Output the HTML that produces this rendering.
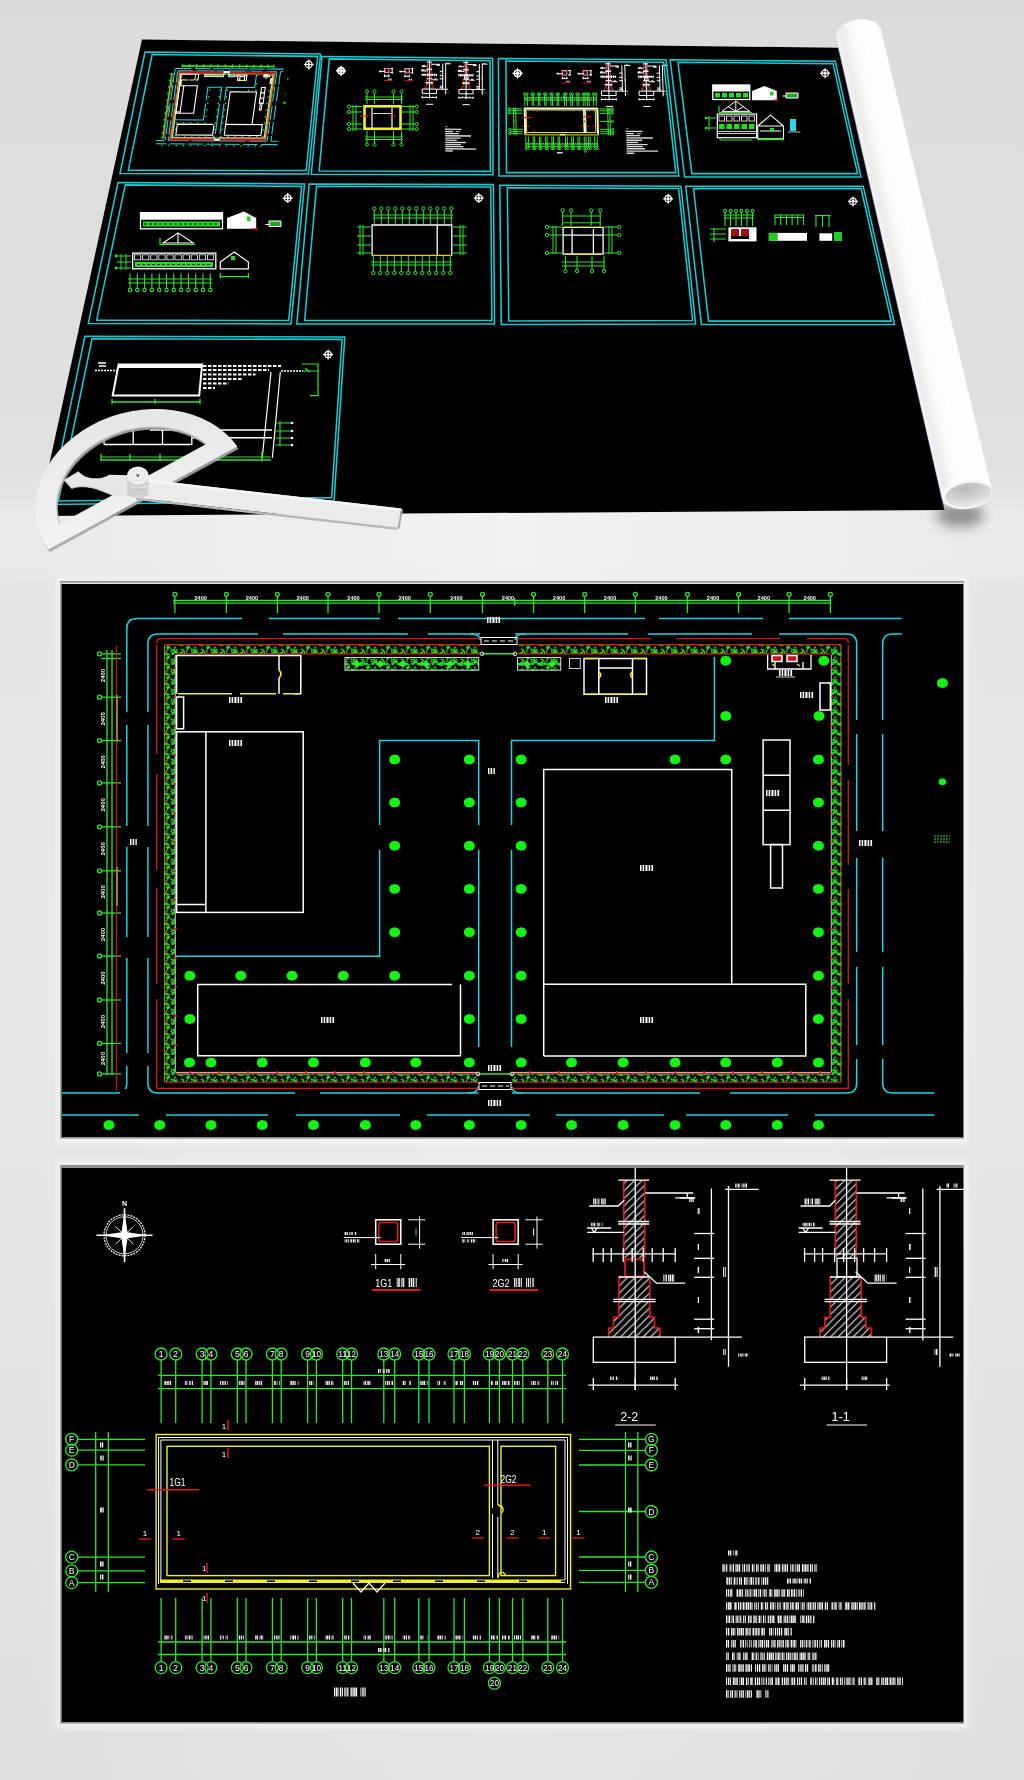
<!DOCTYPE html><html><head><meta charset="utf-8"><style>html,body{margin:0;padding:0;background:#e6e6e6}body{width:1024px;height:1780px;overflow:hidden;font-family:"Liberation Sans",sans-serif}svg{display:block;filter:blur(0.4px)}#P1m *,#P2m *,#P2am *{vector-effect:non-scaling-stroke}#P2m .pt,#P2am .pt{vector-effect:none}</style></head><body>
<svg width="1024" height="1780" viewBox="0 0 1024 1780">
<defs>
<linearGradient id="bg" x1="0" y1="0" x2="0" y2="1">
<stop offset="0" stop-color="#d9d9d9"/>
<stop offset="0.02" stop-color="#dcdcdc"/>
<stop offset="0.26" stop-color="#e0e0e0"/>
<stop offset="0.29" stop-color="#e7e7e7"/>
<stop offset="0.315" stop-color="#e7e7e7"/>
<stop offset="0.33" stop-color="#e5e5e5"/>
<stop offset="0.56" stop-color="#e8e8e8"/>
<stop offset="1" stop-color="#dedede"/>
</linearGradient>
<linearGradient id="rollg" x1="0" y1="0" x2="1" y2="0">
<stop offset="0" stop-color="#e4e4e4"/>
<stop offset="0.25" stop-color="#f6f6f6"/>
<stop offset="0.55" stop-color="#ffffff"/>
<stop offset="0.85" stop-color="#fbfbfb"/>
<stop offset="1" stop-color="#e2e2e2"/>
</linearGradient>
<radialGradient id="capg" cx="0.45" cy="0.2" r="0.85">
<stop offset="0" stop-color="#b9b9b9"/>
<stop offset="0.6" stop-color="#d6d6d6"/>
<stop offset="1" stop-color="#efefef"/>
</radialGradient>
<radialGradient id="shad" cx="0.5" cy="0.5" r="0.5">
<stop offset="0" stop-color="#000" stop-opacity="0.35"/>
<stop offset="1" stop-color="#000" stop-opacity="0"/>
</radialGradient>
<filter id="blur2" x="-50%" y="-50%" width="200%" height="200%"><feGaussianBlur stdDeviation="2"/></filter>
<filter id="blur6" x="-50%" y="-50%" width="200%" height="200%"><feGaussianBlur stdDeviation="6"/></filter>

<pattern id="hedge" width="20" height="10" patternUnits="userSpaceOnUse"><rect width="20" height="10" fill="#020e02"/><g stroke="#26e026" stroke-width="1.1" fill="none" stroke-linecap="round"><path d="M6.5,1.5 L7.1,0.1 L7.3,-0.3 M1.2,5.1 L-0.9,4.9 L-2.8,3.6 M8.5,8.3 L6.8,7.4 L7.4,8.8 M11.5,4.0 L13.6,2.5 L15.2,1.8 M2.9,1.2 L2.0,2.2 L0.6,2.5 M12.8,3.7 L13.0,2.3 L11.1,1.4 M13.6,4.3 L12.8,4.5 L12.6,3.9 M15.9,7.0 L14.8,7.2 L14.9,8.4 M14.6,2.9 L16.7,1.7 L16.3,2.5 M3.0,4.9 L1.0,5.4 L2.2,5.7 M17.5,3.1 L18.4,3.4 L18.7,3.3 M16.8,9.4 L16.7,10.0 L14.8,10.6 M12.9,9.9 L14.4,9.2 L13.9,9.8 M0.5,4.6 L-1.0,3.4 L-2.9,4.3 M2.6,2.5 L2.1,3.7 L0.3,3.5 M11.0,8.8 L12.4,10.0 L11.4,9.7 M7.2,8.8 L9.2,7.7 L7.8,6.9 M4.7,4.8 L5.1,4.1 L2.9,3.8 M7.4,5.7 L9.4,6.3 L9.4,6.6 M13.5,0.5 L15.3,1.4 L16.9,2.4 M7.8,4.0 L6.1,4.4 L4.2,3.0 M4.2,1.6 L3.5,0.2 L1.3,-0.9 M2.0,3.6 L-0.1,4.8 L0.4,3.7 M5.0,3.5 L4.4,2.3 L6.0,3.8 M9.3,4.8 L7.5,3.6 L6.8,2.8 M16.6,1.6 L14.5,3.1 L14.6,1.9"/><path transform="translate(20,0)" d="M6.5,1.5 L7.1,0.1 L7.3,-0.3 M1.2,5.1 L-0.9,4.9 L-2.8,3.6 M8.5,8.3 L6.8,7.4 L7.4,8.8 M11.5,4.0 L13.6,2.5 L15.2,1.8 M2.9,1.2 L2.0,2.2 L0.6,2.5 M12.8,3.7 L13.0,2.3 L11.1,1.4 M13.6,4.3 L12.8,4.5 L12.6,3.9 M15.9,7.0 L14.8,7.2 L14.9,8.4 M14.6,2.9 L16.7,1.7 L16.3,2.5 M3.0,4.9 L1.0,5.4 L2.2,5.7 M17.5,3.1 L18.4,3.4 L18.7,3.3 M16.8,9.4 L16.7,10.0 L14.8,10.6 M12.9,9.9 L14.4,9.2 L13.9,9.8 M0.5,4.6 L-1.0,3.4 L-2.9,4.3 M2.6,2.5 L2.1,3.7 L0.3,3.5 M11.0,8.8 L12.4,10.0 L11.4,9.7 M7.2,8.8 L9.2,7.7 L7.8,6.9 M4.7,4.8 L5.1,4.1 L2.9,3.8 M7.4,5.7 L9.4,6.3 L9.4,6.6 M13.5,0.5 L15.3,1.4 L16.9,2.4 M7.8,4.0 L6.1,4.4 L4.2,3.0 M4.2,1.6 L3.5,0.2 L1.3,-0.9 M2.0,3.6 L-0.1,4.8 L0.4,3.7 M5.0,3.5 L4.4,2.3 L6.0,3.8 M9.3,4.8 L7.5,3.6 L6.8,2.8 M16.6,1.6 L14.5,3.1 L14.6,1.9"/><path transform="translate(-20,0)" d="M6.5,1.5 L7.1,0.1 L7.3,-0.3 M1.2,5.1 L-0.9,4.9 L-2.8,3.6 M8.5,8.3 L6.8,7.4 L7.4,8.8 M11.5,4.0 L13.6,2.5 L15.2,1.8 M2.9,1.2 L2.0,2.2 L0.6,2.5 M12.8,3.7 L13.0,2.3 L11.1,1.4 M13.6,4.3 L12.8,4.5 L12.6,3.9 M15.9,7.0 L14.8,7.2 L14.9,8.4 M14.6,2.9 L16.7,1.7 L16.3,2.5 M3.0,4.9 L1.0,5.4 L2.2,5.7 M17.5,3.1 L18.4,3.4 L18.7,3.3 M16.8,9.4 L16.7,10.0 L14.8,10.6 M12.9,9.9 L14.4,9.2 L13.9,9.8 M0.5,4.6 L-1.0,3.4 L-2.9,4.3 M2.6,2.5 L2.1,3.7 L0.3,3.5 M11.0,8.8 L12.4,10.0 L11.4,9.7 M7.2,8.8 L9.2,7.7 L7.8,6.9 M4.7,4.8 L5.1,4.1 L2.9,3.8 M7.4,5.7 L9.4,6.3 L9.4,6.6 M13.5,0.5 L15.3,1.4 L16.9,2.4 M7.8,4.0 L6.1,4.4 L4.2,3.0 M4.2,1.6 L3.5,0.2 L1.3,-0.9 M2.0,3.6 L-0.1,4.8 L0.4,3.7 M5.0,3.5 L4.4,2.3 L6.0,3.8 M9.3,4.8 L7.5,3.6 L6.8,2.8 M16.6,1.6 L14.5,3.1 L14.6,1.9"/><path transform="translate(0,10)" d="M6.5,1.5 L7.1,0.1 L7.3,-0.3 M1.2,5.1 L-0.9,4.9 L-2.8,3.6 M8.5,8.3 L6.8,7.4 L7.4,8.8 M11.5,4.0 L13.6,2.5 L15.2,1.8 M2.9,1.2 L2.0,2.2 L0.6,2.5 M12.8,3.7 L13.0,2.3 L11.1,1.4 M13.6,4.3 L12.8,4.5 L12.6,3.9 M15.9,7.0 L14.8,7.2 L14.9,8.4 M14.6,2.9 L16.7,1.7 L16.3,2.5 M3.0,4.9 L1.0,5.4 L2.2,5.7 M17.5,3.1 L18.4,3.4 L18.7,3.3 M16.8,9.4 L16.7,10.0 L14.8,10.6 M12.9,9.9 L14.4,9.2 L13.9,9.8 M0.5,4.6 L-1.0,3.4 L-2.9,4.3 M2.6,2.5 L2.1,3.7 L0.3,3.5 M11.0,8.8 L12.4,10.0 L11.4,9.7 M7.2,8.8 L9.2,7.7 L7.8,6.9 M4.7,4.8 L5.1,4.1 L2.9,3.8 M7.4,5.7 L9.4,6.3 L9.4,6.6 M13.5,0.5 L15.3,1.4 L16.9,2.4 M7.8,4.0 L6.1,4.4 L4.2,3.0 M4.2,1.6 L3.5,0.2 L1.3,-0.9 M2.0,3.6 L-0.1,4.8 L0.4,3.7 M5.0,3.5 L4.4,2.3 L6.0,3.8 M9.3,4.8 L7.5,3.6 L6.8,2.8 M16.6,1.6 L14.5,3.1 L14.6,1.9"/><path transform="translate(0,-10)" d="M6.5,1.5 L7.1,0.1 L7.3,-0.3 M1.2,5.1 L-0.9,4.9 L-2.8,3.6 M8.5,8.3 L6.8,7.4 L7.4,8.8 M11.5,4.0 L13.6,2.5 L15.2,1.8 M2.9,1.2 L2.0,2.2 L0.6,2.5 M12.8,3.7 L13.0,2.3 L11.1,1.4 M13.6,4.3 L12.8,4.5 L12.6,3.9 M15.9,7.0 L14.8,7.2 L14.9,8.4 M14.6,2.9 L16.7,1.7 L16.3,2.5 M3.0,4.9 L1.0,5.4 L2.2,5.7 M17.5,3.1 L18.4,3.4 L18.7,3.3 M16.8,9.4 L16.7,10.0 L14.8,10.6 M12.9,9.9 L14.4,9.2 L13.9,9.8 M0.5,4.6 L-1.0,3.4 L-2.9,4.3 M2.6,2.5 L2.1,3.7 L0.3,3.5 M11.0,8.8 L12.4,10.0 L11.4,9.7 M7.2,8.8 L9.2,7.7 L7.8,6.9 M4.7,4.8 L5.1,4.1 L2.9,3.8 M7.4,5.7 L9.4,6.3 L9.4,6.6 M13.5,0.5 L15.3,1.4 L16.9,2.4 M7.8,4.0 L6.1,4.4 L4.2,3.0 M4.2,1.6 L3.5,0.2 L1.3,-0.9 M2.0,3.6 L-0.1,4.8 L0.4,3.7 M5.0,3.5 L4.4,2.3 L6.0,3.8 M9.3,4.8 L7.5,3.6 L6.8,2.8 M16.6,1.6 L14.5,3.1 L14.6,1.9"/></g></pattern>
<polygon id="tree" points="0.00,-4.96 1.80,-4.48 3.51,-4.16 4.41,-2.72 5.49,-1.44 5.22,0.00 5.58,1.52 4.32,2.88 3.42,4.08 1.71,4.56 0.00,4.96 -1.80,4.56 -3.51,4.16 -4.41,2.80 -5.49,1.44 -5.13,0.00 -5.49,-1.52 -4.41,-2.80 -3.42,-4.08 -1.71,-4.48" fill="#14f414"/>
<polygon id="shrub" points="-5,0 -2,-1.5 0,-4 2,-1.5 5,0 2,1.5 0,4 -2,1.5" fill="#30ee30"/>

<pattern id="hatch" width="7.5" height="7.5" patternUnits="userSpaceOnUse"><rect width="7.5" height="7.5" fill="#000"/><path d="M-1,8.5 L8.5,-1 M-1,1 L1,-1 M6.5,8.5 L8.5,6.5" stroke="#e8e8e8" stroke-width="1.15"/></pattern>
<g id="P1"><g stroke="#2ee62e" stroke-width="1.3" fill="none"><path d="M173,600.5 H831 M173,603.2 H831"/><path d="M174.9,596.5 V613"/><circle cx="174.9" cy="594.3" r="2"/><path d="M226.4,596.5 V613"/><circle cx="226.4" cy="594.3" r="2"/><path d="M277.4,596.5 V613"/><circle cx="277.4" cy="594.3" r="2"/><path d="M328,596.5 V613"/><circle cx="328" cy="594.3" r="2"/><path d="M379,596.5 V613"/><circle cx="379" cy="594.3" r="2"/><path d="M430.3,596.5 V613"/><circle cx="430.3" cy="594.3" r="2"/><path d="M482.5,596.5 V613"/><circle cx="482.5" cy="594.3" r="2"/><path d="M533.5,596.5 V613"/><circle cx="533.5" cy="594.3" r="2"/><path d="M584.7,596.5 V613"/><circle cx="584.7" cy="594.3" r="2"/><path d="M635.4,596.5 V613"/><circle cx="635.4" cy="594.3" r="2"/><path d="M687.5,596.5 V613"/><circle cx="687.5" cy="594.3" r="2"/><path d="M738.6,596.5 V613"/><circle cx="738.6" cy="594.3" r="2"/><path d="M789.1,596.5 V613"/><circle cx="789.1" cy="594.3" r="2"/><path d="M830.4,596.5 V613"/><circle cx="830.4" cy="594.3" r="2"/><path d="M514.7,598 V606"/><path d="M107,650 V1075 M112,650 V1075"/><path d="M101.5,653.8 H121"/><circle cx="99.5" cy="653.8" r="2"/><path d="M101.5,697.2 H121"/><circle cx="99.5" cy="697.2" r="2"/><path d="M101.5,740.6 H121"/><circle cx="99.5" cy="740.6" r="2"/><path d="M101.5,782.9 H121"/><circle cx="99.5" cy="782.9" r="2"/><path d="M101.5,826.8 H121"/><circle cx="99.5" cy="826.8" r="2"/><path d="M101.5,870.8 H121"/><circle cx="99.5" cy="870.8" r="2"/><path d="M101.5,913 H121"/><circle cx="99.5" cy="913" r="2"/><path d="M101.5,956.1 H121"/><circle cx="99.5" cy="956.1" r="2"/><path d="M101.5,1000 H121"/><circle cx="99.5" cy="1000" r="2"/><path d="M101.5,1043.4 H121"/><circle cx="99.5" cy="1043.4" r="2"/><path d="M101.5,1073.9 H121"/><circle cx="99.5" cy="1073.9" r="2"/><path d="M101,658.5 H121"/></g><g fill="#f4f4f4" font-family="Liberation Sans" font-size="5.6" font-weight="bold"><text x="200.65" y="600" text-anchor="middle">2400</text><text x="251.9" y="600" text-anchor="middle">2400</text><text x="302.7" y="600" text-anchor="middle">2400</text><text x="353.5" y="600" text-anchor="middle">2400</text><text x="404.65" y="600" text-anchor="middle">2400</text><text x="456.4" y="600" text-anchor="middle">2400</text><text x="508" y="600" text-anchor="middle">2400</text><text x="559.1" y="600" text-anchor="middle">2400</text><text x="610.05" y="600" text-anchor="middle">2400</text><text x="661.45" y="600" text-anchor="middle">2400</text><text x="713.05" y="600" text-anchor="middle">2400</text><text x="763.85" y="600" text-anchor="middle">2400</text><text x="809.75" y="600" text-anchor="middle">2400</text></g><g fill="#fff" font-family="Liberation Sans" font-size="6" font-weight="bold"><text transform="translate(105,675.5) rotate(-90)" text-anchor="middle">2400</text><text transform="translate(105,718.9) rotate(-90)" text-anchor="middle">2400</text><text transform="translate(105,761.75) rotate(-90)" text-anchor="middle">2400</text><text transform="translate(105,804.85) rotate(-90)" text-anchor="middle">2400</text><text transform="translate(105,848.8) rotate(-90)" text-anchor="middle">2400</text><text transform="translate(105,891.9) rotate(-90)" text-anchor="middle">2400</text><text transform="translate(105,934.55) rotate(-90)" text-anchor="middle">2400</text><text transform="translate(105,978.05) rotate(-90)" text-anchor="middle">2400</text><text transform="translate(105,1021.7) rotate(-90)" text-anchor="middle">2400</text><text transform="translate(105,1058.65) rotate(-90)" text-anchor="middle">2400</text></g><path d="M116.5,646 V1091" stroke="#c01818" stroke-width="1.3"/><path d="M117,695 V742 M117,867 V906" stroke="#a89a30" stroke-width="1.6"/><g stroke="#1ed2e2" stroke-width="1.5" fill="none"><path d="M901.5,618.5 H136.8 Q126.8,618.5 126.8,628.5 V1083 Q126.8,1093 116.8,1093 H62"/><path d="M480,634 H157.9 Q147.9,634 147.9,644 V1083 Q147.9,1093 157.9,1093 H478"/><path d="M470,634 Q480,634 480,640 M525,634 Q515,634 515,640"/><path d="M515,634 H846.7 Q856.7,634 856.7,644 V1083 Q856.7,1093 846.7,1093 H512"/><path d="M468,1093 Q478,1093 478,1087 M522,1093 Q512,1093 512,1087"/><path d="M902,634 H892.7 Q882.7,634 882.7,644 V1083 Q882.7,1093 892.7,1093 H934.4"/><path d="M62,1115 H934.4"/><path d="M176,956.3 H379.6 V740.6 H478.7 V1047"/><path d="M511.5,1047 V740.6 H714.4 V657"/></g><rect x="242" y="614" width="27" height="8" fill="#000"/><rect x="380" y="614" width="18" height="8" fill="#000"/><rect x="645" y="614" width="14" height="8" fill="#000"/><rect x="763" y="614" width="26" height="8" fill="#000"/><rect x="258" y="630" width="25" height="8" fill="#000"/><rect x="408" y="630" width="20" height="8" fill="#000"/><rect x="628" y="630" width="20" height="8" fill="#000"/><rect x="752" y="630" width="27" height="8" fill="#000"/><rect x="920" y="630" width="14" height="8" fill="#000"/><rect x="122" y="712" width="10" height="13" fill="#000"/><rect x="143" y="712" width="10" height="13" fill="#000"/><rect x="122" y="826" width="10" height="21" fill="#000"/><rect x="143" y="826" width="10" height="21" fill="#000"/><rect x="122" y="937" width="10" height="21" fill="#000"/><rect x="143" y="937" width="10" height="21" fill="#000"/><rect x="122" y="1053" width="10" height="13" fill="#000"/><rect x="143" y="1053" width="10" height="13" fill="#000"/><rect x="852" y="720" width="10" height="14" fill="#000"/><rect x="878" y="720" width="10" height="14" fill="#000"/><rect x="852" y="831" width="10" height="27" fill="#000"/><rect x="878" y="831" width="10" height="27" fill="#000"/><rect x="852" y="952" width="10" height="15" fill="#000"/><rect x="878" y="952" width="10" height="15" fill="#000"/><rect x="852" y="1045" width="10" height="14" fill="#000"/><rect x="878" y="1045" width="10" height="14" fill="#000"/><rect x="139" y="1111" width="27" height="8" fill="#000"/><rect x="268" y="1111" width="28" height="8" fill="#000"/><rect x="400" y="1111" width="27" height="8" fill="#000"/><rect x="530" y="1111" width="26" height="8" fill="#000"/><rect x="664" y="1111" width="22" height="8" fill="#000"/><rect x="788" y="1111" width="27" height="8" fill="#000"/><rect x="120" y="1089" width="8" height="8" fill="#000"/><rect x="375" y="825" width="10" height="25" fill="#000"/><rect x="474" y="825" width="10" height="25" fill="#000"/><rect x="507" y="825" width="10" height="25" fill="#000"/><rect x="295" y="1089" width="25" height="8" fill="#000"/><rect x="700" y="1089" width="30" height="8" fill="#000"/><g stroke="#d81818" stroke-width="1.4" fill="none"><path d="M480,638.6 H161 Q156.7,638.6 156.7,643 M512,1088.5 H848.3 M478,1088.5 H156.7 M848.3,643 Q848.3,638.6 844,638.6 H518"/></g><rect x="651" y="636" width="25" height="5" fill="#000"/><rect x="780" y="636" width="27" height="5" fill="#000"/><path d="M156.7,645 V754 M156.7,774 V870 M156.7,888 V984 M156.7,999 V1088.5 M848.3,645 V765 M848.3,780 V865 M848.3,889 V984 M848.3,999 V1088.5" stroke="#b82010" stroke-width="1.4"/><g fill="url(#hedge)"><rect x="164.9" y="645" width="315" height="8.8"/><rect x="518" y="645" width="322.8" height="8.8"/><rect x="164.9" y="645" width="10" height="437"/><rect x="831.8" y="645" width="9" height="437"/><rect x="164.9" y="1074" width="313" height="8"/><rect x="512" y="1074" width="328.8" height="8"/></g><path d="M164.9,644.6 H480 M518,644.6 H840.8 M164.9,1082.3 H478 M512,1082.3 H840.8" stroke="#d81818" stroke-width="1.1" fill="none"/><path d="M164.6,645 V1082 M841,645 V1082" stroke="#c8a020" stroke-width="0.9" fill="none"/><path d="M175,653.8 H480 M518,653.8 H831.8 M175,1073.6 H478 M512,1073.6 H831.8" stroke="#d81818" stroke-width="1.2" fill="none"/><path d="M175.3,655 V1072.5 M831.3,655 V1072.5 M176,1072.4 H477 M513,1072.4 H830.5" stroke="#e8e0d0" stroke-width="0.9" fill="none"/><path d="M173.5,668 h3.5 M829.8,668 h3.5 M173.5,697 h3.5 M829.8,697 h3.5 M173.5,726 h3.5 M829.8,726 h3.5 M173.5,755 h3.5 M829.8,755 h3.5 M173.5,784 h3.5 M829.8,784 h3.5 M173.5,813 h3.5 M829.8,813 h3.5 M173.5,842 h3.5 M829.8,842 h3.5 M173.5,871 h3.5 M829.8,871 h3.5 M173.5,900 h3.5 M829.8,900 h3.5 M173.5,929 h3.5 M829.8,929 h3.5 M173.5,958 h3.5 M829.8,958 h3.5 M173.5,987 h3.5 M829.8,987 h3.5 M173.5,1016 h3.5 M829.8,1016 h3.5 M173.5,1045 h3.5 M829.8,1045 h3.5 M190,1071 v3 M219,1071 v3 M248,1071 v3 M277,1071 v3 M306,1071 v3 M335,1071 v3 M364,1071 v3 M393,1071 v3 M422,1071 v3 M451,1071 v3 M530,1071 v3 M559,1071 v3 M588,1071 v3 M617,1071 v3 M646,1071 v3 M675,1071 v3 M704,1071 v3 M733,1071 v3 M762,1071 v3 M791,1071 v3 M820,1071 v3" stroke="#d81818" stroke-width="1.6"/><g stroke="#fff" stroke-width="1" fill="none"><rect x="481" y="637.5" width="36" height="7"/><path d="M484,641 H514" stroke-dasharray="5 3"/><rect x="479" y="1082.5" width="32" height="7"/><path d="M482,1086 H509" stroke-dasharray="5 3"/></g><path d="M482,653.8 H515 M478,1073.9 H512" stroke="#2ee62e" stroke-width="1.5"/><g fill="none" stroke="#fff" stroke-width="0.9"><circle cx="482" cy="653.8" r="1.8"/><circle cx="515" cy="653.8" r="1.8"/><circle cx="478" cy="1073.9" r="1.8"/><circle cx="512" cy="1073.9" r="1.8"/></g><rect x="345" y="657.6" width="133.7" height="12.6" fill="url(#hedge)" stroke="#ddd" stroke-width="1"/><rect x="517.6" y="657.6" width="43.1" height="12.6" fill="url(#hedge)" stroke="#ddd" stroke-width="1"/><use href="#shrub" x="357" y="664"/><use href="#shrub" x="380" y="664"/><use href="#shrub" x="403" y="664"/><use href="#shrub" x="426" y="664"/><use href="#shrub" x="450" y="664"/><use href="#shrub" x="468" y="664"/><use href="#shrub" x="527" y="664"/><use href="#shrub" x="552" y="664"/><rect x="569.5" y="658.5" width="10.8" height="10" fill="none" stroke="#ccc" stroke-width="1"/><g stroke="#fff" stroke-width="1.5" fill="none"><path d="M176.6,693.7 V655.6 H300.8 V693.7 H294"/><path d="M279,655.6 V670 M279,678 V693.7"/><rect x="176.6" y="697" width="7" height="31.8"/><rect x="176.6" y="731.8" width="126.6" height="180.6"/><path d="M205.9,731.8 V912.4 M176.6,904.4 H205.9"/><path d="M452,984.5 H197.7 V1055.7 H460.5 V984.5"/><path d="M543.7,1056 V769.4 H731.7 V984.2"/><path d="M543.7,984.2 H805.8 V1056 H543.7"/><rect x="763.1" y="740" width="26.9" height="104.6"/><path d="M763.1,775.3 H790 M763.1,810.2 H790"/><rect x="770.6" y="844.6" width="11.9" height="43.4"/><rect x="820" y="683" width="10.4" height="27"/><path d="M767.6,654.7 V669 H811 V654.7 M775,669 V662 M803,669 V662" stroke="#fff" stroke-width="1.3" fill="none"/><rect x="772" y="655.5" width="10" height="6" fill="#c01818"/><rect x="787" y="655.5" width="10" height="6" fill="#c01818"/><path d="M772,664 l3,2 M797,664 l3,2" stroke="#f0f020" stroke-width="1.2"/><path d="M776,677 H795" stroke="#fff" stroke-width="0.8"/><path d="M584,694.3 V658.5 H646.5 V694.3 Z M598.8,658.5 V694.3 M632.5,658.5 V694.3 M598.8,668 H632.5"/></g><g stroke="#f0f020" stroke-width="1.6" fill="none"><path d="M178,693.7 H232 M240,693.7 H276 M283,693.7 H298"/><path d="M586,694.3 H596 M601,694.3 H630 M635,694.3 H645 M586,658.5 H596 M635,658.5 H645"/><path d="M279,670 q4,4 0,8 M598.8,672 q4,3 0,6 M632.5,672 q-4,3 0,6"/></g><use href="#tree" x="725.7" y="660.7"/><use href="#tree" x="823.8" y="660.7"/><use href="#tree" x="942.4" y="683"/><use href="#tree" x="725.7" y="716"/><use href="#tree" x="819" y="716"/><use href="#tree" x="394.6" y="759.5"/><use href="#tree" x="469.3" y="759.5"/><use href="#tree" x="521.1" y="759.5"/><use href="#tree" x="675" y="759.5"/><use href="#tree" x="725.7" y="759.5"/><use href="#tree" x="818.4" y="759.5"/><use href="#tree" x="394.6" y="802.5"/><use href="#tree" x="469.3" y="802.5"/><use href="#tree" x="521.1" y="802.5"/><use href="#tree" x="818.4" y="802.5"/><use href="#tree" x="394.6" y="845.8"/><use href="#tree" x="469.3" y="845.8"/><use href="#tree" x="521.1" y="845.8"/><use href="#tree" x="818.4" y="845.8"/><use href="#tree" x="394.6" y="888.9"/><use href="#tree" x="469.3" y="888.9"/><use href="#tree" x="521.1" y="888.9"/><use href="#tree" x="818.4" y="888.9"/><use href="#tree" x="394.6" y="932.3"/><use href="#tree" x="469.3" y="932.3"/><use href="#tree" x="521.1" y="932.3"/><use href="#tree" x="818.4" y="932.3"/><use href="#tree" x="189.8" y="975.7"/><use href="#tree" x="240.8" y="975.7"/><use href="#tree" x="292" y="975.7"/><use href="#tree" x="343.3" y="975.7"/><use href="#tree" x="394.6" y="975.7"/><use href="#tree" x="469.3" y="975.7"/><use href="#tree" x="521.1" y="975.7"/><use href="#tree" x="818.4" y="975.7"/><use href="#tree" x="189.8" y="1019"/><use href="#tree" x="469.3" y="1019"/><use href="#tree" x="521.1" y="1019"/><use href="#tree" x="818.4" y="1019"/><use href="#tree" x="189.5" y="1062.5"/><use href="#tree" x="210.9" y="1062.5"/><use href="#tree" x="262.2" y="1062.5"/><use href="#tree" x="313.4" y="1062.5"/><use href="#tree" x="365.3" y="1062.5"/><use href="#tree" x="415.7" y="1062.5"/><use href="#tree" x="469.3" y="1062.5"/><use href="#tree" x="521.1" y="1062.5"/><use href="#tree" x="571.5" y="1062.5"/><use href="#tree" x="623.1" y="1062.5"/><use href="#tree" x="675" y="1062.5"/><use href="#tree" x="725.7" y="1062.5"/><use href="#tree" x="777.2" y="1062.5"/><use href="#tree" x="818.4" y="1062.5"/><use href="#tree" x="108.9" y="1125"/><use href="#tree" x="159.6" y="1125"/><use href="#tree" x="210.9" y="1125"/><use href="#tree" x="262.2" y="1125"/><use href="#tree" x="313.4" y="1125"/><use href="#tree" x="365.3" y="1125"/><use href="#tree" x="415.7" y="1125"/><use href="#tree" x="469.3" y="1125"/><use href="#tree" x="521.1" y="1125"/><use href="#tree" x="571.5" y="1125"/><use href="#tree" x="623.1" y="1125"/><use href="#tree" x="675" y="1125"/><use href="#tree" x="725.7" y="1125"/><use href="#tree" x="777.2" y="1125"/><use href="#tree" x="818.4" y="1125"/><use href="#tree" x="942.4" y="781.8" transform="translate(942.4 781.8) scale(0.7) translate(-942.4 -781.8)"/><g stroke="#2ee62e" stroke-width="1"><path d="M934,836 h16 M934,839 h16 M934,842 h16" stroke-dasharray="2 1"/></g><g class="lbl"><path d="M229,700 H242.6" stroke="#fff" stroke-width='6' stroke-dasharray='1.1 0.5 0.7 0.6 1.3 0.8 0.6 0.4' fill="none"/><path d="M229,743 H242.6" stroke="#fff" stroke-width='6' stroke-dasharray='1.1 0.5 0.7 0.6 1.3 0.8 0.6 0.4' fill="none"/><path d="M321,1020 H334.6" stroke="#fff" stroke-width='6' stroke-dasharray='1.1 0.5 0.7 0.6 1.3 0.8 0.6 0.4' fill="none"/><path d="M640,868 H653.6" stroke="#fff" stroke-width='6' stroke-dasharray='1.1 0.5 0.7 0.6 1.3 0.8 0.6 0.4' fill="none"/><path d="M640,1020 H653.6" stroke="#fff" stroke-width='6' stroke-dasharray='1.1 0.5 0.7 0.6 1.3 0.8 0.6 0.4' fill="none"/><path d="M766,793 H779.6" stroke="#fff" stroke-width='6' stroke-dasharray='1.1 0.5 0.7 0.6 1.3 0.8 0.6 0.4' fill="none"/><path d="M800,695 H813.6" stroke="#fff" stroke-width='6' stroke-dasharray='1.1 0.5 0.7 0.6 1.3 0.8 0.6 0.4' fill="none"/><path d="M779,673 H792.6" stroke="#fff" stroke-width='6' stroke-dasharray='1.1 0.5 0.7 0.6 1.3 0.8 0.6 0.4' fill="none"/><path d="M605,700 H618.6" stroke="#fff" stroke-width='6' stroke-dasharray='1.1 0.5 0.7 0.6 1.3 0.8 0.6 0.4' fill="none"/><path d="M488,771 H494.8" stroke="#fff" stroke-width='6' stroke-dasharray='1.1 0.5 0.7 0.6 1.3 0.8 0.6 0.4' fill="none"/><path d="M488,1068 H501.6" stroke="#fff" stroke-width='6' stroke-dasharray='1.1 0.5 0.7 0.6 1.3 0.8 0.6 0.4' fill="none"/><path d="M488,1103 H501.6" stroke="#fff" stroke-width='6' stroke-dasharray='1.1 0.5 0.7 0.6 1.3 0.8 0.6 0.4' fill="none"/><path d="M487,620 H500.6" stroke="#fff" stroke-width='6' stroke-dasharray='1.1 0.5 0.7 0.6 1.3 0.8 0.6 0.4' fill="none"/><path d="M130,842 H136.8" stroke="#fff" stroke-width='6' stroke-dasharray='1.1 0.5 0.7 0.6 1.3 0.8 0.6 0.4' fill="none"/><path d="M859,843 H872.6" stroke="#fff" stroke-width='6' stroke-dasharray='1.1 0.5 0.7 0.6 1.3 0.8 0.6 0.4' fill="none"/></g></g>
<g id="P2"><g stroke="#fff" fill="none" stroke-width="1.2"><circle cx="124.5" cy="1235.3" r="20.5" stroke-dasharray="2 1"/><circle cx="124.5" cy="1235.3" r="18.5" stroke-width="0.8"/><path d="M96.5,1235.3 H152.5 M124.5,1208.3 V1262.3" stroke-width="1.6"/><path d="M115.5,1226.3 L133.5,1244.3 M133.5,1226.3 L115.5,1244.3" stroke-width="0.9"/></g><polygon points="124.5,1211.3 127.5,1232.3 148.5,1235.3 127.5,1238.3 124.5,1259.3 121.5,1238.3 100.5,1235.3 121.5,1232.3" fill="#fff"/><text x="124.5" y="1206.3" fill="#fff" font-family="Liberation Sans" font-size="7" font-weight="bold" text-anchor="middle">N</text><rect x="375.7" y="1219.8" width="25.1" height="24.4" fill="none" stroke="#fff" stroke-width="1.5"/><rect x="378.7" y="1222.5" width="19" height="19" rx="2.5" fill="none" stroke="#e01818" stroke-width="1.6"/><path d="M343.7,1237.6 H380.7" stroke="#fff" stroke-width="1"/><path class="pt" d="M344.7,1233.5 H356.7" stroke="#fff" stroke-width='3.2' stroke-dasharray='1.49 0.51 1.04 1.67 0.69 0.66 0.89 0.66 0.78 1.8 1.29 0.48 1.21 0.49 1.26 0.41 1.19 1.58 1.44 0.38 1.15 0.38 1.34 1.61' fill="none"/><path class="pt" d="M344.7,1240.8 H359.7" stroke="#fff" stroke-width='3.2' stroke-dasharray='0.83 0.75 1.02 0.83 0.79 1.47 1.49 0.89 1.32 0.46 1.18 1.48 1.43 0.78 0.68 0.75 1.43 0.9 0.61 3.74 1.41 0.78 1.47 0.78 0.62 1.61' fill="none"/><g stroke="#fff" stroke-width="1" fill="none"><path d="M419.6,1216.4 V1248.6 M408,1219.8 H425.2 M408,1244.2 H425.2"/><path d="M371,1264.5 H405.2 M375.7,1254 V1269.3 M400.8,1254 V1269.3"/></g><path class="pt" d="M415.7,1232 H416.7" stroke="#fff" stroke-width='7' stroke-dasharray='0.66 0.66 1.05 1.52 1.01 0.74 0.92 0.53 0.89 0.81 0.6 1.85' fill="none"/><path class="pt" d="M384.7,1260.5 H390.7" stroke="#fff" stroke-width='3' stroke-dasharray='1.31 0.57 1.35 0.65 1.24 1.96 0.93 0.45 0.71 0.9 1.11 1.51 1.48 0.83 0.65 0.72 0.81 1.61' fill="none"/><text x="375.2" y="1287" fill="#fff" font-family="Liberation Sans" font-size="10.5" textLength="17" lengthAdjust="spacingAndGlyphs">1G1</text><path class="pt" d="M396.7,1282.5 H404.7" stroke="#fff" stroke-width='9' stroke-dasharray='0.84 0.48 0.81 0.44 0.85 1.23 1.01 0.48 1.03 0.53 0.8 0.88 1.45 1.73 1.08 0.48 0.82 1.48' fill="none"/><path class="pt" d="M408.7,1282.5 H416.7" stroke="#fff" stroke-width='9' stroke-dasharray='1.49 0.76 1.45 0.67 1.21 1.46 1.24 0.58 0.7 1.94 1.2 0.86 0.9 1.33 0.97 0.75 1.17 0.44 0.73 0.65 0.89 1.64' fill="none"/><path d="M372,1290 H420.7" stroke="#e01818" stroke-width="2"/><rect x="493.1" y="1219.8" width="25.1" height="24.4" fill="none" stroke="#fff" stroke-width="1.5"/><rect x="496.1" y="1222.5" width="19" height="19" rx="2.5" fill="none" stroke="#e01818" stroke-width="1.6"/><path d="M461.1,1237.6 H498.1" stroke="#fff" stroke-width="1"/><path class="pt" d="M462.1,1233.5 H474.1" stroke="#fff" stroke-width='3.2' stroke-dasharray='0.62 0.82 1.39 1.54 1.2 0.65 0.65 0.52 1.29 0.85 1.2 1.44 1.13 0.67 1.2 0.76 1.38 4.45' fill="none"/><path class="pt" d="M462.1,1240.8 H477.1" stroke="#fff" stroke-width='3.2' stroke-dasharray='0.64 0.52 0.76 0.59 0.71 1.9 0.65 0.58 0.69 1.74 1.23 0.74 1.16 0.43 0.79 1.72 1.05 0.55 1.3 0.62 0.84 0.5 1.47 1.55 0.94 0.68 1.4 0.78 1.45 1.82' fill="none"/><g stroke="#fff" stroke-width="1" fill="none"><path d="M537,1216.4 V1248.6 M525.4,1219.8 H542.6 M525.4,1244.2 H542.6"/><path d="M488.4,1264.5 H522.6 M493.1,1254 V1269.3 M518.2,1254 V1269.3"/></g><path class="pt" d="M533.1,1232 H534.1" stroke="#fff" stroke-width='7' stroke-dasharray='1.27 0.4 1.14 0.73 1.06 0.43 1.05 1.64 0.82 0.45 1.47 0.8 0.94 0.46 0.66 1.66' fill="none"/><path class="pt" d="M502.1,1260.5 H508.1" stroke="#fff" stroke-width='3' stroke-dasharray='0.68 0.78 0.64 0.84 1.08 0.56 1.45 3.6 1.14 0.46 0.73 0.88 0.98 1.32' fill="none"/><text x="492.6" y="1287" fill="#fff" font-family="Liberation Sans" font-size="10.5" textLength="17" lengthAdjust="spacingAndGlyphs">2G2</text><path class="pt" d="M514.1,1282.5 H522.1" stroke="#fff" stroke-width='9' stroke-dasharray='1.31 0.86 0.97 1.14 1.49 0.87 1.06 0.69 1.44 1.56 0.86 0.51 0.7 0.66 1.36 2.18' fill="none"/><path class="pt" d="M526.1,1282.5 H534.1" stroke="#fff" stroke-width='9' stroke-dasharray='1.04 0.83 1.12 0.88 0.81 1.62 0.94 0.37 1.26 0.67 0.79 4.48 1.47 0.49 0.77 2.12' fill="none"/><path d="M489.4,1290 H538.1" stroke="#e01818" stroke-width="2"/><g><rect x="623.8" y="1180.2" width="21" height="78" fill="url(#hatch)"/><rect x="618.8" y="1276.6" width="31" height="41" fill="url(#hatch)"/><rect x="613.5" y="1317.3" width="41" height="10.7" fill="url(#hatch)"/><rect x="608.6" y="1328" width="51.4" height="9.1" fill="url(#hatch)"/><path d="M623.8,1180.2 V1258.3 M644.8,1180.2 V1258.3 M618.8,1276.6 V1317.3 H613.5 V1328 H608.6 V1337 M649.8,1276.6 V1317.3 H654.5 V1328 H660 V1337" stroke="#e01818" stroke-width="1.6" fill="none"/><rect x="625" y="1259.4" width="19" height="17.2" fill="none" stroke="#e01818" stroke-width="1.8"/><g stroke="#fff" stroke-width="1.3" fill="none"><path d="M635.2,1168 V1390"/><path d="M618.2,1180.2 H649.2 M618.2,1221.5 H649.2 M618.2,1224 H649.2 M613.2,1299.4 H655.6 M613.2,1301.6 H655.6"/><rect x="593.3" y="1337.1" width="81.9" height="25.2"/><path d="M675.2,1337.1 H741.8 M645.2,1193 H693.2 M725.2,1189.4 H758.7"/><path d="M711.4,1188.6 V1340.2 M728.5,1186 V1366.8"/><path d="M694.2,1233.5 H714.2"/><path d="M694.2,1258.3 H714.2"/><path d="M694.2,1277.3 H714.2"/><path d="M694.2,1319.2 H714.2"/><path d="M694.2,1328.7 H714.2"/><path d="M588.4,1385.1 H678.2 M593.3,1378 V1390 M635.2,1378 V1390 M675.2,1378 V1390"/><path d="M592.2,1253.9 H675.7" /><path d="M593.2,1248 V1262"/><path d="M603.2,1248 V1262"/><path d="M611.2,1248 V1262"/><path d="M623.2,1248 V1262"/><path d="M632.2,1248 V1262"/><path d="M643.2,1248 V1262"/><path d="M652.2,1248 V1262"/><path d="M663.2,1248 V1262"/><path d="M675.2,1248 V1262"/><path d="M589.2,1206 H618.2 L624.2,1200 M587.2,1228 H611.2 M587.2,1232.4 H624.2 M591.2,1228 l3,4.4 3,-4.4 M675.2,1197.8 H694.2" /><path d="M644.2,1271.8 L656.5,1283.2 H685.2 M618.8,1277 H649.8"/><path d="M687.2,1193 V1198 M680.2,1198 H695.2"/></g><path class="pt" d="M593.2,1201.5 H609.2" stroke="#fff" stroke-width='6' stroke-dasharray='1.11 0.53 1.14 0.71 0.79 0.83 1.04 1.77 1.45 0.39 0.73 0.72 1.27 4.4 1.18 0.65 0.62 1.24 0.97 0.55 1.39 1.52' fill="none"/><path class="pt" d="M591.2,1224.5 H603.2" stroke="#fff" stroke-width='3.5' stroke-dasharray='1.15 0.41 0.67 0.55 1.26 1.64 0.76 0.63 0.64 0.37 0.63 1.65 0.64 0.78 0.83 0.61 0.68 0.52 1.15 3.61 1.16 0.45 1.22 0.8 0.94 2.16' fill="none"/><path class="pt" d="M663.2,1278 H675.2" stroke="#fff" stroke-width='7' stroke-dasharray='0.62 0.79 0.94 0.68 0.76 1.19 1.31 0.47 1.28 0.66 1.16 0.44 0.76 1.42 1.49 0.41 0.77 0.54 1.41 1.61 1.31 0.41 0.65 0.73 0.91 4.57' fill="none"/><path class="pt" d="M735.2,1185.5 H747.2" stroke="#fff" stroke-width='4' stroke-dasharray='0.73 0.51 1.01 0.68 1.5 1.96 0.88 0.53 0.68 0.81 1.03 0.4 1.11 1.8 0.75 0.85 1.43 2.01 0.73 0.53 0.88 0.38 1.3 3.67' fill="none"/><path class="pt" d="M738.2,1355 H748.2" stroke="#fff" stroke-width='3' stroke-dasharray='1.04 0.8 0.78 0.55 0.88 0.52 0.7 1.17 0.96 0.44 1.25 0.61 0.89 1.82 0.96 0.71 0.73 0.73 1.19 0.64 1.27 1.8' fill="none"/><path class="pt" d="M689.2,1200 H694.2" stroke="#fff" stroke-width='4' stroke-dasharray='1.2 0.58 0.78 0.69 1.2 2.01 0.95 0.74 0.82 0.58 0.82 1.74 1.28 0.84 1.13 1.79' fill="none"/><path class="pt" d="M697.7,1211 H699.7" stroke="#fff" stroke-width='6' stroke-dasharray='1.08 0.36 0.62 0.83 0.72 0.63 0.88 1.6 0.84 0.64 1.13 0.57 0.92 1.68' fill="none"/><path class="pt" d="M697.7,1247 H699.7" stroke="#fff" stroke-width='6' stroke-dasharray='1.32 0.9 0.87 0.8 1.3 1.7 0.85 0.74 0.79 0.5 1.41 1.34' fill="none"/><path class="pt" d="M697.7,1270 H699.7" stroke="#fff" stroke-width='6' stroke-dasharray='1.43 0.9 1.15 0.68 1.29 1.83 1.49 0.54 0.8 1.8' fill="none"/><path class="pt" d="M697.7,1300 H699.7" stroke="#fff" stroke-width='6' stroke-dasharray='1.22 0.76 0.69 1.54 1.21 0.57 1.35 1.4 1.15 0.75 0.72 0.87 1.16 1.61' fill="none"/><path class="pt" d="M697.7,1330 H699.7" stroke="#fff" stroke-width='6' stroke-dasharray='1.44 0.61 0.68 2.02 0.89 0.62 1.49 0.55 0.93 0.54 0.69 1.36' fill="none"/><path class="pt" d="M723.2,1272 H726.2" stroke="#fff" stroke-width='10' stroke-dasharray='1.06 0.84 0.71 0.53 1.32 0.45 1.34 1.33 1.08 0.68 0.6 0.7 0.66 4.39' fill="none"/><path class="pt" d="M723.2,1352 H726.2" stroke="#fff" stroke-width='6' stroke-dasharray='1.03 0.86 0.76 0.88 1.25 0.79 0.95 1.69 1.23 0.49 1.5 1.64' fill="none"/><path class="pt" d="M610.2,1378.3 H618.2" stroke="#fff" stroke-width='3.5' stroke-dasharray='1.07 0.45 0.61 0.72 0.83 1.98 1.34 0.74 1.0 0.78 0.93 1.45 1.1 0.73 1.29 0.5 1.48 0.38 0.65 1.57' fill="none"/><path class="pt" d="M650.2,1378.3 H658.2" stroke="#fff" stroke-width='3.5' stroke-dasharray='1.06 0.52 1.22 0.55 1.34 1.46 1.29 0.69 0.76 0.65 0.76 1.64 1.01 0.68 0.63 1.54 0.9 0.6 1.18 0.76 1.32 1.7' fill="none"/><text x="620.2" y="1421" fill="#fff" font-family="Liberation Sans" font-size="13" textLength="18" lengthAdjust="spacingAndGlyphs">2-2</text><path d="M615.2,1425 H655.7" stroke="#fff" stroke-width="1.2"/></g><g><rect x="835.2" y="1180.2" width="21" height="78" fill="url(#hatch)"/><rect x="830.2" y="1276.6" width="31" height="41" fill="url(#hatch)"/><rect x="824.9" y="1317.3" width="41" height="10.7" fill="url(#hatch)"/><rect x="820" y="1328" width="51.4" height="9.1" fill="url(#hatch)"/><path d="M835.2,1180.2 V1258.3 M856.2,1180.2 V1258.3 M830.2,1276.6 V1317.3 H824.9 V1328 H820 V1337 M861.2,1276.6 V1317.3 H865.9 V1328 H871.4 V1337" stroke="#e01818" stroke-width="1.6" fill="none"/><rect x="837" y="1258.3" width="20" height="18.3" fill="none" stroke="#fff" stroke-width="1.3"/><g stroke="#fff" stroke-width="1.3" fill="none"><path d="M846.6,1168 V1390"/><path d="M829.6,1180.2 H860.6 M829.6,1221.5 H860.6 M829.6,1224 H860.6 M824.6,1299.4 H867 M824.6,1301.6 H867"/><rect x="804.7" y="1337.1" width="81.9" height="25.2"/><path d="M886.6,1337.1 H953.2 M856.6,1193 H904.6 M936.6,1189.4 H970.1"/><path d="M922.8,1188.6 V1340.2 M939.9,1186 V1366.8"/><path d="M905.6,1233.5 H925.6"/><path d="M905.6,1258.3 H925.6"/><path d="M905.6,1277.3 H925.6"/><path d="M905.6,1319.2 H925.6"/><path d="M905.6,1328.7 H925.6"/><path d="M799.8,1385.1 H889.6 M804.7,1378 V1390 M846.6,1378 V1390 M886.6,1378 V1390"/><path d="M803.6,1253.9 H887.1" /><path d="M804.6,1248 V1262"/><path d="M814.6,1248 V1262"/><path d="M822.6,1248 V1262"/><path d="M834.6,1248 V1262"/><path d="M843.6,1248 V1262"/><path d="M854.6,1248 V1262"/><path d="M863.6,1248 V1262"/><path d="M874.6,1248 V1262"/><path d="M886.6,1248 V1262"/><path d="M800.6,1206 H829.6 L835.6,1200 M798.6,1228 H822.6 M798.6,1232.4 H835.6 M802.6,1228 l3,4.4 3,-4.4 M886.6,1197.8 H905.6" /><path d="M855.6,1271.8 L867.9,1283.2 H896.6 M830.2,1277 H861.2"/><path d="M898.6,1193 V1198 M891.6,1198 H906.6"/></g><path class="pt" d="M804.6,1201.5 H820.6" stroke="#fff" stroke-width='6' stroke-dasharray='1.33 0.56 0.99 0.49 1.18 1.41 0.81 0.64 1.09 1.71 0.95 0.52 1.45 0.47 1.3 0.8 1.37 1.84 0.7 0.56 1.45 0.72 0.68 1.82' fill="none"/><path class="pt" d="M802.6,1224.5 H814.6" stroke="#fff" stroke-width='3.5' stroke-dasharray='0.92 0.72 1.48 0.59 1.2 1.07 1.49 0.68 0.92 1.49 1.44 0.79 0.88 0.76 1.4 0.68 1.24 2.0 1.19 0.88 0.76 0.88 1.06 1.44' fill="none"/><path class="pt" d="M874.6,1278 H886.6" stroke="#fff" stroke-width='7' stroke-dasharray='1.09 0.5 1.16 0.7 1.3 0.62 0.85 1.5 1.22 0.68 0.62 1.49 0.83 0.76 1.29 1.72 1.34 0.67 0.8 1.86' fill="none"/><path class="pt" d="M946.6,1185.5 H958.6" stroke="#fff" stroke-width='4' stroke-dasharray='0.65 0.36 1.39 4.59 0.85 0.89 0.63 0.37 1.11 1.6 1.37 0.45 0.89 0.74 0.83 0.5 0.61 1.11 1.41 0.58 1.22 0.45 1.07 1.28' fill="none"/><path class="pt" d="M949.6,1355 H959.6" stroke="#fff" stroke-width='3' stroke-dasharray='1.45 0.51 0.62 0.41 0.75 1.98 0.79 0.44 1.31 0.63 1.26 1.28 1.25 0.52 0.8 0.36 1.37 0.79 0.89 1.78' fill="none"/><path class="pt" d="M900.6,1200 H905.6" stroke="#fff" stroke-width='4' stroke-dasharray='1.32 0.7 1.14 0.4 0.63 0.82 1.22 1.5 0.88 0.38 0.94 0.55 1.13 2.1' fill="none"/><path class="pt" d="M909.1,1211 H911.1" stroke="#fff" stroke-width='6' stroke-dasharray='1.12 0.79 1.37 0.39 0.73 0.4 0.82 1.44 1.25 0.7 1.28 0.39 1.44 0.78 0.94 1.1' fill="none"/><path class="pt" d="M909.1,1247 H911.1" stroke="#fff" stroke-width='6' stroke-dasharray='1.45 0.41 1.33 0.73 1.25 0.82 1.09 1.18 1.3 0.39 0.83 1.59' fill="none"/><path class="pt" d="M909.1,1270 H911.1" stroke="#fff" stroke-width='6' stroke-dasharray='0.93 0.8 1.09 0.4 0.83 1.63 1.26 0.42 0.9 0.84 1.39 3.4' fill="none"/><path class="pt" d="M909.1,1300 H911.1" stroke="#fff" stroke-width='6' stroke-dasharray='1.24 0.57 1.16 1.56 1.33 0.82 1.41 0.72 0.87 1.35' fill="none"/><path class="pt" d="M909.1,1330 H911.1" stroke="#fff" stroke-width='6' stroke-dasharray='1.36 0.59 0.61 0.73 1.28 1.25 1.42 0.63 1.05 1.62' fill="none"/><path class="pt" d="M934.6,1272 H937.6" stroke="#fff" stroke-width='10' stroke-dasharray='1.26 0.76 1.07 0.62 0.74 1.35 0.85 0.55 1.09 0.45 0.76 1.39 1.47 0.46 0.84 0.89 1.24 0.39 0.77 1.98' fill="none"/><path class="pt" d="M934.6,1352 H937.6" stroke="#fff" stroke-width='6' stroke-dasharray='0.67 0.64 1.48 0.57 0.94 1.66 0.66 0.39 1.3 1.49 1.45 0.4 0.98 0.39 1.23 0.36 1.15 0.99' fill="none"/><path class="pt" d="M821.6,1378.3 H829.6" stroke="#fff" stroke-width='3.5' stroke-dasharray='0.63 0.39 0.85 0.44 0.88 0.68 1.23 1.5 1.16 0.5 0.66 0.48 1.3 0.86 0.98 1.5 1.25 0.7 0.9 0.66 0.78 1.99' fill="none"/><path class="pt" d="M861.6,1378.3 H869.6" stroke="#fff" stroke-width='3.5' stroke-dasharray='1.01 0.84 0.97 0.56 0.91 0.46 0.97 3.44 0.86 0.86 1.14 0.88 1.49 0.76 1.08 1.17' fill="none"/><text x="831.6" y="1421" fill="#fff" font-family="Liberation Sans" font-size="13" textLength="18" lengthAdjust="spacingAndGlyphs">1-1</text><path d="M826.6,1425 H867.1" stroke="#fff" stroke-width="1.2"/></g><g stroke="#2ee62e" stroke-width="1.3" fill="none"><path d="M158,1375.4 H566 M158,1388.6 H566 M158,1642 H566 M158,1654.5 H566"/><circle cx="161.1" cy="1354" r="6"/><path d="M161.1,1360 V1423"/><circle cx="161.1" cy="1667.6" r="6"/><path d="M161.1,1598 V1661.6"/><circle cx="175.7" cy="1354" r="6"/><path d="M175.7,1360 V1423"/><circle cx="175.7" cy="1667.6" r="6"/><path d="M175.7,1598 V1661.6"/><circle cx="202.1" cy="1354" r="6"/><path d="M202.1,1360 V1423"/><circle cx="202.1" cy="1667.6" r="6"/><path d="M202.1,1598 V1661.6"/><circle cx="210.9" cy="1354" r="6"/><path d="M210.9,1360 V1423"/><circle cx="210.9" cy="1667.6" r="6"/><path d="M210.9,1598 V1661.6"/><circle cx="237.3" cy="1354" r="6"/><path d="M237.3,1360 V1423"/><circle cx="237.3" cy="1667.6" r="6"/><path d="M237.3,1598 V1661.6"/><circle cx="246" cy="1354" r="6"/><path d="M246,1360 V1423"/><circle cx="246" cy="1667.6" r="6"/><path d="M246,1598 V1661.6"/><circle cx="272.4" cy="1354" r="6"/><path d="M272.4,1360 V1423"/><circle cx="272.4" cy="1667.6" r="6"/><path d="M272.4,1598 V1661.6"/><circle cx="281.2" cy="1354" r="6"/><path d="M281.2,1360 V1423"/><circle cx="281.2" cy="1667.6" r="6"/><path d="M281.2,1598 V1661.6"/><circle cx="307.6" cy="1354" r="6"/><path d="M307.6,1360 V1423"/><circle cx="307.6" cy="1667.6" r="6"/><path d="M307.6,1598 V1661.6"/><circle cx="316.4" cy="1354" r="6"/><path d="M316.4,1360 V1423"/><circle cx="316.4" cy="1667.6" r="6"/><path d="M316.4,1598 V1661.6"/><circle cx="342.7" cy="1354" r="6"/><path d="M342.7,1360 V1423"/><circle cx="342.7" cy="1667.6" r="6"/><path d="M342.7,1598 V1661.6"/><circle cx="351.5" cy="1354" r="6"/><path d="M351.5,1360 V1423"/><circle cx="351.5" cy="1667.6" r="6"/><path d="M351.5,1598 V1661.6"/><circle cx="383.8" cy="1354" r="6"/><path d="M383.8,1360 V1423"/><circle cx="383.8" cy="1667.6" r="6"/><path d="M383.8,1598 V1661.6"/><circle cx="394.7" cy="1354" r="6"/><path d="M394.7,1360 V1423"/><circle cx="394.7" cy="1667.6" r="6"/><path d="M394.7,1598 V1661.6"/><circle cx="418.8" cy="1354" r="6"/><path d="M418.8,1360 V1423"/><circle cx="418.8" cy="1667.6" r="6"/><path d="M418.8,1598 V1661.6"/><circle cx="429" cy="1354" r="6"/><path d="M429,1360 V1423"/><circle cx="429" cy="1667.6" r="6"/><path d="M429,1598 V1661.6"/><circle cx="454" cy="1354" r="6"/><path d="M454,1360 V1423"/><circle cx="454" cy="1667.6" r="6"/><path d="M454,1598 V1661.6"/><circle cx="464.4" cy="1354" r="6"/><path d="M464.4,1360 V1423"/><circle cx="464.4" cy="1667.6" r="6"/><path d="M464.4,1598 V1661.6"/><circle cx="489.4" cy="1354" r="6"/><path d="M489.4,1360 V1423"/><circle cx="489.4" cy="1667.6" r="6"/><path d="M489.4,1598 V1661.6"/><circle cx="499.4" cy="1354" r="6"/><path d="M499.4,1360 V1423"/><circle cx="499.4" cy="1667.6" r="6"/><path d="M499.4,1598 V1661.6"/><circle cx="512.5" cy="1354" r="6"/><path d="M512.5,1360 V1423"/><circle cx="512.5" cy="1667.6" r="6"/><path d="M512.5,1598 V1661.6"/><circle cx="522.8" cy="1354" r="6"/><path d="M522.8,1360 V1423"/><circle cx="522.8" cy="1667.6" r="6"/><path d="M522.8,1598 V1661.6"/><circle cx="547.8" cy="1354" r="6"/><path d="M547.8,1360 V1423"/><circle cx="547.8" cy="1667.6" r="6"/><path d="M547.8,1598 V1661.6"/><circle cx="562.5" cy="1354" r="6"/><path d="M562.5,1360 V1423"/><circle cx="562.5" cy="1667.6" r="6"/><path d="M562.5,1598 V1661.6"/><circle cx="494.4" cy="1683.2" r="6"/><circle cx="71.7" cy="1439.3" r="6"/><path d="M77.7,1439.3 H145"/><circle cx="71.7" cy="1450.1" r="6"/><path d="M77.7,1450.1 H145"/><circle cx="71.7" cy="1464.8" r="6"/><path d="M77.7,1464.8 H145"/><circle cx="71.7" cy="1557.1" r="6"/><path d="M77.7,1557.1 H145"/><circle cx="71.7" cy="1570.9" r="6"/><path d="M77.7,1570.9 H145"/><circle cx="71.7" cy="1582.6" r="6"/><path d="M77.7,1582.6 H145"/><circle cx="651.4" cy="1439.4" r="6"/><path d="M579,1439.4 H645.4"/><circle cx="651.4" cy="1450.3" r="6"/><path d="M579,1450.3 H645.4"/><circle cx="651.4" cy="1465" r="6"/><path d="M579,1465 H645.4"/><circle cx="651.4" cy="1511.5" r="6"/><path d="M579,1511.5 H645.4"/><circle cx="651.4" cy="1557" r="6"/><path d="M579,1557 H645.4"/><circle cx="651.4" cy="1570.3" r="6"/><path d="M579,1570.3 H645.4"/><circle cx="651.4" cy="1582.3" r="6"/><path d="M579,1582.3 H645.4"/><path d="M95.7,1432 V1592 M108.3,1432 V1592 M625.5,1432 V1592 M637.8,1432 V1592"/></g><g fill="#fff" font-family="Liberation Sans" font-size="8.5" text-anchor="middle"><text x="161.1" y="1357" >1</text><text x="161.1" y="1670.6" >1</text><text x="175.7" y="1357" >2</text><text x="175.7" y="1670.6" >2</text><text x="202.1" y="1357" >3</text><text x="202.1" y="1670.6" >3</text><text x="210.9" y="1357" >4</text><text x="210.9" y="1670.6" >4</text><text x="237.3" y="1357" >5</text><text x="237.3" y="1670.6" >5</text><text x="246" y="1357" >6</text><text x="246" y="1670.6" >6</text><text x="272.4" y="1357" >7</text><text x="272.4" y="1670.6" >7</text><text x="281.2" y="1357" >8</text><text x="281.2" y="1670.6" >8</text><text x="307.6" y="1357" >9</text><text x="307.6" y="1670.6" >9</text><text x="316.4" y="1357" textLength="9" lengthAdjust="spacingAndGlyphs">10</text><text x="316.4" y="1670.6" textLength="9" lengthAdjust="spacingAndGlyphs">10</text><text x="342.7" y="1357" textLength="9" lengthAdjust="spacingAndGlyphs">11</text><text x="342.7" y="1670.6" textLength="9" lengthAdjust="spacingAndGlyphs">11</text><text x="351.5" y="1357" textLength="9" lengthAdjust="spacingAndGlyphs">12</text><text x="351.5" y="1670.6" textLength="9" lengthAdjust="spacingAndGlyphs">12</text><text x="383.8" y="1357" textLength="9" lengthAdjust="spacingAndGlyphs">13</text><text x="383.8" y="1670.6" textLength="9" lengthAdjust="spacingAndGlyphs">13</text><text x="394.7" y="1357" textLength="9" lengthAdjust="spacingAndGlyphs">14</text><text x="394.7" y="1670.6" textLength="9" lengthAdjust="spacingAndGlyphs">14</text><text x="418.8" y="1357" textLength="9" lengthAdjust="spacingAndGlyphs">15</text><text x="418.8" y="1670.6" textLength="9" lengthAdjust="spacingAndGlyphs">15</text><text x="429" y="1357" textLength="9" lengthAdjust="spacingAndGlyphs">16</text><text x="429" y="1670.6" textLength="9" lengthAdjust="spacingAndGlyphs">16</text><text x="454" y="1357" textLength="9" lengthAdjust="spacingAndGlyphs">17</text><text x="454" y="1670.6" textLength="9" lengthAdjust="spacingAndGlyphs">17</text><text x="464.4" y="1357" textLength="9" lengthAdjust="spacingAndGlyphs">18</text><text x="464.4" y="1670.6" textLength="9" lengthAdjust="spacingAndGlyphs">18</text><text x="489.4" y="1357" textLength="9" lengthAdjust="spacingAndGlyphs">19</text><text x="489.4" y="1670.6" textLength="9" lengthAdjust="spacingAndGlyphs">19</text><text x="499.4" y="1357" textLength="9" lengthAdjust="spacingAndGlyphs">20</text><text x="499.4" y="1670.6" textLength="9" lengthAdjust="spacingAndGlyphs">20</text><text x="512.5" y="1357" textLength="9" lengthAdjust="spacingAndGlyphs">21</text><text x="512.5" y="1670.6" textLength="9" lengthAdjust="spacingAndGlyphs">21</text><text x="522.8" y="1357" textLength="9" lengthAdjust="spacingAndGlyphs">22</text><text x="522.8" y="1670.6" textLength="9" lengthAdjust="spacingAndGlyphs">22</text><text x="547.8" y="1357" textLength="9" lengthAdjust="spacingAndGlyphs">23</text><text x="547.8" y="1670.6" textLength="9" lengthAdjust="spacingAndGlyphs">23</text><text x="562.5" y="1357" textLength="9" lengthAdjust="spacingAndGlyphs">24</text><text x="562.5" y="1670.6" textLength="9" lengthAdjust="spacingAndGlyphs">24</text><text x="71.7" y="1442.3">F</text><text x="71.7" y="1453.1">E</text><text x="71.7" y="1467.8">D</text><text x="71.7" y="1560.1">C</text><text x="71.7" y="1573.9">B</text><text x="71.7" y="1585.6">A</text><text x="651.4" y="1442.4">G</text><text x="651.4" y="1453.3">F</text><text x="651.4" y="1468">E</text><text x="651.4" y="1514.5">D</text><text x="651.4" y="1560">C</text><text x="651.4" y="1573.3">B</text><text x="651.4" y="1585.3">A</text><text x="494.4" y="1686.2" textLength="9" lengthAdjust="spacingAndGlyphs">20</text></g><path class="pt" d="M164.4,1383 H172.4" stroke="#fff" stroke-width='4' stroke-dasharray='1.42 0.69 1.25 0.52 1.07 0.67 1.11 1.79 0.67 0.83 0.89 1.92 1.44 0.64 1.31 0.67 0.99 1.65' fill="none"/><path class="pt" d="M164.4,1637.5 H172.4" stroke="#fff" stroke-width='4' stroke-dasharray='1.32 0.55 1.38 0.86 0.79 1.61 0.69 0.38 1.13 0.8 1.06 1.69 1.39 0.52 0.76 0.8 0.89 1.82' fill="none"/><path class="pt" d="M184.9,1383 H192.9" stroke="#fff" stroke-width='4' stroke-dasharray='0.9 0.65 0.85 1.81 0.63 0.61 0.74 0.82 1.1 0.51 0.83 1.64 1.04 0.73 0.9 0.54 0.68 1.65' fill="none"/><path class="pt" d="M184.9,1637.5 H192.9" stroke="#fff" stroke-width='4' stroke-dasharray='0.79 0.75 0.95 1.24 1.42 0.63 0.82 0.87 0.83 1.88 1.21 0.39 0.72 0.62 0.83 0.9 1.37 1.87' fill="none"/><path class="pt" d="M203.6,1383 H209.4" stroke="#fff" stroke-width='4' stroke-dasharray='1.11 0.55 0.86 0.35 1.41 1.7 1.35 0.77 0.97 0.41 0.67 1.22 0.7 0.36 0.65 0.73 1.41 0.86 1.14 1.97' fill="none"/><path class="pt" d="M203.6,1637.5 H209.4" stroke="#fff" stroke-width='4' stroke-dasharray='0.86 0.88 0.76 0.36 0.74 0.56 1.35 1.09 1.3 0.87 0.68 0.82 1.43 1.77 1.21 0.86 1.25 0.6 1.39 1.62' fill="none"/><path class="pt" d="M220.1,1383 H228.1" stroke="#fff" stroke-width='4' stroke-dasharray='1.07 0.86 0.77 0.58 1.07 0.73 0.92 1.39 1.16 0.81 1.15 0.75 0.61 0.52 0.8 1.68 1.5 0.59 1.35 1.41' fill="none"/><path class="pt" d="M220.1,1637.5 H228.1" stroke="#fff" stroke-width='4' stroke-dasharray='0.86 0.75 0.64 0.76 0.69 1.81 0.61 0.64 0.81 0.87 1.05 1.22 1.23 0.66 0.75 0.75 0.82 1.6' fill="none"/><path class="pt" d="M238.8,1383 H244.5" stroke="#fff" stroke-width='4' stroke-dasharray='1.01 0.81 1.16 0.4 1.08 0.54 0.78 1.73 1.36 0.63 1.32 1.73 1.4 0.74 1.19 1.08' fill="none"/><path class="pt" d="M238.8,1637.5 H244.5" stroke="#fff" stroke-width='4' stroke-dasharray='1.48 0.82 1.09 0.85 0.7 1.77 0.66 0.49 0.93 0.41 0.83 0.66 0.71 4.01' fill="none"/><path class="pt" d="M255.2,1383 H263.2" stroke="#fff" stroke-width='4' stroke-dasharray='1.4 0.54 1.34 0.83 0.76 0.62 1.36 3.97 1.1 0.7 0.76 0.67 0.64 1.91' fill="none"/><path class="pt" d="M255.2,1637.5 H263.2" stroke="#fff" stroke-width='4' stroke-dasharray='1.16 0.39 1.17 1.65 0.9 0.6 0.91 0.5 1.49 0.48 1.12 1.56 1.31 0.42 0.7 0.84 1.34 0.87 0.66 1.57' fill="none"/><path class="pt" d="M273.9,1383 H279.7" stroke="#fff" stroke-width='4' stroke-dasharray='0.88 0.4 0.75 0.84 0.63 1.65 0.83 0.89 0.7 0.47 1.06 0.42 1.36 1.5 0.89 0.86 1.45 1.48' fill="none"/><path class="pt" d="M273.9,1637.5 H279.7" stroke="#fff" stroke-width='4' stroke-dasharray='1.23 0.83 0.86 0.59 1.12 0.64 1.45 1.43 1.3 0.48 0.61 0.88 1.42 1.74' fill="none"/><path class="pt" d="M290.4,1383 H298.4" stroke="#fff" stroke-width='4' stroke-dasharray='1.5 0.63 1.31 0.66 1.15 2.13 1.1 0.55 0.61 0.79 0.82 1.48 0.68 0.81 0.67 0.74 1.48 1.85' fill="none"/><path class="pt" d="M290.4,1637.5 H298.4" stroke="#fff" stroke-width='4' stroke-dasharray='0.74 0.77 0.75 0.36 0.99 0.53 1.42 1.55 0.86 0.39 1.35 0.69 0.63 0.85 0.88 4.16' fill="none"/><path class="pt" d="M309.1,1383 H314.9" stroke="#fff" stroke-width='4' stroke-dasharray='0.83 0.6 1.44 0.8 0.61 4.24 1.34 0.74 0.75 1.73 1.38 0.79 0.86 0.44 1.38 0.59 1.42 3.97' fill="none"/><path class="pt" d="M309.1,1637.5 H314.9" stroke="#fff" stroke-width='4' stroke-dasharray='1.34 0.82 1.14 1.46 0.81 0.87 0.75 0.63 1.26 4.35 0.86 0.84 1.26 0.54 0.75 1.38' fill="none"/><path class="pt" d="M325.55,1383 H333.55" stroke="#fff" stroke-width='4' stroke-dasharray='1.06 0.5 1.42 0.47 0.83 1.35 1.38 0.66 0.77 0.62 1.3 1.5 1.1 0.8 0.97 0.87 1.01 1.69' fill="none"/><path class="pt" d="M325.55,1637.5 H333.55" stroke="#fff" stroke-width='4' stroke-dasharray='1.0 0.36 1.37 0.64 1.12 1.5 1.06 0.43 0.72 1.41 1.4 0.4 0.8 0.81 1.26 0.36 1.16 1.39' fill="none"/><path class="pt" d="M344.2,1383 H350" stroke="#fff" stroke-width='4' stroke-dasharray='1.42 0.75 0.8 0.71 1.15 1.45 1.07 0.68 0.86 1.36 0.88 0.86 1.44 4.54' fill="none"/><path class="pt" d="M344.2,1637.5 H350" stroke="#fff" stroke-width='4' stroke-dasharray='0.78 0.49 1.29 1.25 1.33 0.67 0.84 1.79 0.8 0.56 1.37 0.68 1.47 1.76' fill="none"/><path class="pt" d="M363.65,1383 H371.65" stroke="#fff" stroke-width='4' stroke-dasharray='0.89 0.56 1.05 1.17 1.46 0.46 1.09 1.57 0.87 0.5 0.9 0.58 0.92 1.3 1.23 0.82 0.83 0.4 1.2 1.22' fill="none"/><path class="pt" d="M363.65,1637.5 H371.65" stroke="#fff" stroke-width='4' stroke-dasharray='0.71 0.84 0.8 1.57 1.2 0.54 1.39 2.0 1.47 0.83 1.23 0.77 0.69 0.55 0.66 4.2' fill="none"/><path class="pt" d="M385.3,1383 H393.2" stroke="#fff" stroke-width='4' stroke-dasharray='1.02 0.8 1.33 0.6 0.82 1.64 1.48 0.9 1.09 0.45 1.39 1.89 1.28 0.36 0.6 0.67 1.17 0.4 1.21 1.27' fill="none"/><path class="pt" d="M385.3,1637.5 H393.2" stroke="#fff" stroke-width='4' stroke-dasharray='0.7 0.36 0.99 0.69 1.39 1.19 0.66 0.65 0.61 1.76 1.03 0.37 0.81 1.35 1.17 0.85 0.64 1.07' fill="none"/><path class="pt" d="M402.75,1383 H410.75" stroke="#fff" stroke-width='4' stroke-dasharray='1.25 0.51 1.14 3.76 1.36 0.53 0.67 0.49 0.67 1.4 0.67 0.42 1.02 0.59 1.08 2.11' fill="none"/><path class="pt" d="M402.75,1637.5 H410.75" stroke="#fff" stroke-width='4' stroke-dasharray='0.61 0.71 1.24 0.77 0.92 1.05 0.83 0.7 0.67 0.45 0.94 2.2 0.98 0.71 0.83 0.87 0.64 1.69' fill="none"/><path class="pt" d="M420.3,1383 H427.5" stroke="#fff" stroke-width='4' stroke-dasharray='1.29 0.7 1.1 0.38 1.39 1.63 1.04 0.88 0.85 0.38 0.87 1.78 1.38 0.69 0.94 3.66' fill="none"/><path class="pt" d="M420.3,1637.5 H427.5" stroke="#fff" stroke-width='4' stroke-dasharray='1.4 0.71 0.96 3.8 0.63 0.76 1.09 0.4 1.35 1.56 1.12 0.61 0.72 0.81 0.63 1.39' fill="none"/><path class="pt" d="M437.5,1383 H445.5" stroke="#fff" stroke-width='4' stroke-dasharray='0.78 0.81 1.0 3.65 0.79 0.4 0.68 0.89 1.04 2.05 1.29 0.62 0.91 0.53 1.11 0.38 0.78 1.43' fill="none"/><path class="pt" d="M437.5,1637.5 H445.5" stroke="#fff" stroke-width='4' stroke-dasharray='1.44 0.58 1.36 0.73 1.1 1.93 0.89 0.5 1.13 0.88 0.88 2.2 1.06 0.37 0.99 0.35 1.47 1.06' fill="none"/><path class="pt" d="M455.5,1383 H462.9" stroke="#fff" stroke-width='4' stroke-dasharray='1.37 0.55 0.67 1.86 1.31 0.51 1.35 0.51 1.02 0.44 1.24 1.93 0.62 0.48 0.76 0.63 0.84 1.15' fill="none"/><path class="pt" d="M455.5,1637.5 H462.9" stroke="#fff" stroke-width='4' stroke-dasharray='1.29 0.57 1.23 0.6 1.29 2.07 1.14 0.39 1.02 0.72 0.89 1.85 1.25 0.44 1.02 0.69 1.22 1.69' fill="none"/><path class="pt" d="M472.9,1383 H480.9" stroke="#fff" stroke-width='4' stroke-dasharray='1.33 0.87 1.07 0.82 1.27 3.15 1.21 0.56 1.14 0.54 1.22 1.88 0.89 0.64 1.49 0.49 1.3 1.67' fill="none"/><path class="pt" d="M472.9,1637.5 H480.9" stroke="#fff" stroke-width='4' stroke-dasharray='1.48 0.67 1.29 0.86 0.7 1.8 1.07 0.4 1.12 0.73 1.46 0.76 0.86 1.47 1.48 0.45 1.22 1.6' fill="none"/><path class="pt" d="M490.9,1383 H497.9" stroke="#fff" stroke-width='4' stroke-dasharray='1.03 0.46 0.71 2.12 1.41 0.4 0.8 0.47 1.3 0.37 0.81 1.6 0.82 0.62 0.97 3.84' fill="none"/><path class="pt" d="M490.9,1637.5 H497.9" stroke="#fff" stroke-width='4' stroke-dasharray='1.28 0.56 1.21 0.44 0.66 1.49 1.18 0.81 0.82 1.88 1.07 0.56 0.65 0.64 1.14 1.5' fill="none"/><path class="pt" d="M501.95,1383 H509.95" stroke="#fff" stroke-width='4' stroke-dasharray='0.96 0.7 1.28 0.46 1.12 1.39 1.28 0.44 0.92 0.64 1.04 0.77 1.34 1.59 0.71 0.64 1.1 0.5 0.97 1.32' fill="none"/><path class="pt" d="M501.95,1637.5 H509.95" stroke="#fff" stroke-width='4' stroke-dasharray='1.43 0.59 0.6 0.45 1.19 1.96 1.43 0.87 1.25 0.54 1.18 1.54 0.74 0.83 0.65 0.83 1.2 0.63 0.82 1.6' fill="none"/><path class="pt" d="M514,1383 H521.3" stroke="#fff" stroke-width='4' stroke-dasharray='0.83 0.72 0.89 0.55 0.9 0.84 0.86 1.75 0.7 0.86 1.32 0.66 1.32 0.37 1.01 1.8' fill="none"/><path class="pt" d="M514,1637.5 H521.3" stroke="#fff" stroke-width='4' stroke-dasharray='1.19 0.83 1.19 0.41 1.46 0.84 1.18 1.41 1.31 0.54 0.66 0.67 0.91 0.89 1.39 2.09' fill="none"/><path class="pt" d="M531.3,1383 H539.3" stroke="#fff" stroke-width='4' stroke-dasharray='0.95 0.72 0.97 0.6 1.11 1.82 0.78 0.58 1.41 0.89 0.64 1.65 1.15 0.78 1.05 0.54 1.42 1.28' fill="none"/><path class="pt" d="M531.3,1637.5 H539.3" stroke="#fff" stroke-width='4' stroke-dasharray='1.17 0.35 1.07 0.35 1.05 1.88 1.42 0.46 1.15 0.36 0.66 1.5 0.74 0.38 1.36 0.62 1.21 1.68' fill="none"/><path class="pt" d="M551.15,1383 H559.15" stroke="#fff" stroke-width='4' stroke-dasharray='0.97 0.67 0.85 1.62 0.66 0.78 1.25 1.42 0.96 0.46 0.91 2.02 0.75 0.53 1.33 1.27' fill="none"/><path class="pt" d="M551.15,1637.5 H559.15" stroke="#fff" stroke-width='4' stroke-dasharray='0.68 0.38 1.29 0.52 1.5 0.72 0.83 1.58 0.94 0.66 0.74 0.68 1.44 1.77 1.45 0.84 0.62 1.81' fill="none"/><path class="pt" d="M378,1371 H390" stroke="#fff" stroke-width='4' stroke-dasharray='1.4 0.79 0.68 1.88 0.66 0.45 0.65 1.67 0.98 0.64 0.97 0.65 1.14 1.22 0.98 0.39 1.04 0.81 0.81 1.88 1.4 0.73 1.37 0.45 1.01 2.27' fill="none"/><path class="pt" d="M378,1650 H390" stroke="#fff" stroke-width='4' stroke-dasharray='1.47 0.51 1.12 0.5 0.61 1.38 0.77 0.49 1.41 1.93 1.04 0.57 0.72 0.85 1.05 1.37 1.49 0.62 1.25 1.37' fill="none"/><path class="pt" d="M100,1445 H104" stroke="#fff" stroke-width='5' stroke-dasharray='0.94 0.64 1.42 0.8 0.74 0.81 1.09 1.52 0.66 0.69 1.35 0.56 1.42 0.44 0.93 1.56' fill="none"/><path class="pt" d="M628,1445 H632" stroke="#fff" stroke-width='5' stroke-dasharray='1.45 0.79 1.23 0.47 1.45 1.91 1.16 0.82 1.3 1.95' fill="none"/><path class="pt" d="M100,1458 H104" stroke="#fff" stroke-width='5' stroke-dasharray='0.71 0.58 1.18 0.89 1.04 1.59 0.69 0.36 0.68 0.45 1.34 1.57 0.88 0.36 0.89 0.86 0.91 0.57 0.78 1.96' fill="none"/><path class="pt" d="M628,1458 H632" stroke="#fff" stroke-width='5' stroke-dasharray='0.85 0.48 1.09 0.89 1.09 0.86 1.29 1.34 0.9 0.48 0.83 0.53 0.94 1.76' fill="none"/><path class="pt" d="M100,1510 H104" stroke="#fff" stroke-width='5' stroke-dasharray='0.83 0.36 1.36 0.74 1.24 0.75 1.22 1.31 1.41 0.4 1.08 3.52' fill="none"/><path class="pt" d="M628,1510 H632" stroke="#fff" stroke-width='5' stroke-dasharray='1.21 0.37 1.28 0.53 1.28 1.72 0.69 0.68 0.63 0.62 0.65 0.65 1.29 1.66' fill="none"/><path class="pt" d="M100,1564 H104" stroke="#fff" stroke-width='5' stroke-dasharray='1.2 0.41 1.16 0.68 1.07 1.31 1.5 0.44 0.87 0.83 1.04 1.28 0.94 0.49 0.78 0.45 1.01 1.08' fill="none"/><path class="pt" d="M628,1564 H632" stroke="#fff" stroke-width='5' stroke-dasharray='0.8 0.85 1.43 0.72 0.67 1.42 0.99 0.41 1.17 0.45 0.88 0.43 1.2 1.64' fill="none"/><path class="pt" d="M100,1577 H104" stroke="#fff" stroke-width='5' stroke-dasharray='0.92 0.86 1.48 0.61 0.7 0.64 0.65 4.78 0.79 0.56 1.42 0.39 1.38 1.74' fill="none"/><path class="pt" d="M628,1577 H632" stroke="#fff" stroke-width='5' stroke-dasharray='0.85 0.86 1.43 0.51 1.22 1.74 1.25 0.39 1.29 0.68 0.66 0.48 1.49 2.18' fill="none"/><g fill="none" stroke="#f0f020" stroke-width="1.4"><rect x="156.1" y="1434.5" width="414.5" height="154.5"/><rect x="167" y="1446.3" width="322.4" height="129.3"/><rect x="501" y="1446.3" width="54.6" height="129.3"/><path d="M160,1581.3 H565" stroke-width="3.6"/></g><path d="M165,1581.3 H565" stroke="#000" stroke-width="1.5" stroke-dasharray="0 18 8 16"/><g fill="none" stroke="#fff" stroke-width="1"><path d="M158.6,1584 V1437.5 H567.5 V1584 M160.9,1580 V1440 H565 V1580 M492.5,1440 V1508 M492.5,1514 V1578 M497.8,1440 V1505 M497.8,1517 V1578"/><path d="M353,1583 l8,9 8,-9 8,9 8,-9" stroke-width="1.2"/></g><path d="M497.8,1505 q8,2 4,8 M497.8,1578 q2,-10 8,-3" stroke="#f0f020" stroke-width="1.3" fill="none"/><g fill="#fff" font-family="Liberation Sans" font-size="10" ><text x="169.5" y="1486" textLength="16" lengthAdjust="spacingAndGlyphs">1G1</text><text x="500.5" y="1483" textLength="16" lengthAdjust="spacingAndGlyphs">2G2</text></g><path d="M147.3,1489.7 H199.2 M483.8,1485.3 H530.6" stroke="#e01818" stroke-width="1.5"/><g fill="#fff" font-family="Liberation Sans" font-size="8" text-anchor="middle"><text x="224" y="1429">1</text><text x="224" y="1457">1</text><text x="145" y="1536">1</text><text x="178.7" y="1536">1</text><text x="204.2" y="1571">1</text><text x="204.2" y="1601">1</text><text x="477.8" y="1535">2</text><text x="512.6" y="1535">2</text><text x="544.2" y="1535">1</text><text x="578.4" y="1535">1</text></g><g stroke="#e01818" stroke-width="1.4"><path d="M139,1539 H151"/><path d="M172.7,1539 H184.7"/><path d="M471.8,1538 H483.8"/><path d="M506.6,1538 H518.6"/><path d="M538.2,1538 H550.2"/><path d="M572.4,1538 H584.4"/><path d="M228,1420 V1430"/><path d="M228,1448 V1458"/><path d="M207,1563 V1573"/><path d="M207,1593 V1603"/></g><path class="pt" d="M334,1692 H366" stroke="#fff" stroke-width='9' stroke-dasharray='1.34 0.69 1.17 0.39 0.88 1.37 1.17 0.7 1.15 1.43 0.82 0.41 0.98 0.71 1.21 2.09 1.3 0.61 1.28 0.48 1.31 0.36 1.28 3.33 0.9 0.77 0.68 0.53 1.19 0.66 0.65 1.47 1.13 0.46 1.06 1.55 0.82 0.78 1.35 1.67' fill="none"/><path class="pt" d="M728,1553 H738" stroke="#fff" stroke-width='5' stroke-dasharray='1.47 0.68 1.29 2.01 0.69 0.88 0.72 0.43 1.23 1.54 0.87 0.72 1.07 0.76 0.62 0.76 0.98 1.78' fill="none"/><path class="pt" d="M722.4,1567.9 H818.6" stroke="#fff" stroke-width='7.5' stroke-dasharray='1.34 0.57 1.01 0.89 1.15 2.15 1.12 0.88 0.76 0.71 1.0 1.42 1.25 0.5 1.29 0.6 1.15 2.08 0.84 0.73 1.3 1.3 0.61 0.42 1.04 0.64 0.77 1.89 1.22 0.55 0.88 1.62 0.86 0.51 1.15 1.74 1.33 0.84 1.45 0.89 0.79 1.72 1.27 0.73 0.68 4.4 1.06 0.5 1.35 0.43 0.68 0.48 1.28 1.59 1.02 0.67 0.9 0.43 1.03 0.77 1.37 2.28 0.9 0.72 0.94 0.72 0.69 1.13 0.88 0.87 1.4 0.52 0.93 1.89 1.15 0.51 1.15 0.51 1.36 0.73 1.32 1.43 1.38 0.82 0.84 1.29 1.16 0.86 0.65 2.11 1.08 0.68 1.11 0.7 1.14 0.69 0.84 2.08' fill="none"/><path class="pt" d="M726,1581.1 H769.9" stroke="#fff" stroke-width='7.5' stroke-dasharray='0.66 0.51 1.02 0.64 1.31 0.63 1.01 1.9 1.34 0.57 0.77 0.85 0.67 1.23 0.98 0.6 1.2 2.07 1.26 0.39 1.03 0.82 0.76 1.35 0.97 0.36 1.39 0.67 0.81 1.39 0.66 0.59 0.89 0.89 1.3 1.96 0.79 0.79 1.22 0.72 1.33 0.79 1.16 1.69 1.13 0.54 0.69 0.84 0.98 1.28 0.85 0.72 1.28 0.83 0.6 1.39' fill="none"/><path class="pt" d="M726,1593 H804" stroke="#fff" stroke-width='7.5' stroke-dasharray='1.16 0.78 0.98 0.83 1.07 0.4 1.17 4.14 1.36 0.74 1.21 0.37 1.24 0.76 0.92 1.72 0.83 0.89 1.21 0.86 0.82 0.82 1.08 1.32 0.77 0.72 1.03 0.42 1.43 1.29 0.78 0.66 1.41 1.49 0.75 0.76 1.25 0.87 0.72 1.86 0.7 0.51 1.08 0.47 0.66 1.77 0.83 0.38 1.41 0.48 1.2 0.49 0.79 1.85 1.23 0.36 0.64 0.47 1.03 1.73 1.41 0.4 0.96 1.34 0.94 0.38 1.02 0.54 1.19 1.17 0.63 0.82 0.72 0.86 0.72 0.64 1.29 1.36 0.85 0.69 1.18 0.65 1.47 1.2 1.25 0.69 1.44 1.77' fill="none"/><path class="pt" d="M726,1606.1 H875.3" stroke="#fff" stroke-width='7.5' stroke-dasharray='0.89 0.83 1.42 0.36 1.46 0.52 0.6 1.85 0.68 0.51 1.48 1.4 1.24 0.78 0.93 0.7 0.7 0.66 1.48 1.17 1.5 0.48 1.33 0.74 1.44 0.5 0.87 1.82 1.04 0.87 0.77 0.83 0.96 1.97 1.48 0.36 0.65 1.68 1.5 0.72 0.96 1.92 1.27 0.5 0.67 0.41 0.97 0.85 0.75 1.45 0.81 0.86 0.93 0.89 0.65 1.78 0.76 0.46 0.96 0.65 1.02 0.6 1.33 1.5 1.22 0.8 1.45 1.23 0.71 0.48 1.0 0.54 1.39 1.76 0.62 0.87 1.28 0.72 0.64 1.87 0.78 0.66 1.34 0.6 1.35 1.15 1.17 0.75 1.33 1.57 0.63 0.53 1.28 0.54 1.22 0.43 0.9 1.84 1.33 0.69 1.11 3.59 1.39 0.87 0.9 0.61 1.39 2.03 0.85 0.8 1.3 3.28 0.82 0.4 1.46 0.49 1.35 1.91 1.29 0.64 1.24 0.52 1.11 0.6 0.93 1.35 1.02 0.39 1.24 0.65 1.15 0.83 1.33 1.98 1.07 0.78 1.09 0.56 1.23 1.81 1.35 0.59 0.87 0.46 0.99 1.38 1.22 0.5 1.21 1.9' fill="none"/><path class="pt" d="M726,1619.3 H814.7" stroke="#fff" stroke-width='7.5' stroke-dasharray='1.35 0.57 0.66 0.43 1.21 1.29 0.79 0.53 1.18 1.63 1.03 0.58 1.06 0.53 0.61 0.84 1.09 1.64 0.84 0.83 1.17 2.04 1.41 0.6 0.87 0.48 0.65 1.49 1.35 0.56 0.62 0.39 0.8 1.47 1.36 0.57 0.87 1.58 1.28 0.88 0.66 1.91 1.18 0.83 1.46 0.59 0.98 0.39 1.32 3.16 1.48 0.55 1.28 0.45 0.64 1.62 0.85 0.37 0.98 0.78 1.27 0.82 0.81 1.09 1.45 0.36 1.41 0.47 1.49 4.5 0.65 0.85 1.09 0.37 1.25 1.32 1.4 0.7 1.45 0.89 1.2 1.69 1.2 0.79 0.87 0.51 1.49 1.27 1.03 0.56 0.98 0.53 0.73 1.35' fill="none"/><path class="pt" d="M726,1631.7 H792.3" stroke="#fff" stroke-width='7.5' stroke-dasharray='1.08 0.75 1.44 1.8 1.29 0.47 1.08 0.62 0.85 1.78 1.41 0.61 1.29 0.53 1.35 0.54 0.99 1.56 1.31 0.52 1.18 0.75 0.63 0.46 0.69 1.55 1.38 0.7 1.03 0.56 1.19 0.85 1.39 1.32 0.78 0.38 1.31 0.48 0.89 4.32 1.3 0.56 1.06 0.73 0.75 1.47 1.15 0.9 0.93 0.8 1.44 0.87 1.14 2.15 1.44 0.37 1.32 0.55 0.76 1.79 1.16 0.77 1.34 0.64 0.68 1.59 1.07 0.59 1.3 0.5 1.31 0.58 1.36 3.53' fill="none"/><path class="pt" d="M726,1643.8 H845" stroke="#fff" stroke-width='7.5' stroke-dasharray='1.1 0.61 1.37 2.08 0.73 0.7 1.23 0.63 1.31 4.19 0.85 0.71 0.66 0.6 1.29 1.23 0.87 0.8 0.64 1.67 0.66 0.77 0.92 1.61 0.71 0.61 1.15 0.39 0.87 1.43 1.04 0.77 1.33 0.46 1.23 1.01 0.91 0.83 1.42 0.51 1.29 2.15 1.09 0.49 0.68 0.7 1.26 1.64 1.33 0.73 1.17 0.44 0.73 0.88 1.37 1.53 0.9 0.48 1.07 0.52 0.88 1.46 1.33 0.58 1.04 0.46 1.06 0.51 0.69 3.74 1.24 0.75 0.94 0.73 0.86 1.14 1.11 0.78 0.76 0.9 1.35 1.85 0.77 0.67 0.69 0.57 0.91 0.77 1.02 1.5 0.82 0.88 0.87 2.1 1.12 0.36 1.36 0.79 1.42 1.98 1.17 0.72 0.91 0.71 0.84 1.87 1.01 0.56 1.15 1.21 0.63 0.88 1.28 0.47 0.64 1.48 1.15 0.38 0.76 1.49 0.66 0.48 0.91 0.45 0.75 1.28' fill="none"/><path class="pt" d="M726,1656.2 H817.3" stroke="#fff" stroke-width='7.5' stroke-dasharray='0.79 0.75 1.21 3.3 1.27 0.47 0.88 2.08 0.74 0.78 1.45 0.71 0.61 1.91 0.83 0.81 1.24 0.5 1.24 4.08 1.48 0.36 0.84 1.27 1.22 0.88 0.85 1.86 0.85 0.43 1.03 0.88 1.11 2.17 1.38 0.69 1.35 0.38 1.19 0.6 1.42 1.16 0.76 0.65 0.99 0.49 0.96 0.41 1.15 1.23 1.41 0.55 0.85 1.65 1.23 0.71 1.41 0.81 1.01 1.09 0.94 0.61 0.78 0.44 1.29 0.62 0.73 1.75 0.68 0.36 1.29 0.52 1.39 0.5 1.37 1.94 1.04 0.54 1.04 2.04 0.88 0.43 0.96 0.66 1.27 1.05 0.96 0.39 1.2 0.53 1.21 1.15 1.38 0.37 1.32 0.39 1.06 1.3' fill="none"/><path class="pt" d="M726,1668.1 H829.2" stroke="#fff" stroke-width='7.5' stroke-dasharray='1.42 0.87 0.76 0.37 1.16 1.99 0.91 0.69 0.73 0.47 0.82 1.72 0.8 0.39 0.85 0.48 1.29 0.69 1.39 1.6 1.36 0.62 1.33 0.37 0.96 0.84 1.17 3.06 1.04 0.87 1.19 0.8 1.24 1.91 1.45 0.67 0.76 0.49 0.78 1.92 1.29 0.79 0.65 0.79 0.63 1.86 1.29 0.67 0.93 0.43 1.34 4.25 1.11 0.5 1.44 0.69 1.25 2.14 1.17 0.49 1.02 0.47 1.38 3.44 1.2 0.86 1.34 0.73 1.19 1.46 1.02 0.62 1.47 3.76 0.77 0.78 0.91 0.78 1.43 1.55 1.42 0.69 0.96 0.86 0.68 1.59 1.23 0.82 1.39 0.36 1.09 1.39 0.79 0.7 1.12 0.83 1.28 1.67 0.7 0.78 1.4 2.05' fill="none"/><path class="pt" d="M726,1681.3 H903" stroke="#fff" stroke-width='7.5' stroke-dasharray='1.15 0.89 1.21 0.64 1.0 1.93 1.06 0.42 1.34 0.72 1.46 1.69 0.76 0.72 1.33 0.37 1.3 1.98 1.01 0.63 1.05 1.4 0.73 0.36 0.8 0.4 0.7 1.73 1.29 0.84 1.48 0.7 1.07 1.33 0.91 0.83 0.6 0.83 0.62 0.86 0.95 1.22 1.14 0.89 1.28 0.46 0.92 1.97 0.7 0.6 1.21 0.5 1.49 2.26 1.43 0.86 1.39 0.8 1.37 0.74 0.86 1.69 0.75 0.53 1.05 0.6 1.46 1.82 1.1 0.8 0.9 0.86 1.39 1.8 0.83 0.86 0.97 3.63 0.69 0.38 0.77 0.72 0.89 1.31 0.88 0.82 0.79 1.46 1.02 0.87 1.31 0.66 1.09 0.61 1.41 1.36 1.21 0.5 1.04 1.75 1.29 0.37 0.93 1.67 0.75 0.41 1.13 1.58 0.99 0.75 1.19 1.53 0.71 0.72 0.75 0.72 1.48 0.67 1.14 1.21 0.69 0.88 1.21 3.9 1.46 0.85 1.25 1.65 1.17 0.68 0.8 1.91 0.61 0.4 1.43 0.49 1.33 3.76 1.45 0.63 1.08 1.85 1.31 0.68 1.08 0.81 1.49 0.4 1.24 1.36 1.33 0.63 1.05 0.58 0.99 0.44 0.88 1.55 0.69 0.37 0.65 0.64 1.34 1.4 1.15 0.66 1.19 0.37 0.8 0.76 0.67 1.95 1.01 0.44 1.12 0.41 1.44 1.65' fill="none"/><path class="pt" d="M726,1693.9 H769" stroke="#fff" stroke-width='7.5' stroke-dasharray='1.42 0.52 0.72 1.51 1.24 0.62 1.06 1.49 1.1 0.87 0.91 1.81 1.18 0.78 1.01 0.55 1.06 1.62 0.74 0.86 1.48 0.7 1.08 0.82 0.85 4.46 1.4 0.52 1.28 0.81 0.81 4.1 1.09 0.86 0.9 0.56 0.81 1.96 1.14 0.62 1.48 0.7 0.69 1.28' fill="none"/><path class="pt" d="M787,1581.1 H811" stroke="#fff" stroke-width='5' stroke-dasharray='1.02 0.42 0.86 0.52 1.12 1.6 1.08 0.63 1.39 0.83 1.04 1.21 1.36 0.59 1.36 1.62 0.97 0.62 0.87 0.51 1.15 1.8 1.3 0.51 0.99 0.81 1.49 1.44 0.88 0.67 1.37 0.38 1.09 1.92' fill="none"/></g>
<g id="P2a"><g stroke="#fff" fill="none" stroke-width="1.2"><circle cx="124.5" cy="1235.3" r="20.5" stroke-dasharray="2 1"/><circle cx="124.5" cy="1235.3" r="18.5" stroke-width="0.8"/><path d="M96.5,1235.3 H152.5 M124.5,1208.3 V1262.3" stroke-width="1.6"/><path d="M115.5,1226.3 L133.5,1244.3 M133.5,1226.3 L115.5,1244.3" stroke-width="0.9"/></g><polygon points="124.5,1211.3 127.5,1232.3 148.5,1235.3 127.5,1238.3 124.5,1259.3 121.5,1238.3 100.5,1235.3 121.5,1232.3" fill="#fff"/><text x="124.5" y="1206.3" fill="#fff" font-family="Liberation Sans" font-size="7" font-weight="bold" text-anchor="middle">N</text><rect x="375.7" y="1219.8" width="25.1" height="24.4" fill="none" stroke="#fff" stroke-width="1.5"/><rect x="378.7" y="1222.5" width="19" height="19" rx="2.5" fill="none" stroke="#e01818" stroke-width="1.6"/><path d="M343.7,1237.6 H380.7" stroke="#fff" stroke-width="1"/><path class="pt" d="M344.7,1233.5 H356.7" stroke="#fff" stroke-width='3.2' stroke-dasharray='1.49 0.51 1.04 1.67 0.69 0.66 0.89 0.66 0.78 1.8 1.29 0.48 1.21 0.49 1.26 0.41 1.19 1.58 1.44 0.38 1.15 0.38 1.34 1.61' fill="none"/><path class="pt" d="M344.7,1240.8 H359.7" stroke="#fff" stroke-width='3.2' stroke-dasharray='0.83 0.75 1.02 0.83 0.79 1.47 1.49 0.89 1.32 0.46 1.18 1.48 1.43 0.78 0.68 0.75 1.43 0.9 0.61 3.74 1.41 0.78 1.47 0.78 0.62 1.61' fill="none"/><g stroke="#fff" stroke-width="1" fill="none"><path d="M419.6,1216.4 V1248.6 M408,1219.8 H425.2 M408,1244.2 H425.2"/><path d="M371,1264.5 H405.2 M375.7,1254 V1269.3 M400.8,1254 V1269.3"/></g><path class="pt" d="M415.7,1232 H416.7" stroke="#fff" stroke-width='7' stroke-dasharray='0.66 0.66 1.05 1.52 1.01 0.74 0.92 0.53 0.89 0.81 0.6 1.85' fill="none"/><path class="pt" d="M384.7,1260.5 H390.7" stroke="#fff" stroke-width='3' stroke-dasharray='1.31 0.57 1.35 0.65 1.24 1.96 0.93 0.45 0.71 0.9 1.11 1.51 1.48 0.83 0.65 0.72 0.81 1.61' fill="none"/><text x="375.2" y="1287" fill="#fff" font-family="Liberation Sans" font-size="10.5" textLength="17" lengthAdjust="spacingAndGlyphs">1G1</text><path class="pt" d="M396.7,1282.5 H404.7" stroke="#fff" stroke-width='9' stroke-dasharray='0.84 0.48 0.81 0.44 0.85 1.23 1.01 0.48 1.03 0.53 0.8 0.88 1.45 1.73 1.08 0.48 0.82 1.48' fill="none"/><path class="pt" d="M408.7,1282.5 H416.7" stroke="#fff" stroke-width='9' stroke-dasharray='1.49 0.76 1.45 0.67 1.21 1.46 1.24 0.58 0.7 1.94 1.2 0.86 0.9 1.33 0.97 0.75 1.17 0.44 0.73 0.65 0.89 1.64' fill="none"/><path d="M372,1290 H420.7" stroke="#e01818" stroke-width="2"/><rect x="493.1" y="1219.8" width="25.1" height="24.4" fill="none" stroke="#fff" stroke-width="1.5"/><rect x="496.1" y="1222.5" width="19" height="19" rx="2.5" fill="none" stroke="#e01818" stroke-width="1.6"/><path d="M461.1,1237.6 H498.1" stroke="#fff" stroke-width="1"/><path class="pt" d="M462.1,1233.5 H474.1" stroke="#fff" stroke-width='3.2' stroke-dasharray='0.62 0.82 1.39 1.54 1.2 0.65 0.65 0.52 1.29 0.85 1.2 1.44 1.13 0.67 1.2 0.76 1.38 4.45' fill="none"/><path class="pt" d="M462.1,1240.8 H477.1" stroke="#fff" stroke-width='3.2' stroke-dasharray='0.64 0.52 0.76 0.59 0.71 1.9 0.65 0.58 0.69 1.74 1.23 0.74 1.16 0.43 0.79 1.72 1.05 0.55 1.3 0.62 0.84 0.5 1.47 1.55 0.94 0.68 1.4 0.78 1.45 1.82' fill="none"/><g stroke="#fff" stroke-width="1" fill="none"><path d="M537,1216.4 V1248.6 M525.4,1219.8 H542.6 M525.4,1244.2 H542.6"/><path d="M488.4,1264.5 H522.6 M493.1,1254 V1269.3 M518.2,1254 V1269.3"/></g><path class="pt" d="M533.1,1232 H534.1" stroke="#fff" stroke-width='7' stroke-dasharray='1.27 0.4 1.14 0.73 1.06 0.43 1.05 1.64 0.82 0.45 1.47 0.8 0.94 0.46 0.66 1.66' fill="none"/><path class="pt" d="M502.1,1260.5 H508.1" stroke="#fff" stroke-width='3' stroke-dasharray='0.68 0.78 0.64 0.84 1.08 0.56 1.45 3.6 1.14 0.46 0.73 0.88 0.98 1.32' fill="none"/><text x="492.6" y="1287" fill="#fff" font-family="Liberation Sans" font-size="10.5" textLength="17" lengthAdjust="spacingAndGlyphs">2G2</text><path class="pt" d="M514.1,1282.5 H522.1" stroke="#fff" stroke-width='9' stroke-dasharray='1.31 0.86 0.97 1.14 1.49 0.87 1.06 0.69 1.44 1.56 0.86 0.51 0.7 0.66 1.36 2.18' fill="none"/><path class="pt" d="M526.1,1282.5 H534.1" stroke="#fff" stroke-width='9' stroke-dasharray='1.04 0.83 1.12 0.88 0.81 1.62 0.94 0.37 1.26 0.67 0.79 4.48 1.47 0.49 0.77 2.12' fill="none"/><path d="M489.4,1290 H538.1" stroke="#e01818" stroke-width="2"/><g><rect x="623.8" y="1180.2" width="21" height="78" fill="url(#hatch)"/><rect x="618.8" y="1276.6" width="31" height="41" fill="url(#hatch)"/><rect x="613.5" y="1317.3" width="41" height="10.7" fill="url(#hatch)"/><rect x="608.6" y="1328" width="51.4" height="9.1" fill="url(#hatch)"/><path d="M623.8,1180.2 V1258.3 M644.8,1180.2 V1258.3 M618.8,1276.6 V1317.3 H613.5 V1328 H608.6 V1337 M649.8,1276.6 V1317.3 H654.5 V1328 H660 V1337" stroke="#e01818" stroke-width="1.6" fill="none"/><rect x="625" y="1259.4" width="19" height="17.2" fill="none" stroke="#e01818" stroke-width="1.8"/><g stroke="#fff" stroke-width="1.3" fill="none"><path d="M635.2,1168 V1390"/><path d="M618.2,1180.2 H649.2 M618.2,1221.5 H649.2 M618.2,1224 H649.2 M613.2,1299.4 H655.6 M613.2,1301.6 H655.6"/><rect x="593.3" y="1337.1" width="81.9" height="25.2"/><path d="M675.2,1337.1 H741.8 M645.2,1193 H693.2 M725.2,1189.4 H758.7"/><path d="M711.4,1188.6 V1340.2 M728.5,1186 V1366.8"/><path d="M694.2,1233.5 H714.2"/><path d="M694.2,1258.3 H714.2"/><path d="M694.2,1277.3 H714.2"/><path d="M694.2,1319.2 H714.2"/><path d="M694.2,1328.7 H714.2"/><path d="M588.4,1385.1 H678.2 M593.3,1378 V1390 M635.2,1378 V1390 M675.2,1378 V1390"/><path d="M592.2,1253.9 H675.7" /><path d="M593.2,1248 V1262"/><path d="M603.2,1248 V1262"/><path d="M611.2,1248 V1262"/><path d="M623.2,1248 V1262"/><path d="M632.2,1248 V1262"/><path d="M643.2,1248 V1262"/><path d="M652.2,1248 V1262"/><path d="M663.2,1248 V1262"/><path d="M675.2,1248 V1262"/><path d="M589.2,1206 H618.2 L624.2,1200 M587.2,1228 H611.2 M587.2,1232.4 H624.2 M591.2,1228 l3,4.4 3,-4.4 M675.2,1197.8 H694.2" /><path d="M644.2,1271.8 L656.5,1283.2 H685.2 M618.8,1277 H649.8"/><path d="M687.2,1193 V1198 M680.2,1198 H695.2"/></g><path class="pt" d="M593.2,1201.5 H609.2" stroke="#fff" stroke-width='6' stroke-dasharray='1.11 0.53 1.14 0.71 0.79 0.83 1.04 1.77 1.45 0.39 0.73 0.72 1.27 4.4 1.18 0.65 0.62 1.24 0.97 0.55 1.39 1.52' fill="none"/><path class="pt" d="M591.2,1224.5 H603.2" stroke="#fff" stroke-width='3.5' stroke-dasharray='1.15 0.41 0.67 0.55 1.26 1.64 0.76 0.63 0.64 0.37 0.63 1.65 0.64 0.78 0.83 0.61 0.68 0.52 1.15 3.61 1.16 0.45 1.22 0.8 0.94 2.16' fill="none"/><path class="pt" d="M663.2,1278 H675.2" stroke="#fff" stroke-width='7' stroke-dasharray='0.62 0.79 0.94 0.68 0.76 1.19 1.31 0.47 1.28 0.66 1.16 0.44 0.76 1.42 1.49 0.41 0.77 0.54 1.41 1.61 1.31 0.41 0.65 0.73 0.91 4.57' fill="none"/><path class="pt" d="M735.2,1185.5 H747.2" stroke="#fff" stroke-width='4' stroke-dasharray='0.73 0.51 1.01 0.68 1.5 1.96 0.88 0.53 0.68 0.81 1.03 0.4 1.11 1.8 0.75 0.85 1.43 2.01 0.73 0.53 0.88 0.38 1.3 3.67' fill="none"/><path class="pt" d="M738.2,1355 H748.2" stroke="#fff" stroke-width='3' stroke-dasharray='1.04 0.8 0.78 0.55 0.88 0.52 0.7 1.17 0.96 0.44 1.25 0.61 0.89 1.82 0.96 0.71 0.73 0.73 1.19 0.64 1.27 1.8' fill="none"/><path class="pt" d="M689.2,1200 H694.2" stroke="#fff" stroke-width='4' stroke-dasharray='1.2 0.58 0.78 0.69 1.2 2.01 0.95 0.74 0.82 0.58 0.82 1.74 1.28 0.84 1.13 1.79' fill="none"/><path class="pt" d="M697.7,1211 H699.7" stroke="#fff" stroke-width='6' stroke-dasharray='1.08 0.36 0.62 0.83 0.72 0.63 0.88 1.6 0.84 0.64 1.13 0.57 0.92 1.68' fill="none"/><path class="pt" d="M697.7,1247 H699.7" stroke="#fff" stroke-width='6' stroke-dasharray='1.32 0.9 0.87 0.8 1.3 1.7 0.85 0.74 0.79 0.5 1.41 1.34' fill="none"/><path class="pt" d="M697.7,1270 H699.7" stroke="#fff" stroke-width='6' stroke-dasharray='1.43 0.9 1.15 0.68 1.29 1.83 1.49 0.54 0.8 1.8' fill="none"/><path class="pt" d="M697.7,1300 H699.7" stroke="#fff" stroke-width='6' stroke-dasharray='1.22 0.76 0.69 1.54 1.21 0.57 1.35 1.4 1.15 0.75 0.72 0.87 1.16 1.61' fill="none"/><path class="pt" d="M697.7,1330 H699.7" stroke="#fff" stroke-width='6' stroke-dasharray='1.44 0.61 0.68 2.02 0.89 0.62 1.49 0.55 0.93 0.54 0.69 1.36' fill="none"/><path class="pt" d="M723.2,1272 H726.2" stroke="#fff" stroke-width='10' stroke-dasharray='1.06 0.84 0.71 0.53 1.32 0.45 1.34 1.33 1.08 0.68 0.6 0.7 0.66 4.39' fill="none"/><path class="pt" d="M723.2,1352 H726.2" stroke="#fff" stroke-width='6' stroke-dasharray='1.03 0.86 0.76 0.88 1.25 0.79 0.95 1.69 1.23 0.49 1.5 1.64' fill="none"/><path class="pt" d="M610.2,1378.3 H618.2" stroke="#fff" stroke-width='3.5' stroke-dasharray='1.07 0.45 0.61 0.72 0.83 1.98 1.34 0.74 1.0 0.78 0.93 1.45 1.1 0.73 1.29 0.5 1.48 0.38 0.65 1.57' fill="none"/><path class="pt" d="M650.2,1378.3 H658.2" stroke="#fff" stroke-width='3.5' stroke-dasharray='1.06 0.52 1.22 0.55 1.34 1.46 1.29 0.69 0.76 0.65 0.76 1.64 1.01 0.68 0.63 1.54 0.9 0.6 1.18 0.76 1.32 1.7' fill="none"/><text x="620.2" y="1421" fill="#fff" font-family="Liberation Sans" font-size="13" textLength="18" lengthAdjust="spacingAndGlyphs">2-2</text><path d="M615.2,1425 H655.7" stroke="#fff" stroke-width="1.2"/></g><g><rect x="835.2" y="1180.2" width="21" height="78" fill="url(#hatch)"/><rect x="830.2" y="1276.6" width="31" height="41" fill="url(#hatch)"/><rect x="824.9" y="1317.3" width="41" height="10.7" fill="url(#hatch)"/><rect x="820" y="1328" width="51.4" height="9.1" fill="url(#hatch)"/><path d="M835.2,1180.2 V1258.3 M856.2,1180.2 V1258.3 M830.2,1276.6 V1317.3 H824.9 V1328 H820 V1337 M861.2,1276.6 V1317.3 H865.9 V1328 H871.4 V1337" stroke="#e01818" stroke-width="1.6" fill="none"/><rect x="837" y="1258.3" width="20" height="18.3" fill="none" stroke="#fff" stroke-width="1.3"/><g stroke="#fff" stroke-width="1.3" fill="none"><path d="M846.6,1168 V1390"/><path d="M829.6,1180.2 H860.6 M829.6,1221.5 H860.6 M829.6,1224 H860.6 M824.6,1299.4 H867 M824.6,1301.6 H867"/><rect x="804.7" y="1337.1" width="81.9" height="25.2"/><path d="M886.6,1337.1 H953.2 M856.6,1193 H904.6 M936.6,1189.4 H970.1"/><path d="M922.8,1188.6 V1340.2 M939.9,1186 V1366.8"/><path d="M905.6,1233.5 H925.6"/><path d="M905.6,1258.3 H925.6"/><path d="M905.6,1277.3 H925.6"/><path d="M905.6,1319.2 H925.6"/><path d="M905.6,1328.7 H925.6"/><path d="M799.8,1385.1 H889.6 M804.7,1378 V1390 M846.6,1378 V1390 M886.6,1378 V1390"/><path d="M803.6,1253.9 H887.1" /><path d="M804.6,1248 V1262"/><path d="M814.6,1248 V1262"/><path d="M822.6,1248 V1262"/><path d="M834.6,1248 V1262"/><path d="M843.6,1248 V1262"/><path d="M854.6,1248 V1262"/><path d="M863.6,1248 V1262"/><path d="M874.6,1248 V1262"/><path d="M886.6,1248 V1262"/><path d="M800.6,1206 H829.6 L835.6,1200 M798.6,1228 H822.6 M798.6,1232.4 H835.6 M802.6,1228 l3,4.4 3,-4.4 M886.6,1197.8 H905.6" /><path d="M855.6,1271.8 L867.9,1283.2 H896.6 M830.2,1277 H861.2"/><path d="M898.6,1193 V1198 M891.6,1198 H906.6"/></g><path class="pt" d="M804.6,1201.5 H820.6" stroke="#fff" stroke-width='6' stroke-dasharray='1.33 0.56 0.99 0.49 1.18 1.41 0.81 0.64 1.09 1.71 0.95 0.52 1.45 0.47 1.3 0.8 1.37 1.84 0.7 0.56 1.45 0.72 0.68 1.82' fill="none"/><path class="pt" d="M802.6,1224.5 H814.6" stroke="#fff" stroke-width='3.5' stroke-dasharray='0.92 0.72 1.48 0.59 1.2 1.07 1.49 0.68 0.92 1.49 1.44 0.79 0.88 0.76 1.4 0.68 1.24 2.0 1.19 0.88 0.76 0.88 1.06 1.44' fill="none"/><path class="pt" d="M874.6,1278 H886.6" stroke="#fff" stroke-width='7' stroke-dasharray='1.09 0.5 1.16 0.7 1.3 0.62 0.85 1.5 1.22 0.68 0.62 1.49 0.83 0.76 1.29 1.72 1.34 0.67 0.8 1.86' fill="none"/><path class="pt" d="M946.6,1185.5 H958.6" stroke="#fff" stroke-width='4' stroke-dasharray='0.65 0.36 1.39 4.59 0.85 0.89 0.63 0.37 1.11 1.6 1.37 0.45 0.89 0.74 0.83 0.5 0.61 1.11 1.41 0.58 1.22 0.45 1.07 1.28' fill="none"/><path class="pt" d="M949.6,1355 H959.6" stroke="#fff" stroke-width='3' stroke-dasharray='1.45 0.51 0.62 0.41 0.75 1.98 0.79 0.44 1.31 0.63 1.26 1.28 1.25 0.52 0.8 0.36 1.37 0.79 0.89 1.78' fill="none"/><path class="pt" d="M900.6,1200 H905.6" stroke="#fff" stroke-width='4' stroke-dasharray='1.32 0.7 1.14 0.4 0.63 0.82 1.22 1.5 0.88 0.38 0.94 0.55 1.13 2.1' fill="none"/><path class="pt" d="M909.1,1211 H911.1" stroke="#fff" stroke-width='6' stroke-dasharray='1.12 0.79 1.37 0.39 0.73 0.4 0.82 1.44 1.25 0.7 1.28 0.39 1.44 0.78 0.94 1.1' fill="none"/><path class="pt" d="M909.1,1247 H911.1" stroke="#fff" stroke-width='6' stroke-dasharray='1.45 0.41 1.33 0.73 1.25 0.82 1.09 1.18 1.3 0.39 0.83 1.59' fill="none"/><path class="pt" d="M909.1,1270 H911.1" stroke="#fff" stroke-width='6' stroke-dasharray='0.93 0.8 1.09 0.4 0.83 1.63 1.26 0.42 0.9 0.84 1.39 3.4' fill="none"/><path class="pt" d="M909.1,1300 H911.1" stroke="#fff" stroke-width='6' stroke-dasharray='1.24 0.57 1.16 1.56 1.33 0.82 1.41 0.72 0.87 1.35' fill="none"/><path class="pt" d="M909.1,1330 H911.1" stroke="#fff" stroke-width='6' stroke-dasharray='1.36 0.59 0.61 0.73 1.28 1.25 1.42 0.63 1.05 1.62' fill="none"/><path class="pt" d="M934.6,1272 H937.6" stroke="#fff" stroke-width='10' stroke-dasharray='1.26 0.76 1.07 0.62 0.74 1.35 0.85 0.55 1.09 0.45 0.76 1.39 1.47 0.46 0.84 0.89 1.24 0.39 0.77 1.98' fill="none"/><path class="pt" d="M934.6,1352 H937.6" stroke="#fff" stroke-width='6' stroke-dasharray='0.67 0.64 1.48 0.57 0.94 1.66 0.66 0.39 1.3 1.49 1.45 0.4 0.98 0.39 1.23 0.36 1.15 0.99' fill="none"/><path class="pt" d="M821.6,1378.3 H829.6" stroke="#fff" stroke-width='3.5' stroke-dasharray='0.63 0.39 0.85 0.44 0.88 0.68 1.23 1.5 1.16 0.5 0.66 0.48 1.3 0.86 0.98 1.5 1.25 0.7 0.9 0.66 0.78 1.99' fill="none"/><path class="pt" d="M861.6,1378.3 H869.6" stroke="#fff" stroke-width='3.5' stroke-dasharray='1.01 0.84 0.97 0.56 0.91 0.46 0.97 3.44 0.86 0.86 1.14 0.88 1.49 0.76 1.08 1.17' fill="none"/><text x="831.6" y="1421" fill="#fff" font-family="Liberation Sans" font-size="13" textLength="18" lengthAdjust="spacingAndGlyphs">1-1</text><path d="M826.6,1425 H867.1" stroke="#fff" stroke-width="1.2"/></g><path class="pt" d="M728,1553 H738" stroke="#fff" stroke-width='5' stroke-dasharray='1.47 0.68 1.29 2.01 0.69 0.88 0.72 0.43 1.23 1.54 0.87 0.72 1.07 0.76 0.62 0.76 0.98 1.78' fill="none"/><path class="pt" d="M722.4,1567.9 H818.6" stroke="#fff" stroke-width='7.5' stroke-dasharray='1.34 0.57 1.01 0.89 1.15 2.15 1.12 0.88 0.76 0.71 1.0 1.42 1.25 0.5 1.29 0.6 1.15 2.08 0.84 0.73 1.3 1.3 0.61 0.42 1.04 0.64 0.77 1.89 1.22 0.55 0.88 1.62 0.86 0.51 1.15 1.74 1.33 0.84 1.45 0.89 0.79 1.72 1.27 0.73 0.68 4.4 1.06 0.5 1.35 0.43 0.68 0.48 1.28 1.59 1.02 0.67 0.9 0.43 1.03 0.77 1.37 2.28 0.9 0.72 0.94 0.72 0.69 1.13 0.88 0.87 1.4 0.52 0.93 1.89 1.15 0.51 1.15 0.51 1.36 0.73 1.32 1.43 1.38 0.82 0.84 1.29 1.16 0.86 0.65 2.11 1.08 0.68 1.11 0.7 1.14 0.69 0.84 2.08' fill="none"/><path class="pt" d="M726,1581.1 H769.9" stroke="#fff" stroke-width='7.5' stroke-dasharray='0.66 0.51 1.02 0.64 1.31 0.63 1.01 1.9 1.34 0.57 0.77 0.85 0.67 1.23 0.98 0.6 1.2 2.07 1.26 0.39 1.03 0.82 0.76 1.35 0.97 0.36 1.39 0.67 0.81 1.39 0.66 0.59 0.89 0.89 1.3 1.96 0.79 0.79 1.22 0.72 1.33 0.79 1.16 1.69 1.13 0.54 0.69 0.84 0.98 1.28 0.85 0.72 1.28 0.83 0.6 1.39' fill="none"/><path class="pt" d="M726,1593 H804" stroke="#fff" stroke-width='7.5' stroke-dasharray='1.16 0.78 0.98 0.83 1.07 0.4 1.17 4.14 1.36 0.74 1.21 0.37 1.24 0.76 0.92 1.72 0.83 0.89 1.21 0.86 0.82 0.82 1.08 1.32 0.77 0.72 1.03 0.42 1.43 1.29 0.78 0.66 1.41 1.49 0.75 0.76 1.25 0.87 0.72 1.86 0.7 0.51 1.08 0.47 0.66 1.77 0.83 0.38 1.41 0.48 1.2 0.49 0.79 1.85 1.23 0.36 0.64 0.47 1.03 1.73 1.41 0.4 0.96 1.34 0.94 0.38 1.02 0.54 1.19 1.17 0.63 0.82 0.72 0.86 0.72 0.64 1.29 1.36 0.85 0.69 1.18 0.65 1.47 1.2 1.25 0.69 1.44 1.77' fill="none"/><path class="pt" d="M726,1606.1 H875.3" stroke="#fff" stroke-width='7.5' stroke-dasharray='0.89 0.83 1.42 0.36 1.46 0.52 0.6 1.85 0.68 0.51 1.48 1.4 1.24 0.78 0.93 0.7 0.7 0.66 1.48 1.17 1.5 0.48 1.33 0.74 1.44 0.5 0.87 1.82 1.04 0.87 0.77 0.83 0.96 1.97 1.48 0.36 0.65 1.68 1.5 0.72 0.96 1.92 1.27 0.5 0.67 0.41 0.97 0.85 0.75 1.45 0.81 0.86 0.93 0.89 0.65 1.78 0.76 0.46 0.96 0.65 1.02 0.6 1.33 1.5 1.22 0.8 1.45 1.23 0.71 0.48 1.0 0.54 1.39 1.76 0.62 0.87 1.28 0.72 0.64 1.87 0.78 0.66 1.34 0.6 1.35 1.15 1.17 0.75 1.33 1.57 0.63 0.53 1.28 0.54 1.22 0.43 0.9 1.84 1.33 0.69 1.11 3.59 1.39 0.87 0.9 0.61 1.39 2.03 0.85 0.8 1.3 3.28 0.82 0.4 1.46 0.49 1.35 1.91 1.29 0.64 1.24 0.52 1.11 0.6 0.93 1.35 1.02 0.39 1.24 0.65 1.15 0.83 1.33 1.98 1.07 0.78 1.09 0.56 1.23 1.81 1.35 0.59 0.87 0.46 0.99 1.38 1.22 0.5 1.21 1.9' fill="none"/><path class="pt" d="M726,1619.3 H814.7" stroke="#fff" stroke-width='7.5' stroke-dasharray='1.35 0.57 0.66 0.43 1.21 1.29 0.79 0.53 1.18 1.63 1.03 0.58 1.06 0.53 0.61 0.84 1.09 1.64 0.84 0.83 1.17 2.04 1.41 0.6 0.87 0.48 0.65 1.49 1.35 0.56 0.62 0.39 0.8 1.47 1.36 0.57 0.87 1.58 1.28 0.88 0.66 1.91 1.18 0.83 1.46 0.59 0.98 0.39 1.32 3.16 1.48 0.55 1.28 0.45 0.64 1.62 0.85 0.37 0.98 0.78 1.27 0.82 0.81 1.09 1.45 0.36 1.41 0.47 1.49 4.5 0.65 0.85 1.09 0.37 1.25 1.32 1.4 0.7 1.45 0.89 1.2 1.69 1.2 0.79 0.87 0.51 1.49 1.27 1.03 0.56 0.98 0.53 0.73 1.35' fill="none"/><path class="pt" d="M726,1631.7 H792.3" stroke="#fff" stroke-width='7.5' stroke-dasharray='1.08 0.75 1.44 1.8 1.29 0.47 1.08 0.62 0.85 1.78 1.41 0.61 1.29 0.53 1.35 0.54 0.99 1.56 1.31 0.52 1.18 0.75 0.63 0.46 0.69 1.55 1.38 0.7 1.03 0.56 1.19 0.85 1.39 1.32 0.78 0.38 1.31 0.48 0.89 4.32 1.3 0.56 1.06 0.73 0.75 1.47 1.15 0.9 0.93 0.8 1.44 0.87 1.14 2.15 1.44 0.37 1.32 0.55 0.76 1.79 1.16 0.77 1.34 0.64 0.68 1.59 1.07 0.59 1.3 0.5 1.31 0.58 1.36 3.53' fill="none"/><path class="pt" d="M726,1643.8 H845" stroke="#fff" stroke-width='7.5' stroke-dasharray='1.1 0.61 1.37 2.08 0.73 0.7 1.23 0.63 1.31 4.19 0.85 0.71 0.66 0.6 1.29 1.23 0.87 0.8 0.64 1.67 0.66 0.77 0.92 1.61 0.71 0.61 1.15 0.39 0.87 1.43 1.04 0.77 1.33 0.46 1.23 1.01 0.91 0.83 1.42 0.51 1.29 2.15 1.09 0.49 0.68 0.7 1.26 1.64 1.33 0.73 1.17 0.44 0.73 0.88 1.37 1.53 0.9 0.48 1.07 0.52 0.88 1.46 1.33 0.58 1.04 0.46 1.06 0.51 0.69 3.74 1.24 0.75 0.94 0.73 0.86 1.14 1.11 0.78 0.76 0.9 1.35 1.85 0.77 0.67 0.69 0.57 0.91 0.77 1.02 1.5 0.82 0.88 0.87 2.1 1.12 0.36 1.36 0.79 1.42 1.98 1.17 0.72 0.91 0.71 0.84 1.87 1.01 0.56 1.15 1.21 0.63 0.88 1.28 0.47 0.64 1.48 1.15 0.38 0.76 1.49 0.66 0.48 0.91 0.45 0.75 1.28' fill="none"/><path class="pt" d="M726,1656.2 H817.3" stroke="#fff" stroke-width='7.5' stroke-dasharray='0.79 0.75 1.21 3.3 1.27 0.47 0.88 2.08 0.74 0.78 1.45 0.71 0.61 1.91 0.83 0.81 1.24 0.5 1.24 4.08 1.48 0.36 0.84 1.27 1.22 0.88 0.85 1.86 0.85 0.43 1.03 0.88 1.11 2.17 1.38 0.69 1.35 0.38 1.19 0.6 1.42 1.16 0.76 0.65 0.99 0.49 0.96 0.41 1.15 1.23 1.41 0.55 0.85 1.65 1.23 0.71 1.41 0.81 1.01 1.09 0.94 0.61 0.78 0.44 1.29 0.62 0.73 1.75 0.68 0.36 1.29 0.52 1.39 0.5 1.37 1.94 1.04 0.54 1.04 2.04 0.88 0.43 0.96 0.66 1.27 1.05 0.96 0.39 1.2 0.53 1.21 1.15 1.38 0.37 1.32 0.39 1.06 1.3' fill="none"/><path class="pt" d="M726,1668.1 H829.2" stroke="#fff" stroke-width='7.5' stroke-dasharray='1.42 0.87 0.76 0.37 1.16 1.99 0.91 0.69 0.73 0.47 0.82 1.72 0.8 0.39 0.85 0.48 1.29 0.69 1.39 1.6 1.36 0.62 1.33 0.37 0.96 0.84 1.17 3.06 1.04 0.87 1.19 0.8 1.24 1.91 1.45 0.67 0.76 0.49 0.78 1.92 1.29 0.79 0.65 0.79 0.63 1.86 1.29 0.67 0.93 0.43 1.34 4.25 1.11 0.5 1.44 0.69 1.25 2.14 1.17 0.49 1.02 0.47 1.38 3.44 1.2 0.86 1.34 0.73 1.19 1.46 1.02 0.62 1.47 3.76 0.77 0.78 0.91 0.78 1.43 1.55 1.42 0.69 0.96 0.86 0.68 1.59 1.23 0.82 1.39 0.36 1.09 1.39 0.79 0.7 1.12 0.83 1.28 1.67 0.7 0.78 1.4 2.05' fill="none"/><path class="pt" d="M726,1681.3 H903" stroke="#fff" stroke-width='7.5' stroke-dasharray='1.15 0.89 1.21 0.64 1.0 1.93 1.06 0.42 1.34 0.72 1.46 1.69 0.76 0.72 1.33 0.37 1.3 1.98 1.01 0.63 1.05 1.4 0.73 0.36 0.8 0.4 0.7 1.73 1.29 0.84 1.48 0.7 1.07 1.33 0.91 0.83 0.6 0.83 0.62 0.86 0.95 1.22 1.14 0.89 1.28 0.46 0.92 1.97 0.7 0.6 1.21 0.5 1.49 2.26 1.43 0.86 1.39 0.8 1.37 0.74 0.86 1.69 0.75 0.53 1.05 0.6 1.46 1.82 1.1 0.8 0.9 0.86 1.39 1.8 0.83 0.86 0.97 3.63 0.69 0.38 0.77 0.72 0.89 1.31 0.88 0.82 0.79 1.46 1.02 0.87 1.31 0.66 1.09 0.61 1.41 1.36 1.21 0.5 1.04 1.75 1.29 0.37 0.93 1.67 0.75 0.41 1.13 1.58 0.99 0.75 1.19 1.53 0.71 0.72 0.75 0.72 1.48 0.67 1.14 1.21 0.69 0.88 1.21 3.9 1.46 0.85 1.25 1.65 1.17 0.68 0.8 1.91 0.61 0.4 1.43 0.49 1.33 3.76 1.45 0.63 1.08 1.85 1.31 0.68 1.08 0.81 1.49 0.4 1.24 1.36 1.33 0.63 1.05 0.58 0.99 0.44 0.88 1.55 0.69 0.37 0.65 0.64 1.34 1.4 1.15 0.66 1.19 0.37 0.8 0.76 0.67 1.95 1.01 0.44 1.12 0.41 1.44 1.65' fill="none"/><path class="pt" d="M726,1693.9 H769" stroke="#fff" stroke-width='7.5' stroke-dasharray='1.42 0.52 0.72 1.51 1.24 0.62 1.06 1.49 1.1 0.87 0.91 1.81 1.18 0.78 1.01 0.55 1.06 1.62 0.74 0.86 1.48 0.7 1.08 0.82 0.85 4.46 1.4 0.52 1.28 0.81 0.81 4.1 1.09 0.86 0.9 0.56 0.81 1.96 1.14 0.62 1.48 0.7 0.69 1.28' fill="none"/><path class="pt" d="M787,1581.1 H811" stroke="#fff" stroke-width='5' stroke-dasharray='1.02 0.42 0.86 0.52 1.12 1.6 1.08 0.63 1.39 0.83 1.04 1.21 1.36 0.59 1.36 1.62 0.97 0.62 0.87 0.51 1.15 1.8 1.3 0.51 0.99 0.81 1.49 1.44 0.88 0.67 1.37 0.38 1.09 1.92' fill="none"/></g>
<g id="P1m"><g stroke="#2ee62e" stroke-width="1.1" vector-effect="non-scaling-stroke" fill="none"><path d="M173,600.5 H831 M173,603.2 H831"/><path d="M174.9,596.5 V613"/><circle cx="174.9" cy="594.3" r="2"/><path d="M226.4,596.5 V613"/><circle cx="226.4" cy="594.3" r="2"/><path d="M277.4,596.5 V613"/><circle cx="277.4" cy="594.3" r="2"/><path d="M328,596.5 V613"/><circle cx="328" cy="594.3" r="2"/><path d="M379,596.5 V613"/><circle cx="379" cy="594.3" r="2"/><path d="M430.3,596.5 V613"/><circle cx="430.3" cy="594.3" r="2"/><path d="M482.5,596.5 V613"/><circle cx="482.5" cy="594.3" r="2"/><path d="M533.5,596.5 V613"/><circle cx="533.5" cy="594.3" r="2"/><path d="M584.7,596.5 V613"/><circle cx="584.7" cy="594.3" r="2"/><path d="M635.4,596.5 V613"/><circle cx="635.4" cy="594.3" r="2"/><path d="M687.5,596.5 V613"/><circle cx="687.5" cy="594.3" r="2"/><path d="M738.6,596.5 V613"/><circle cx="738.6" cy="594.3" r="2"/><path d="M789.1,596.5 V613"/><circle cx="789.1" cy="594.3" r="2"/><path d="M830.4,596.5 V613"/><circle cx="830.4" cy="594.3" r="2"/><path d="M514.7,598 V606"/><path d="M107,650 V1075 M112,650 V1075"/><path d="M101.5,653.8 H121"/><circle cx="99.5" cy="653.8" r="2"/><path d="M101.5,697.2 H121"/><circle cx="99.5" cy="697.2" r="2"/><path d="M101.5,740.6 H121"/><circle cx="99.5" cy="740.6" r="2"/><path d="M101.5,782.9 H121"/><circle cx="99.5" cy="782.9" r="2"/><path d="M101.5,826.8 H121"/><circle cx="99.5" cy="826.8" r="2"/><path d="M101.5,870.8 H121"/><circle cx="99.5" cy="870.8" r="2"/><path d="M101.5,913 H121"/><circle cx="99.5" cy="913" r="2"/><path d="M101.5,956.1 H121"/><circle cx="99.5" cy="956.1" r="2"/><path d="M101.5,1000 H121"/><circle cx="99.5" cy="1000" r="2"/><path d="M101.5,1043.4 H121"/><circle cx="99.5" cy="1043.4" r="2"/><path d="M101.5,1073.9 H121"/><circle cx="99.5" cy="1073.9" r="2"/><path d="M101,658.5 H121"/></g><g fill="#f4f4f4" font-family="Liberation Sans" font-size="5.6" font-weight="bold"></g><g fill="#fff" font-family="Liberation Sans" font-size="6" font-weight="bold"></g><path d="M116.5,646 V1091" stroke="#c01818" stroke-width="1.1" vector-effect="non-scaling-stroke"/><path d="M117,695 V742 M117,867 V906" stroke="#a89a30" stroke-width="1.1" vector-effect="non-scaling-stroke"/><g stroke="#1ed2e2" stroke-width="1.1" vector-effect="non-scaling-stroke" fill="none"><path d="M901.5,618.5 H136.8 Q126.8,618.5 126.8,628.5 V1083 Q126.8,1093 116.8,1093 H62"/><path d="M480,634 H157.9 Q147.9,634 147.9,644 V1083 Q147.9,1093 157.9,1093 H478"/><path d="M470,634 Q480,634 480,640 M525,634 Q515,634 515,640"/><path d="M515,634 H846.7 Q856.7,634 856.7,644 V1083 Q856.7,1093 846.7,1093 H512"/><path d="M468,1093 Q478,1093 478,1087 M522,1093 Q512,1093 512,1087"/><path d="M902,634 H892.7 Q882.7,634 882.7,644 V1083 Q882.7,1093 892.7,1093 H934.4"/><path d="M62,1115 H934.4"/><path d="M176,956.3 H379.6 V740.6 H478.7 V1047"/><path d="M511.5,1047 V740.6 H714.4 V657"/></g><rect x="242" y="614" width="27" height="8" fill="#000"/><rect x="380" y="614" width="18" height="8" fill="#000"/><rect x="645" y="614" width="14" height="8" fill="#000"/><rect x="763" y="614" width="26" height="8" fill="#000"/><rect x="258" y="630" width="25" height="8" fill="#000"/><rect x="408" y="630" width="20" height="8" fill="#000"/><rect x="628" y="630" width="20" height="8" fill="#000"/><rect x="752" y="630" width="27" height="8" fill="#000"/><rect x="920" y="630" width="14" height="8" fill="#000"/><rect x="122" y="712" width="10" height="13" fill="#000"/><rect x="143" y="712" width="10" height="13" fill="#000"/><rect x="122" y="826" width="10" height="21" fill="#000"/><rect x="143" y="826" width="10" height="21" fill="#000"/><rect x="122" y="937" width="10" height="21" fill="#000"/><rect x="143" y="937" width="10" height="21" fill="#000"/><rect x="122" y="1053" width="10" height="13" fill="#000"/><rect x="143" y="1053" width="10" height="13" fill="#000"/><rect x="852" y="720" width="10" height="14" fill="#000"/><rect x="878" y="720" width="10" height="14" fill="#000"/><rect x="852" y="831" width="10" height="27" fill="#000"/><rect x="878" y="831" width="10" height="27" fill="#000"/><rect x="852" y="952" width="10" height="15" fill="#000"/><rect x="878" y="952" width="10" height="15" fill="#000"/><rect x="852" y="1045" width="10" height="14" fill="#000"/><rect x="878" y="1045" width="10" height="14" fill="#000"/><rect x="139" y="1111" width="27" height="8" fill="#000"/><rect x="268" y="1111" width="28" height="8" fill="#000"/><rect x="400" y="1111" width="27" height="8" fill="#000"/><rect x="530" y="1111" width="26" height="8" fill="#000"/><rect x="664" y="1111" width="22" height="8" fill="#000"/><rect x="788" y="1111" width="27" height="8" fill="#000"/><rect x="120" y="1089" width="8" height="8" fill="#000"/><rect x="375" y="825" width="10" height="25" fill="#000"/><rect x="474" y="825" width="10" height="25" fill="#000"/><rect x="507" y="825" width="10" height="25" fill="#000"/><rect x="295" y="1089" width="25" height="8" fill="#000"/><rect x="700" y="1089" width="30" height="8" fill="#000"/><g stroke="#d81818" stroke-width="1.1" vector-effect="non-scaling-stroke" fill="none"><path d="M480,638.6 H161 Q156.7,638.6 156.7,643 M512,1088.5 H848.3 M478,1088.5 H156.7 M848.3,643 Q848.3,638.6 844,638.6 H518"/></g><rect x="651" y="636" width="25" height="5" fill="#000"/><rect x="780" y="636" width="27" height="5" fill="#000"/><path d="M156.7,645 V754 M156.7,774 V870 M156.7,888 V984 M156.7,999 V1088.5 M848.3,645 V765 M848.3,780 V865 M848.3,889 V984 M848.3,999 V1088.5" stroke="#b82010" stroke-width="1.1" vector-effect="non-scaling-stroke"/><g fill="#2ab82a"><rect x="164.9" y="645" width="315" height="8.8"/><rect x="518" y="645" width="322.8" height="8.8"/><rect x="164.9" y="645" width="10" height="437"/><rect x="831.8" y="645" width="9" height="437"/><rect x="164.9" y="1074" width="313" height="8"/><rect x="512" y="1074" width="328.8" height="8"/></g><path d="M164.9,644.6 H480 M518,644.6 H840.8 M164.9,1082.3 H478 M512,1082.3 H840.8" stroke="#d81818" stroke-width="1.1" vector-effect="non-scaling-stroke" fill="none"/><path d="M164.6,645 V1082 M841,645 V1082" stroke="#c8a020" stroke-width="1.1" vector-effect="non-scaling-stroke" fill="none"/><path d="M175,653.8 H480 M518,653.8 H831.8 M175,1073.6 H478 M512,1073.6 H831.8" stroke="#d81818" stroke-width="1.1" vector-effect="non-scaling-stroke" fill="none"/><path d="M175.3,655 V1072.5 M831.3,655 V1072.5 M176,1072.4 H477 M513,1072.4 H830.5" stroke="#e8e0d0" stroke-width="1.1" vector-effect="non-scaling-stroke" fill="none"/><path d="M173.5,668 h3.5 M829.8,668 h3.5 M173.5,697 h3.5 M829.8,697 h3.5 M173.5,726 h3.5 M829.8,726 h3.5 M173.5,755 h3.5 M829.8,755 h3.5 M173.5,784 h3.5 M829.8,784 h3.5 M173.5,813 h3.5 M829.8,813 h3.5 M173.5,842 h3.5 M829.8,842 h3.5 M173.5,871 h3.5 M829.8,871 h3.5 M173.5,900 h3.5 M829.8,900 h3.5 M173.5,929 h3.5 M829.8,929 h3.5 M173.5,958 h3.5 M829.8,958 h3.5 M173.5,987 h3.5 M829.8,987 h3.5 M173.5,1016 h3.5 M829.8,1016 h3.5 M173.5,1045 h3.5 M829.8,1045 h3.5 M190,1071 v3 M219,1071 v3 M248,1071 v3 M277,1071 v3 M306,1071 v3 M335,1071 v3 M364,1071 v3 M393,1071 v3 M422,1071 v3 M451,1071 v3 M530,1071 v3 M559,1071 v3 M588,1071 v3 M617,1071 v3 M646,1071 v3 M675,1071 v3 M704,1071 v3 M733,1071 v3 M762,1071 v3 M791,1071 v3 M820,1071 v3" stroke="#d81818" stroke-width="1.1" vector-effect="non-scaling-stroke"/><g stroke="#fff" stroke-width="1.1" vector-effect="non-scaling-stroke" fill="none"><rect x="481" y="637.5" width="36" height="7"/><path d="M484,641 H514" data-x="5 3"/><rect x="479" y="1082.5" width="32" height="7"/><path d="M482,1086 H509" data-x="5 3"/></g><path d="M482,653.8 H515 M478,1073.9 H512" stroke="#2ee62e" stroke-width="1.1" vector-effect="non-scaling-stroke"/><g fill="none" stroke="#fff" stroke-width="1.1" vector-effect="non-scaling-stroke"><circle cx="482" cy="653.8" r="1.8"/><circle cx="515" cy="653.8" r="1.8"/><circle cx="478" cy="1073.9" r="1.8"/><circle cx="512" cy="1073.9" r="1.8"/></g><rect x="345" y="657.6" width="133.7" height="12.6" fill="#2ab82a" stroke="#ddd" stroke-width="1.1" vector-effect="non-scaling-stroke"/><rect x="517.6" y="657.6" width="43.1" height="12.6" fill="#2ab82a" stroke="#ddd" stroke-width="1.1" vector-effect="non-scaling-stroke"/><use href="#shrub" x="357" y="664"/><use href="#shrub" x="380" y="664"/><use href="#shrub" x="403" y="664"/><use href="#shrub" x="426" y="664"/><use href="#shrub" x="450" y="664"/><use href="#shrub" x="468" y="664"/><use href="#shrub" x="527" y="664"/><use href="#shrub" x="552" y="664"/><rect x="569.5" y="658.5" width="10.8" height="10" fill="none" stroke="#ccc" stroke-width="1.1" vector-effect="non-scaling-stroke"/><g stroke="#fff" stroke-width="1.1" vector-effect="non-scaling-stroke" fill="none"><path d="M176.6,693.7 V655.6 H300.8 V693.7 H294"/><path d="M279,655.6 V670 M279,678 V693.7"/><rect x="176.6" y="697" width="7" height="31.8"/><rect x="176.6" y="731.8" width="126.6" height="180.6"/><path d="M205.9,731.8 V912.4 M176.6,904.4 H205.9"/><path d="M452,984.5 H197.7 V1055.7 H460.5 V984.5"/><path d="M543.7,1056 V769.4 H731.7 V984.2"/><path d="M543.7,984.2 H805.8 V1056 H543.7"/><rect x="763.1" y="740" width="26.9" height="104.6"/><path d="M763.1,775.3 H790 M763.1,810.2 H790"/><rect x="770.6" y="844.6" width="11.9" height="43.4"/><rect x="820" y="683" width="10.4" height="27"/><path d="M767.6,654.7 V669 H811 V654.7 M775,669 V662 M803,669 V662" stroke="#fff" stroke-width="1.1" vector-effect="non-scaling-stroke" fill="none"/><rect x="772" y="655.5" width="10" height="6" fill="#c01818"/><rect x="787" y="655.5" width="10" height="6" fill="#c01818"/><path d="M772,664 l3,2 M797,664 l3,2" stroke="#f0f020" stroke-width="1.1" vector-effect="non-scaling-stroke"/><path d="M776,677 H795" stroke="#fff" stroke-width="1.1" vector-effect="non-scaling-stroke"/><path d="M584,694.3 V658.5 H646.5 V694.3 Z M598.8,658.5 V694.3 M632.5,658.5 V694.3 M598.8,668 H632.5"/></g><g stroke="#f0f020" stroke-width="1.1" vector-effect="non-scaling-stroke" fill="none"><path d="M178,693.7 H232 M240,693.7 H276 M283,693.7 H298"/><path d="M586,694.3 H596 M601,694.3 H630 M635,694.3 H645 M586,658.5 H596 M635,658.5 H645"/><path d="M279,670 q4,4 0,8 M598.8,672 q4,3 0,6 M632.5,672 q-4,3 0,6"/></g><use href="#tree" x="725.7" y="660.7"/><use href="#tree" x="823.8" y="660.7"/><use href="#tree" x="942.4" y="683"/><use href="#tree" x="725.7" y="716"/><use href="#tree" x="819" y="716"/><use href="#tree" x="394.6" y="759.5"/><use href="#tree" x="469.3" y="759.5"/><use href="#tree" x="521.1" y="759.5"/><use href="#tree" x="675" y="759.5"/><use href="#tree" x="725.7" y="759.5"/><use href="#tree" x="818.4" y="759.5"/><use href="#tree" x="394.6" y="802.5"/><use href="#tree" x="469.3" y="802.5"/><use href="#tree" x="521.1" y="802.5"/><use href="#tree" x="818.4" y="802.5"/><use href="#tree" x="394.6" y="845.8"/><use href="#tree" x="469.3" y="845.8"/><use href="#tree" x="521.1" y="845.8"/><use href="#tree" x="818.4" y="845.8"/><use href="#tree" x="394.6" y="888.9"/><use href="#tree" x="469.3" y="888.9"/><use href="#tree" x="521.1" y="888.9"/><use href="#tree" x="818.4" y="888.9"/><use href="#tree" x="394.6" y="932.3"/><use href="#tree" x="469.3" y="932.3"/><use href="#tree" x="521.1" y="932.3"/><use href="#tree" x="818.4" y="932.3"/><use href="#tree" x="189.8" y="975.7"/><use href="#tree" x="240.8" y="975.7"/><use href="#tree" x="292" y="975.7"/><use href="#tree" x="343.3" y="975.7"/><use href="#tree" x="394.6" y="975.7"/><use href="#tree" x="469.3" y="975.7"/><use href="#tree" x="521.1" y="975.7"/><use href="#tree" x="818.4" y="975.7"/><use href="#tree" x="189.8" y="1019"/><use href="#tree" x="469.3" y="1019"/><use href="#tree" x="521.1" y="1019"/><use href="#tree" x="818.4" y="1019"/><use href="#tree" x="189.5" y="1062.5"/><use href="#tree" x="210.9" y="1062.5"/><use href="#tree" x="262.2" y="1062.5"/><use href="#tree" x="313.4" y="1062.5"/><use href="#tree" x="365.3" y="1062.5"/><use href="#tree" x="415.7" y="1062.5"/><use href="#tree" x="469.3" y="1062.5"/><use href="#tree" x="521.1" y="1062.5"/><use href="#tree" x="571.5" y="1062.5"/><use href="#tree" x="623.1" y="1062.5"/><use href="#tree" x="675" y="1062.5"/><use href="#tree" x="725.7" y="1062.5"/><use href="#tree" x="777.2" y="1062.5"/><use href="#tree" x="818.4" y="1062.5"/><use href="#tree" x="108.9" y="1125"/><use href="#tree" x="159.6" y="1125"/><use href="#tree" x="210.9" y="1125"/><use href="#tree" x="262.2" y="1125"/><use href="#tree" x="313.4" y="1125"/><use href="#tree" x="365.3" y="1125"/><use href="#tree" x="415.7" y="1125"/><use href="#tree" x="469.3" y="1125"/><use href="#tree" x="521.1" y="1125"/><use href="#tree" x="571.5" y="1125"/><use href="#tree" x="623.1" y="1125"/><use href="#tree" x="675" y="1125"/><use href="#tree" x="725.7" y="1125"/><use href="#tree" x="777.2" y="1125"/><use href="#tree" x="818.4" y="1125"/><use href="#tree" x="942.4" y="781.8" transform="translate(942.4 781.8) scale(0.7) translate(-942.4 -781.8)"/><g stroke="#2ee62e" stroke-width="1.1" vector-effect="non-scaling-stroke"><path d="M934,836 h16 M934,839 h16 M934,842 h16" data-x="2 1"/></g></g>
<g id="P2m"><g stroke="#fff" fill="none" stroke-width="1.0" vector-effect="non-scaling-stroke"><circle cx="124.5" cy="1235.3" r="20.5" data-x="2 1"/><circle cx="124.5" cy="1235.3" r="18.5" stroke-width="1.0" vector-effect="non-scaling-stroke"/><path d="M96.5,1235.3 H152.5 M124.5,1208.3 V1262.3" stroke-width="1.0" vector-effect="non-scaling-stroke"/><path d="M115.5,1226.3 L133.5,1244.3 M133.5,1226.3 L115.5,1244.3" stroke-width="1.0" vector-effect="non-scaling-stroke"/></g><polygon points="124.5,1211.3 127.5,1232.3 148.5,1235.3 127.5,1238.3 124.5,1259.3 121.5,1238.3 100.5,1235.3 121.5,1232.3" fill="#fff"/><rect x="375.7" y="1219.8" width="25.1" height="24.4" fill="none" stroke="#fff" stroke-width="1.0" vector-effect="non-scaling-stroke"/><rect x="378.7" y="1222.5" width="19" height="19" rx="2.5" fill="none" stroke="#e01818" stroke-width="1.0" vector-effect="non-scaling-stroke"/><path d="M343.7,1237.6 H380.7" stroke="#fff" stroke-width="1.0" vector-effect="non-scaling-stroke"/><path class="pt" d="M344.7,1233.5 H356.7" stroke="#fff" stroke-width='3.2' opacity='0.85' data-y='1.49 0.51 1.04 1.67 0.69 0.66 0.89 0.66 0.78 1.8 1.29 0.48 1.21 0.49 1.26 0.41 1.19 1.58 1.44 0.38 1.15 0.38 1.34 1.61' fill="none"/><path class="pt" d="M344.7,1240.8 H359.7" stroke="#fff" stroke-width='3.2' opacity='0.85' data-y='0.83 0.75 1.02 0.83 0.79 1.47 1.49 0.89 1.32 0.46 1.18 1.48 1.43 0.78 0.68 0.75 1.43 0.9 0.61 3.74 1.41 0.78 1.47 0.78 0.62 1.61' fill="none"/><g stroke="#fff" stroke-width="1.0" vector-effect="non-scaling-stroke" fill="none"><path d="M419.6,1216.4 V1248.6 M408,1219.8 H425.2 M408,1244.2 H425.2"/><path d="M371,1264.5 H405.2 M375.7,1254 V1269.3 M400.8,1254 V1269.3"/></g><path class="pt" d="M415.7,1232 H416.7" stroke="#fff" stroke-width='7' opacity='0.85' data-y='0.66 0.66 1.05 1.52 1.01 0.74 0.92 0.53 0.89 0.81 0.6 1.85' fill="none"/><path class="pt" d="M384.7,1260.5 H390.7" stroke="#fff" stroke-width='3' opacity='0.85' data-y='1.31 0.57 1.35 0.65 1.24 1.96 0.93 0.45 0.71 0.9 1.11 1.51 1.48 0.83 0.65 0.72 0.81 1.61' fill="none"/><path class="pt" d="M396.7,1282.5 H404.7" stroke="#fff" stroke-width='9' opacity='0.85' data-y='0.84 0.48 0.81 0.44 0.85 1.23 1.01 0.48 1.03 0.53 0.8 0.88 1.45 1.73 1.08 0.48 0.82 1.48' fill="none"/><path class="pt" d="M408.7,1282.5 H416.7" stroke="#fff" stroke-width='9' opacity='0.85' data-y='1.49 0.76 1.45 0.67 1.21 1.46 1.24 0.58 0.7 1.94 1.2 0.86 0.9 1.33 0.97 0.75 1.17 0.44 0.73 0.65 0.89 1.64' fill="none"/><path d="M372,1290 H420.7" stroke="#e01818" stroke-width="1.0" vector-effect="non-scaling-stroke"/><rect x="493.1" y="1219.8" width="25.1" height="24.4" fill="none" stroke="#fff" stroke-width="1.0" vector-effect="non-scaling-stroke"/><rect x="496.1" y="1222.5" width="19" height="19" rx="2.5" fill="none" stroke="#e01818" stroke-width="1.0" vector-effect="non-scaling-stroke"/><path d="M461.1,1237.6 H498.1" stroke="#fff" stroke-width="1.0" vector-effect="non-scaling-stroke"/><path class="pt" d="M462.1,1233.5 H474.1" stroke="#fff" stroke-width='3.2' opacity='0.85' data-y='0.62 0.82 1.39 1.54 1.2 0.65 0.65 0.52 1.29 0.85 1.2 1.44 1.13 0.67 1.2 0.76 1.38 4.45' fill="none"/><path class="pt" d="M462.1,1240.8 H477.1" stroke="#fff" stroke-width='3.2' opacity='0.85' data-y='0.64 0.52 0.76 0.59 0.71 1.9 0.65 0.58 0.69 1.74 1.23 0.74 1.16 0.43 0.79 1.72 1.05 0.55 1.3 0.62 0.84 0.5 1.47 1.55 0.94 0.68 1.4 0.78 1.45 1.82' fill="none"/><g stroke="#fff" stroke-width="1.0" vector-effect="non-scaling-stroke" fill="none"><path d="M537,1216.4 V1248.6 M525.4,1219.8 H542.6 M525.4,1244.2 H542.6"/><path d="M488.4,1264.5 H522.6 M493.1,1254 V1269.3 M518.2,1254 V1269.3"/></g><path class="pt" d="M533.1,1232 H534.1" stroke="#fff" stroke-width='7' opacity='0.85' data-y='1.27 0.4 1.14 0.73 1.06 0.43 1.05 1.64 0.82 0.45 1.47 0.8 0.94 0.46 0.66 1.66' fill="none"/><path class="pt" d="M502.1,1260.5 H508.1" stroke="#fff" stroke-width='3' opacity='0.85' data-y='0.68 0.78 0.64 0.84 1.08 0.56 1.45 3.6 1.14 0.46 0.73 0.88 0.98 1.32' fill="none"/><path class="pt" d="M514.1,1282.5 H522.1" stroke="#fff" stroke-width='9' opacity='0.85' data-y='1.31 0.86 0.97 1.14 1.49 0.87 1.06 0.69 1.44 1.56 0.86 0.51 0.7 0.66 1.36 2.18' fill="none"/><path class="pt" d="M526.1,1282.5 H534.1" stroke="#fff" stroke-width='9' opacity='0.85' data-y='1.04 0.83 1.12 0.88 0.81 1.62 0.94 0.37 1.26 0.67 0.79 4.48 1.47 0.49 0.77 2.12' fill="none"/><path d="M489.4,1290 H538.1" stroke="#e01818" stroke-width="1.0" vector-effect="non-scaling-stroke"/><g><rect x="623.8" y="1180.2" width="21" height="78" fill="url(#hatch)"/><rect x="618.8" y="1276.6" width="31" height="41" fill="url(#hatch)"/><rect x="613.5" y="1317.3" width="41" height="10.7" fill="url(#hatch)"/><rect x="608.6" y="1328" width="51.4" height="9.1" fill="url(#hatch)"/><path d="M623.8,1180.2 V1258.3 M644.8,1180.2 V1258.3 M618.8,1276.6 V1317.3 H613.5 V1328 H608.6 V1337 M649.8,1276.6 V1317.3 H654.5 V1328 H660 V1337" stroke="#e01818" stroke-width="1.0" vector-effect="non-scaling-stroke" fill="none"/><rect x="625" y="1259.4" width="19" height="17.2" fill="none" stroke="#e01818" stroke-width="1.0" vector-effect="non-scaling-stroke"/><g stroke="#fff" stroke-width="1.0" vector-effect="non-scaling-stroke" fill="none"><path d="M635.2,1168 V1390"/><path d="M618.2,1180.2 H649.2 M618.2,1221.5 H649.2 M618.2,1224 H649.2 M613.2,1299.4 H655.6 M613.2,1301.6 H655.6"/><rect x="593.3" y="1337.1" width="81.9" height="25.2"/><path d="M675.2,1337.1 H741.8 M645.2,1193 H693.2 M725.2,1189.4 H758.7"/><path d="M711.4,1188.6 V1340.2 M728.5,1186 V1366.8"/><path d="M694.2,1233.5 H714.2"/><path d="M694.2,1258.3 H714.2"/><path d="M694.2,1277.3 H714.2"/><path d="M694.2,1319.2 H714.2"/><path d="M694.2,1328.7 H714.2"/><path d="M588.4,1385.1 H678.2 M593.3,1378 V1390 M635.2,1378 V1390 M675.2,1378 V1390"/><path d="M592.2,1253.9 H675.7" /><path d="M593.2,1248 V1262"/><path d="M603.2,1248 V1262"/><path d="M611.2,1248 V1262"/><path d="M623.2,1248 V1262"/><path d="M632.2,1248 V1262"/><path d="M643.2,1248 V1262"/><path d="M652.2,1248 V1262"/><path d="M663.2,1248 V1262"/><path d="M675.2,1248 V1262"/><path d="M589.2,1206 H618.2 L624.2,1200 M587.2,1228 H611.2 M587.2,1232.4 H624.2 M591.2,1228 l3,4.4 3,-4.4 M675.2,1197.8 H694.2" /><path d="M644.2,1271.8 L656.5,1283.2 H685.2 M618.8,1277 H649.8"/><path d="M687.2,1193 V1198 M680.2,1198 H695.2"/></g><path class="pt" d="M593.2,1201.5 H609.2" stroke="#fff" stroke-width='6' opacity='0.85' data-y='1.11 0.53 1.14 0.71 0.79 0.83 1.04 1.77 1.45 0.39 0.73 0.72 1.27 4.4 1.18 0.65 0.62 1.24 0.97 0.55 1.39 1.52' fill="none"/><path class="pt" d="M591.2,1224.5 H603.2" stroke="#fff" stroke-width='3.5' opacity='0.85' data-y='1.15 0.41 0.67 0.55 1.26 1.64 0.76 0.63 0.64 0.37 0.63 1.65 0.64 0.78 0.83 0.61 0.68 0.52 1.15 3.61 1.16 0.45 1.22 0.8 0.94 2.16' fill="none"/><path class="pt" d="M663.2,1278 H675.2" stroke="#fff" stroke-width='7' opacity='0.85' data-y='0.62 0.79 0.94 0.68 0.76 1.19 1.31 0.47 1.28 0.66 1.16 0.44 0.76 1.42 1.49 0.41 0.77 0.54 1.41 1.61 1.31 0.41 0.65 0.73 0.91 4.57' fill="none"/><path class="pt" d="M735.2,1185.5 H747.2" stroke="#fff" stroke-width='4' opacity='0.85' data-y='0.73 0.51 1.01 0.68 1.5 1.96 0.88 0.53 0.68 0.81 1.03 0.4 1.11 1.8 0.75 0.85 1.43 2.01 0.73 0.53 0.88 0.38 1.3 3.67' fill="none"/><path class="pt" d="M738.2,1355 H748.2" stroke="#fff" stroke-width='3' opacity='0.85' data-y='1.04 0.8 0.78 0.55 0.88 0.52 0.7 1.17 0.96 0.44 1.25 0.61 0.89 1.82 0.96 0.71 0.73 0.73 1.19 0.64 1.27 1.8' fill="none"/><path class="pt" d="M689.2,1200 H694.2" stroke="#fff" stroke-width='4' opacity='0.85' data-y='1.2 0.58 0.78 0.69 1.2 2.01 0.95 0.74 0.82 0.58 0.82 1.74 1.28 0.84 1.13 1.79' fill="none"/><path class="pt" d="M697.7,1211 H699.7" stroke="#fff" stroke-width='6' opacity='0.85' data-y='1.08 0.36 0.62 0.83 0.72 0.63 0.88 1.6 0.84 0.64 1.13 0.57 0.92 1.68' fill="none"/><path class="pt" d="M697.7,1247 H699.7" stroke="#fff" stroke-width='6' opacity='0.85' data-y='1.32 0.9 0.87 0.8 1.3 1.7 0.85 0.74 0.79 0.5 1.41 1.34' fill="none"/><path class="pt" d="M697.7,1270 H699.7" stroke="#fff" stroke-width='6' opacity='0.85' data-y='1.43 0.9 1.15 0.68 1.29 1.83 1.49 0.54 0.8 1.8' fill="none"/><path class="pt" d="M697.7,1300 H699.7" stroke="#fff" stroke-width='6' opacity='0.85' data-y='1.22 0.76 0.69 1.54 1.21 0.57 1.35 1.4 1.15 0.75 0.72 0.87 1.16 1.61' fill="none"/><path class="pt" d="M697.7,1330 H699.7" stroke="#fff" stroke-width='6' opacity='0.85' data-y='1.44 0.61 0.68 2.02 0.89 0.62 1.49 0.55 0.93 0.54 0.69 1.36' fill="none"/><path class="pt" d="M723.2,1272 H726.2" stroke="#fff" stroke-width='10' opacity='0.85' data-y='1.06 0.84 0.71 0.53 1.32 0.45 1.34 1.33 1.08 0.68 0.6 0.7 0.66 4.39' fill="none"/><path class="pt" d="M723.2,1352 H726.2" stroke="#fff" stroke-width='6' opacity='0.85' data-y='1.03 0.86 0.76 0.88 1.25 0.79 0.95 1.69 1.23 0.49 1.5 1.64' fill="none"/><path class="pt" d="M610.2,1378.3 H618.2" stroke="#fff" stroke-width='3.5' opacity='0.85' data-y='1.07 0.45 0.61 0.72 0.83 1.98 1.34 0.74 1.0 0.78 0.93 1.45 1.1 0.73 1.29 0.5 1.48 0.38 0.65 1.57' fill="none"/><path class="pt" d="M650.2,1378.3 H658.2" stroke="#fff" stroke-width='3.5' opacity='0.85' data-y='1.06 0.52 1.22 0.55 1.34 1.46 1.29 0.69 0.76 0.65 0.76 1.64 1.01 0.68 0.63 1.54 0.9 0.6 1.18 0.76 1.32 1.7' fill="none"/><path d="M615.2,1425 H655.7" stroke="#fff" stroke-width="1.0" vector-effect="non-scaling-stroke"/></g><g><rect x="835.2" y="1180.2" width="21" height="78" fill="url(#hatch)"/><rect x="830.2" y="1276.6" width="31" height="41" fill="url(#hatch)"/><rect x="824.9" y="1317.3" width="41" height="10.7" fill="url(#hatch)"/><rect x="820" y="1328" width="51.4" height="9.1" fill="url(#hatch)"/><path d="M835.2,1180.2 V1258.3 M856.2,1180.2 V1258.3 M830.2,1276.6 V1317.3 H824.9 V1328 H820 V1337 M861.2,1276.6 V1317.3 H865.9 V1328 H871.4 V1337" stroke="#e01818" stroke-width="1.0" vector-effect="non-scaling-stroke" fill="none"/><rect x="837" y="1258.3" width="20" height="18.3" fill="none" stroke="#fff" stroke-width="1.0" vector-effect="non-scaling-stroke"/><g stroke="#fff" stroke-width="1.0" vector-effect="non-scaling-stroke" fill="none"><path d="M846.6,1168 V1390"/><path d="M829.6,1180.2 H860.6 M829.6,1221.5 H860.6 M829.6,1224 H860.6 M824.6,1299.4 H867 M824.6,1301.6 H867"/><rect x="804.7" y="1337.1" width="81.9" height="25.2"/><path d="M886.6,1337.1 H953.2 M856.6,1193 H904.6 M936.6,1189.4 H970.1"/><path d="M922.8,1188.6 V1340.2 M939.9,1186 V1366.8"/><path d="M905.6,1233.5 H925.6"/><path d="M905.6,1258.3 H925.6"/><path d="M905.6,1277.3 H925.6"/><path d="M905.6,1319.2 H925.6"/><path d="M905.6,1328.7 H925.6"/><path d="M799.8,1385.1 H889.6 M804.7,1378 V1390 M846.6,1378 V1390 M886.6,1378 V1390"/><path d="M803.6,1253.9 H887.1" /><path d="M804.6,1248 V1262"/><path d="M814.6,1248 V1262"/><path d="M822.6,1248 V1262"/><path d="M834.6,1248 V1262"/><path d="M843.6,1248 V1262"/><path d="M854.6,1248 V1262"/><path d="M863.6,1248 V1262"/><path d="M874.6,1248 V1262"/><path d="M886.6,1248 V1262"/><path d="M800.6,1206 H829.6 L835.6,1200 M798.6,1228 H822.6 M798.6,1232.4 H835.6 M802.6,1228 l3,4.4 3,-4.4 M886.6,1197.8 H905.6" /><path d="M855.6,1271.8 L867.9,1283.2 H896.6 M830.2,1277 H861.2"/><path d="M898.6,1193 V1198 M891.6,1198 H906.6"/></g><path class="pt" d="M804.6,1201.5 H820.6" stroke="#fff" stroke-width='6' opacity='0.85' data-y='1.33 0.56 0.99 0.49 1.18 1.41 0.81 0.64 1.09 1.71 0.95 0.52 1.45 0.47 1.3 0.8 1.37 1.84 0.7 0.56 1.45 0.72 0.68 1.82' fill="none"/><path class="pt" d="M802.6,1224.5 H814.6" stroke="#fff" stroke-width='3.5' opacity='0.85' data-y='0.92 0.72 1.48 0.59 1.2 1.07 1.49 0.68 0.92 1.49 1.44 0.79 0.88 0.76 1.4 0.68 1.24 2.0 1.19 0.88 0.76 0.88 1.06 1.44' fill="none"/><path class="pt" d="M874.6,1278 H886.6" stroke="#fff" stroke-width='7' opacity='0.85' data-y='1.09 0.5 1.16 0.7 1.3 0.62 0.85 1.5 1.22 0.68 0.62 1.49 0.83 0.76 1.29 1.72 1.34 0.67 0.8 1.86' fill="none"/><path class="pt" d="M946.6,1185.5 H958.6" stroke="#fff" stroke-width='4' opacity='0.85' data-y='0.65 0.36 1.39 4.59 0.85 0.89 0.63 0.37 1.11 1.6 1.37 0.45 0.89 0.74 0.83 0.5 0.61 1.11 1.41 0.58 1.22 0.45 1.07 1.28' fill="none"/><path class="pt" d="M949.6,1355 H959.6" stroke="#fff" stroke-width='3' opacity='0.85' data-y='1.45 0.51 0.62 0.41 0.75 1.98 0.79 0.44 1.31 0.63 1.26 1.28 1.25 0.52 0.8 0.36 1.37 0.79 0.89 1.78' fill="none"/><path class="pt" d="M900.6,1200 H905.6" stroke="#fff" stroke-width='4' opacity='0.85' data-y='1.32 0.7 1.14 0.4 0.63 0.82 1.22 1.5 0.88 0.38 0.94 0.55 1.13 2.1' fill="none"/><path class="pt" d="M909.1,1211 H911.1" stroke="#fff" stroke-width='6' opacity='0.85' data-y='1.12 0.79 1.37 0.39 0.73 0.4 0.82 1.44 1.25 0.7 1.28 0.39 1.44 0.78 0.94 1.1' fill="none"/><path class="pt" d="M909.1,1247 H911.1" stroke="#fff" stroke-width='6' opacity='0.85' data-y='1.45 0.41 1.33 0.73 1.25 0.82 1.09 1.18 1.3 0.39 0.83 1.59' fill="none"/><path class="pt" d="M909.1,1270 H911.1" stroke="#fff" stroke-width='6' opacity='0.85' data-y='0.93 0.8 1.09 0.4 0.83 1.63 1.26 0.42 0.9 0.84 1.39 3.4' fill="none"/><path class="pt" d="M909.1,1300 H911.1" stroke="#fff" stroke-width='6' opacity='0.85' data-y='1.24 0.57 1.16 1.56 1.33 0.82 1.41 0.72 0.87 1.35' fill="none"/><path class="pt" d="M909.1,1330 H911.1" stroke="#fff" stroke-width='6' opacity='0.85' data-y='1.36 0.59 0.61 0.73 1.28 1.25 1.42 0.63 1.05 1.62' fill="none"/><path class="pt" d="M934.6,1272 H937.6" stroke="#fff" stroke-width='10' opacity='0.85' data-y='1.26 0.76 1.07 0.62 0.74 1.35 0.85 0.55 1.09 0.45 0.76 1.39 1.47 0.46 0.84 0.89 1.24 0.39 0.77 1.98' fill="none"/><path class="pt" d="M934.6,1352 H937.6" stroke="#fff" stroke-width='6' opacity='0.85' data-y='0.67 0.64 1.48 0.57 0.94 1.66 0.66 0.39 1.3 1.49 1.45 0.4 0.98 0.39 1.23 0.36 1.15 0.99' fill="none"/><path class="pt" d="M821.6,1378.3 H829.6" stroke="#fff" stroke-width='3.5' opacity='0.85' data-y='0.63 0.39 0.85 0.44 0.88 0.68 1.23 1.5 1.16 0.5 0.66 0.48 1.3 0.86 0.98 1.5 1.25 0.7 0.9 0.66 0.78 1.99' fill="none"/><path class="pt" d="M861.6,1378.3 H869.6" stroke="#fff" stroke-width='3.5' opacity='0.85' data-y='1.01 0.84 0.97 0.56 0.91 0.46 0.97 3.44 0.86 0.86 1.14 0.88 1.49 0.76 1.08 1.17' fill="none"/><path d="M826.6,1425 H867.1" stroke="#fff" stroke-width="1.0" vector-effect="non-scaling-stroke"/></g><g stroke="#2ee62e" stroke-width="1.0" vector-effect="non-scaling-stroke" fill="none"><path d="M158,1375.4 H566 M158,1388.6 H566 M158,1642 H566 M158,1654.5 H566"/><circle cx="161.1" cy="1354" r="6"/><path d="M161.1,1360 V1423"/><circle cx="161.1" cy="1667.6" r="6"/><path d="M161.1,1598 V1661.6"/><circle cx="175.7" cy="1354" r="6"/><path d="M175.7,1360 V1423"/><circle cx="175.7" cy="1667.6" r="6"/><path d="M175.7,1598 V1661.6"/><circle cx="202.1" cy="1354" r="6"/><path d="M202.1,1360 V1423"/><circle cx="202.1" cy="1667.6" r="6"/><path d="M202.1,1598 V1661.6"/><circle cx="210.9" cy="1354" r="6"/><path d="M210.9,1360 V1423"/><circle cx="210.9" cy="1667.6" r="6"/><path d="M210.9,1598 V1661.6"/><circle cx="237.3" cy="1354" r="6"/><path d="M237.3,1360 V1423"/><circle cx="237.3" cy="1667.6" r="6"/><path d="M237.3,1598 V1661.6"/><circle cx="246" cy="1354" r="6"/><path d="M246,1360 V1423"/><circle cx="246" cy="1667.6" r="6"/><path d="M246,1598 V1661.6"/><circle cx="272.4" cy="1354" r="6"/><path d="M272.4,1360 V1423"/><circle cx="272.4" cy="1667.6" r="6"/><path d="M272.4,1598 V1661.6"/><circle cx="281.2" cy="1354" r="6"/><path d="M281.2,1360 V1423"/><circle cx="281.2" cy="1667.6" r="6"/><path d="M281.2,1598 V1661.6"/><circle cx="307.6" cy="1354" r="6"/><path d="M307.6,1360 V1423"/><circle cx="307.6" cy="1667.6" r="6"/><path d="M307.6,1598 V1661.6"/><circle cx="316.4" cy="1354" r="6"/><path d="M316.4,1360 V1423"/><circle cx="316.4" cy="1667.6" r="6"/><path d="M316.4,1598 V1661.6"/><circle cx="342.7" cy="1354" r="6"/><path d="M342.7,1360 V1423"/><circle cx="342.7" cy="1667.6" r="6"/><path d="M342.7,1598 V1661.6"/><circle cx="351.5" cy="1354" r="6"/><path d="M351.5,1360 V1423"/><circle cx="351.5" cy="1667.6" r="6"/><path d="M351.5,1598 V1661.6"/><circle cx="383.8" cy="1354" r="6"/><path d="M383.8,1360 V1423"/><circle cx="383.8" cy="1667.6" r="6"/><path d="M383.8,1598 V1661.6"/><circle cx="394.7" cy="1354" r="6"/><path d="M394.7,1360 V1423"/><circle cx="394.7" cy="1667.6" r="6"/><path d="M394.7,1598 V1661.6"/><circle cx="418.8" cy="1354" r="6"/><path d="M418.8,1360 V1423"/><circle cx="418.8" cy="1667.6" r="6"/><path d="M418.8,1598 V1661.6"/><circle cx="429" cy="1354" r="6"/><path d="M429,1360 V1423"/><circle cx="429" cy="1667.6" r="6"/><path d="M429,1598 V1661.6"/><circle cx="454" cy="1354" r="6"/><path d="M454,1360 V1423"/><circle cx="454" cy="1667.6" r="6"/><path d="M454,1598 V1661.6"/><circle cx="464.4" cy="1354" r="6"/><path d="M464.4,1360 V1423"/><circle cx="464.4" cy="1667.6" r="6"/><path d="M464.4,1598 V1661.6"/><circle cx="489.4" cy="1354" r="6"/><path d="M489.4,1360 V1423"/><circle cx="489.4" cy="1667.6" r="6"/><path d="M489.4,1598 V1661.6"/><circle cx="499.4" cy="1354" r="6"/><path d="M499.4,1360 V1423"/><circle cx="499.4" cy="1667.6" r="6"/><path d="M499.4,1598 V1661.6"/><circle cx="512.5" cy="1354" r="6"/><path d="M512.5,1360 V1423"/><circle cx="512.5" cy="1667.6" r="6"/><path d="M512.5,1598 V1661.6"/><circle cx="522.8" cy="1354" r="6"/><path d="M522.8,1360 V1423"/><circle cx="522.8" cy="1667.6" r="6"/><path d="M522.8,1598 V1661.6"/><circle cx="547.8" cy="1354" r="6"/><path d="M547.8,1360 V1423"/><circle cx="547.8" cy="1667.6" r="6"/><path d="M547.8,1598 V1661.6"/><circle cx="562.5" cy="1354" r="6"/><path d="M562.5,1360 V1423"/><circle cx="562.5" cy="1667.6" r="6"/><path d="M562.5,1598 V1661.6"/><circle cx="494.4" cy="1683.2" r="6"/><circle cx="71.7" cy="1439.3" r="6"/><path d="M77.7,1439.3 H145"/><circle cx="71.7" cy="1450.1" r="6"/><path d="M77.7,1450.1 H145"/><circle cx="71.7" cy="1464.8" r="6"/><path d="M77.7,1464.8 H145"/><circle cx="71.7" cy="1557.1" r="6"/><path d="M77.7,1557.1 H145"/><circle cx="71.7" cy="1570.9" r="6"/><path d="M77.7,1570.9 H145"/><circle cx="71.7" cy="1582.6" r="6"/><path d="M77.7,1582.6 H145"/><circle cx="651.4" cy="1439.4" r="6"/><path d="M579,1439.4 H645.4"/><circle cx="651.4" cy="1450.3" r="6"/><path d="M579,1450.3 H645.4"/><circle cx="651.4" cy="1465" r="6"/><path d="M579,1465 H645.4"/><circle cx="651.4" cy="1511.5" r="6"/><path d="M579,1511.5 H645.4"/><circle cx="651.4" cy="1557" r="6"/><path d="M579,1557 H645.4"/><circle cx="651.4" cy="1570.3" r="6"/><path d="M579,1570.3 H645.4"/><circle cx="651.4" cy="1582.3" r="6"/><path d="M579,1582.3 H645.4"/><path d="M95.7,1432 V1592 M108.3,1432 V1592 M625.5,1432 V1592 M637.8,1432 V1592"/></g><g fill="#fff" font-family="Liberation Sans" font-size="8.5" text-anchor="middle"></g><path class="pt" d="M164.4,1383 H172.4" stroke="#fff" stroke-width='4' opacity='0.85' data-y='1.42 0.69 1.25 0.52 1.07 0.67 1.11 1.79 0.67 0.83 0.89 1.92 1.44 0.64 1.31 0.67 0.99 1.65' fill="none"/><path class="pt" d="M164.4,1637.5 H172.4" stroke="#fff" stroke-width='4' opacity='0.85' data-y='1.32 0.55 1.38 0.86 0.79 1.61 0.69 0.38 1.13 0.8 1.06 1.69 1.39 0.52 0.76 0.8 0.89 1.82' fill="none"/><path class="pt" d="M184.9,1383 H192.9" stroke="#fff" stroke-width='4' opacity='0.85' data-y='0.9 0.65 0.85 1.81 0.63 0.61 0.74 0.82 1.1 0.51 0.83 1.64 1.04 0.73 0.9 0.54 0.68 1.65' fill="none"/><path class="pt" d="M184.9,1637.5 H192.9" stroke="#fff" stroke-width='4' opacity='0.85' data-y='0.79 0.75 0.95 1.24 1.42 0.63 0.82 0.87 0.83 1.88 1.21 0.39 0.72 0.62 0.83 0.9 1.37 1.87' fill="none"/><path class="pt" d="M203.6,1383 H209.4" stroke="#fff" stroke-width='4' opacity='0.85' data-y='1.11 0.55 0.86 0.35 1.41 1.7 1.35 0.77 0.97 0.41 0.67 1.22 0.7 0.36 0.65 0.73 1.41 0.86 1.14 1.97' fill="none"/><path class="pt" d="M203.6,1637.5 H209.4" stroke="#fff" stroke-width='4' opacity='0.85' data-y='0.86 0.88 0.76 0.36 0.74 0.56 1.35 1.09 1.3 0.87 0.68 0.82 1.43 1.77 1.21 0.86 1.25 0.6 1.39 1.62' fill="none"/><path class="pt" d="M220.1,1383 H228.1" stroke="#fff" stroke-width='4' opacity='0.85' data-y='1.07 0.86 0.77 0.58 1.07 0.73 0.92 1.39 1.16 0.81 1.15 0.75 0.61 0.52 0.8 1.68 1.5 0.59 1.35 1.41' fill="none"/><path class="pt" d="M220.1,1637.5 H228.1" stroke="#fff" stroke-width='4' opacity='0.85' data-y='0.86 0.75 0.64 0.76 0.69 1.81 0.61 0.64 0.81 0.87 1.05 1.22 1.23 0.66 0.75 0.75 0.82 1.6' fill="none"/><path class="pt" d="M238.8,1383 H244.5" stroke="#fff" stroke-width='4' opacity='0.85' data-y='1.01 0.81 1.16 0.4 1.08 0.54 0.78 1.73 1.36 0.63 1.32 1.73 1.4 0.74 1.19 1.08' fill="none"/><path class="pt" d="M238.8,1637.5 H244.5" stroke="#fff" stroke-width='4' opacity='0.85' data-y='1.48 0.82 1.09 0.85 0.7 1.77 0.66 0.49 0.93 0.41 0.83 0.66 0.71 4.01' fill="none"/><path class="pt" d="M255.2,1383 H263.2" stroke="#fff" stroke-width='4' opacity='0.85' data-y='1.4 0.54 1.34 0.83 0.76 0.62 1.36 3.97 1.1 0.7 0.76 0.67 0.64 1.91' fill="none"/><path class="pt" d="M255.2,1637.5 H263.2" stroke="#fff" stroke-width='4' opacity='0.85' data-y='1.16 0.39 1.17 1.65 0.9 0.6 0.91 0.5 1.49 0.48 1.12 1.56 1.31 0.42 0.7 0.84 1.34 0.87 0.66 1.57' fill="none"/><path class="pt" d="M273.9,1383 H279.7" stroke="#fff" stroke-width='4' opacity='0.85' data-y='0.88 0.4 0.75 0.84 0.63 1.65 0.83 0.89 0.7 0.47 1.06 0.42 1.36 1.5 0.89 0.86 1.45 1.48' fill="none"/><path class="pt" d="M273.9,1637.5 H279.7" stroke="#fff" stroke-width='4' opacity='0.85' data-y='1.23 0.83 0.86 0.59 1.12 0.64 1.45 1.43 1.3 0.48 0.61 0.88 1.42 1.74' fill="none"/><path class="pt" d="M290.4,1383 H298.4" stroke="#fff" stroke-width='4' opacity='0.85' data-y='1.5 0.63 1.31 0.66 1.15 2.13 1.1 0.55 0.61 0.79 0.82 1.48 0.68 0.81 0.67 0.74 1.48 1.85' fill="none"/><path class="pt" d="M290.4,1637.5 H298.4" stroke="#fff" stroke-width='4' opacity='0.85' data-y='0.74 0.77 0.75 0.36 0.99 0.53 1.42 1.55 0.86 0.39 1.35 0.69 0.63 0.85 0.88 4.16' fill="none"/><path class="pt" d="M309.1,1383 H314.9" stroke="#fff" stroke-width='4' opacity='0.85' data-y='0.83 0.6 1.44 0.8 0.61 4.24 1.34 0.74 0.75 1.73 1.38 0.79 0.86 0.44 1.38 0.59 1.42 3.97' fill="none"/><path class="pt" d="M309.1,1637.5 H314.9" stroke="#fff" stroke-width='4' opacity='0.85' data-y='1.34 0.82 1.14 1.46 0.81 0.87 0.75 0.63 1.26 4.35 0.86 0.84 1.26 0.54 0.75 1.38' fill="none"/><path class="pt" d="M325.55,1383 H333.55" stroke="#fff" stroke-width='4' opacity='0.85' data-y='1.06 0.5 1.42 0.47 0.83 1.35 1.38 0.66 0.77 0.62 1.3 1.5 1.1 0.8 0.97 0.87 1.01 1.69' fill="none"/><path class="pt" d="M325.55,1637.5 H333.55" stroke="#fff" stroke-width='4' opacity='0.85' data-y='1.0 0.36 1.37 0.64 1.12 1.5 1.06 0.43 0.72 1.41 1.4 0.4 0.8 0.81 1.26 0.36 1.16 1.39' fill="none"/><path class="pt" d="M344.2,1383 H350" stroke="#fff" stroke-width='4' opacity='0.85' data-y='1.42 0.75 0.8 0.71 1.15 1.45 1.07 0.68 0.86 1.36 0.88 0.86 1.44 4.54' fill="none"/><path class="pt" d="M344.2,1637.5 H350" stroke="#fff" stroke-width='4' opacity='0.85' data-y='0.78 0.49 1.29 1.25 1.33 0.67 0.84 1.79 0.8 0.56 1.37 0.68 1.47 1.76' fill="none"/><path class="pt" d="M363.65,1383 H371.65" stroke="#fff" stroke-width='4' opacity='0.85' data-y='0.89 0.56 1.05 1.17 1.46 0.46 1.09 1.57 0.87 0.5 0.9 0.58 0.92 1.3 1.23 0.82 0.83 0.4 1.2 1.22' fill="none"/><path class="pt" d="M363.65,1637.5 H371.65" stroke="#fff" stroke-width='4' opacity='0.85' data-y='0.71 0.84 0.8 1.57 1.2 0.54 1.39 2.0 1.47 0.83 1.23 0.77 0.69 0.55 0.66 4.2' fill="none"/><path class="pt" d="M385.3,1383 H393.2" stroke="#fff" stroke-width='4' opacity='0.85' data-y='1.02 0.8 1.33 0.6 0.82 1.64 1.48 0.9 1.09 0.45 1.39 1.89 1.28 0.36 0.6 0.67 1.17 0.4 1.21 1.27' fill="none"/><path class="pt" d="M385.3,1637.5 H393.2" stroke="#fff" stroke-width='4' opacity='0.85' data-y='0.7 0.36 0.99 0.69 1.39 1.19 0.66 0.65 0.61 1.76 1.03 0.37 0.81 1.35 1.17 0.85 0.64 1.07' fill="none"/><path class="pt" d="M402.75,1383 H410.75" stroke="#fff" stroke-width='4' opacity='0.85' data-y='1.25 0.51 1.14 3.76 1.36 0.53 0.67 0.49 0.67 1.4 0.67 0.42 1.02 0.59 1.08 2.11' fill="none"/><path class="pt" d="M402.75,1637.5 H410.75" stroke="#fff" stroke-width='4' opacity='0.85' data-y='0.61 0.71 1.24 0.77 0.92 1.05 0.83 0.7 0.67 0.45 0.94 2.2 0.98 0.71 0.83 0.87 0.64 1.69' fill="none"/><path class="pt" d="M420.3,1383 H427.5" stroke="#fff" stroke-width='4' opacity='0.85' data-y='1.29 0.7 1.1 0.38 1.39 1.63 1.04 0.88 0.85 0.38 0.87 1.78 1.38 0.69 0.94 3.66' fill="none"/><path class="pt" d="M420.3,1637.5 H427.5" stroke="#fff" stroke-width='4' opacity='0.85' data-y='1.4 0.71 0.96 3.8 0.63 0.76 1.09 0.4 1.35 1.56 1.12 0.61 0.72 0.81 0.63 1.39' fill="none"/><path class="pt" d="M437.5,1383 H445.5" stroke="#fff" stroke-width='4' opacity='0.85' data-y='0.78 0.81 1.0 3.65 0.79 0.4 0.68 0.89 1.04 2.05 1.29 0.62 0.91 0.53 1.11 0.38 0.78 1.43' fill="none"/><path class="pt" d="M437.5,1637.5 H445.5" stroke="#fff" stroke-width='4' opacity='0.85' data-y='1.44 0.58 1.36 0.73 1.1 1.93 0.89 0.5 1.13 0.88 0.88 2.2 1.06 0.37 0.99 0.35 1.47 1.06' fill="none"/><path class="pt" d="M455.5,1383 H462.9" stroke="#fff" stroke-width='4' opacity='0.85' data-y='1.37 0.55 0.67 1.86 1.31 0.51 1.35 0.51 1.02 0.44 1.24 1.93 0.62 0.48 0.76 0.63 0.84 1.15' fill="none"/><path class="pt" d="M455.5,1637.5 H462.9" stroke="#fff" stroke-width='4' opacity='0.85' data-y='1.29 0.57 1.23 0.6 1.29 2.07 1.14 0.39 1.02 0.72 0.89 1.85 1.25 0.44 1.02 0.69 1.22 1.69' fill="none"/><path class="pt" d="M472.9,1383 H480.9" stroke="#fff" stroke-width='4' opacity='0.85' data-y='1.33 0.87 1.07 0.82 1.27 3.15 1.21 0.56 1.14 0.54 1.22 1.88 0.89 0.64 1.49 0.49 1.3 1.67' fill="none"/><path class="pt" d="M472.9,1637.5 H480.9" stroke="#fff" stroke-width='4' opacity='0.85' data-y='1.48 0.67 1.29 0.86 0.7 1.8 1.07 0.4 1.12 0.73 1.46 0.76 0.86 1.47 1.48 0.45 1.22 1.6' fill="none"/><path class="pt" d="M490.9,1383 H497.9" stroke="#fff" stroke-width='4' opacity='0.85' data-y='1.03 0.46 0.71 2.12 1.41 0.4 0.8 0.47 1.3 0.37 0.81 1.6 0.82 0.62 0.97 3.84' fill="none"/><path class="pt" d="M490.9,1637.5 H497.9" stroke="#fff" stroke-width='4' opacity='0.85' data-y='1.28 0.56 1.21 0.44 0.66 1.49 1.18 0.81 0.82 1.88 1.07 0.56 0.65 0.64 1.14 1.5' fill="none"/><path class="pt" d="M501.95,1383 H509.95" stroke="#fff" stroke-width='4' opacity='0.85' data-y='0.96 0.7 1.28 0.46 1.12 1.39 1.28 0.44 0.92 0.64 1.04 0.77 1.34 1.59 0.71 0.64 1.1 0.5 0.97 1.32' fill="none"/><path class="pt" d="M501.95,1637.5 H509.95" stroke="#fff" stroke-width='4' opacity='0.85' data-y='1.43 0.59 0.6 0.45 1.19 1.96 1.43 0.87 1.25 0.54 1.18 1.54 0.74 0.83 0.65 0.83 1.2 0.63 0.82 1.6' fill="none"/><path class="pt" d="M514,1383 H521.3" stroke="#fff" stroke-width='4' opacity='0.85' data-y='0.83 0.72 0.89 0.55 0.9 0.84 0.86 1.75 0.7 0.86 1.32 0.66 1.32 0.37 1.01 1.8' fill="none"/><path class="pt" d="M514,1637.5 H521.3" stroke="#fff" stroke-width='4' opacity='0.85' data-y='1.19 0.83 1.19 0.41 1.46 0.84 1.18 1.41 1.31 0.54 0.66 0.67 0.91 0.89 1.39 2.09' fill="none"/><path class="pt" d="M531.3,1383 H539.3" stroke="#fff" stroke-width='4' opacity='0.85' data-y='0.95 0.72 0.97 0.6 1.11 1.82 0.78 0.58 1.41 0.89 0.64 1.65 1.15 0.78 1.05 0.54 1.42 1.28' fill="none"/><path class="pt" d="M531.3,1637.5 H539.3" stroke="#fff" stroke-width='4' opacity='0.85' data-y='1.17 0.35 1.07 0.35 1.05 1.88 1.42 0.46 1.15 0.36 0.66 1.5 0.74 0.38 1.36 0.62 1.21 1.68' fill="none"/><path class="pt" d="M551.15,1383 H559.15" stroke="#fff" stroke-width='4' opacity='0.85' data-y='0.97 0.67 0.85 1.62 0.66 0.78 1.25 1.42 0.96 0.46 0.91 2.02 0.75 0.53 1.33 1.27' fill="none"/><path class="pt" d="M551.15,1637.5 H559.15" stroke="#fff" stroke-width='4' opacity='0.85' data-y='0.68 0.38 1.29 0.52 1.5 0.72 0.83 1.58 0.94 0.66 0.74 0.68 1.44 1.77 1.45 0.84 0.62 1.81' fill="none"/><path class="pt" d="M378,1371 H390" stroke="#fff" stroke-width='4' opacity='0.85' data-y='1.4 0.79 0.68 1.88 0.66 0.45 0.65 1.67 0.98 0.64 0.97 0.65 1.14 1.22 0.98 0.39 1.04 0.81 0.81 1.88 1.4 0.73 1.37 0.45 1.01 2.27' fill="none"/><path class="pt" d="M378,1650 H390" stroke="#fff" stroke-width='4' opacity='0.85' data-y='1.47 0.51 1.12 0.5 0.61 1.38 0.77 0.49 1.41 1.93 1.04 0.57 0.72 0.85 1.05 1.37 1.49 0.62 1.25 1.37' fill="none"/><path class="pt" d="M100,1445 H104" stroke="#fff" stroke-width='5' opacity='0.85' data-y='0.94 0.64 1.42 0.8 0.74 0.81 1.09 1.52 0.66 0.69 1.35 0.56 1.42 0.44 0.93 1.56' fill="none"/><path class="pt" d="M628,1445 H632" stroke="#fff" stroke-width='5' opacity='0.85' data-y='1.45 0.79 1.23 0.47 1.45 1.91 1.16 0.82 1.3 1.95' fill="none"/><path class="pt" d="M100,1458 H104" stroke="#fff" stroke-width='5' opacity='0.85' data-y='0.71 0.58 1.18 0.89 1.04 1.59 0.69 0.36 0.68 0.45 1.34 1.57 0.88 0.36 0.89 0.86 0.91 0.57 0.78 1.96' fill="none"/><path class="pt" d="M628,1458 H632" stroke="#fff" stroke-width='5' opacity='0.85' data-y='0.85 0.48 1.09 0.89 1.09 0.86 1.29 1.34 0.9 0.48 0.83 0.53 0.94 1.76' fill="none"/><path class="pt" d="M100,1510 H104" stroke="#fff" stroke-width='5' opacity='0.85' data-y='0.83 0.36 1.36 0.74 1.24 0.75 1.22 1.31 1.41 0.4 1.08 3.52' fill="none"/><path class="pt" d="M628,1510 H632" stroke="#fff" stroke-width='5' opacity='0.85' data-y='1.21 0.37 1.28 0.53 1.28 1.72 0.69 0.68 0.63 0.62 0.65 0.65 1.29 1.66' fill="none"/><path class="pt" d="M100,1564 H104" stroke="#fff" stroke-width='5' opacity='0.85' data-y='1.2 0.41 1.16 0.68 1.07 1.31 1.5 0.44 0.87 0.83 1.04 1.28 0.94 0.49 0.78 0.45 1.01 1.08' fill="none"/><path class="pt" d="M628,1564 H632" stroke="#fff" stroke-width='5' opacity='0.85' data-y='0.8 0.85 1.43 0.72 0.67 1.42 0.99 0.41 1.17 0.45 0.88 0.43 1.2 1.64' fill="none"/><path class="pt" d="M100,1577 H104" stroke="#fff" stroke-width='5' opacity='0.85' data-y='0.92 0.86 1.48 0.61 0.7 0.64 0.65 4.78 0.79 0.56 1.42 0.39 1.38 1.74' fill="none"/><path class="pt" d="M628,1577 H632" stroke="#fff" stroke-width='5' opacity='0.85' data-y='0.85 0.86 1.43 0.51 1.22 1.74 1.25 0.39 1.29 0.68 0.66 0.48 1.49 2.18' fill="none"/><g fill="none" stroke="#f0f020" stroke-width="1.0" vector-effect="non-scaling-stroke"><rect x="156.1" y="1434.5" width="414.5" height="154.5"/><rect x="167" y="1446.3" width="322.4" height="129.3"/><rect x="501" y="1446.3" width="54.6" height="129.3"/><path d="M160,1581.3 H565" stroke-width="1.0" vector-effect="non-scaling-stroke"/></g><path d="M165,1581.3 H565" stroke="#000" stroke-width="1.0" vector-effect="non-scaling-stroke" data-x="0 18 8 16"/><g fill="none" stroke="#fff" stroke-width="1.0" vector-effect="non-scaling-stroke"><path d="M158.6,1584 V1437.5 H567.5 V1584 M160.9,1580 V1440 H565 V1580 M492.5,1440 V1508 M492.5,1514 V1578 M497.8,1440 V1505 M497.8,1517 V1578"/><path d="M353,1583 l8,9 8,-9 8,9 8,-9" stroke-width="1.0" vector-effect="non-scaling-stroke"/></g><path d="M497.8,1505 q8,2 4,8 M497.8,1578 q2,-10 8,-3" stroke="#f0f020" stroke-width="1.0" vector-effect="non-scaling-stroke" fill="none"/><g fill="#fff" font-family="Liberation Sans" font-size="10" ></g><path d="M147.3,1489.7 H199.2 M483.8,1485.3 H530.6" stroke="#e01818" stroke-width="1.0" vector-effect="non-scaling-stroke"/><g fill="#fff" font-family="Liberation Sans" font-size="8" text-anchor="middle"></g><g stroke="#e01818" stroke-width="1.0" vector-effect="non-scaling-stroke"><path d="M139,1539 H151"/><path d="M172.7,1539 H184.7"/><path d="M471.8,1538 H483.8"/><path d="M506.6,1538 H518.6"/><path d="M538.2,1538 H550.2"/><path d="M572.4,1538 H584.4"/><path d="M228,1420 V1430"/><path d="M228,1448 V1458"/><path d="M207,1563 V1573"/><path d="M207,1593 V1603"/></g><path class="pt" d="M334,1692 H366" stroke="#fff" stroke-width='9' opacity='0.85' data-y='1.34 0.69 1.17 0.39 0.88 1.37 1.17 0.7 1.15 1.43 0.82 0.41 0.98 0.71 1.21 2.09 1.3 0.61 1.28 0.48 1.31 0.36 1.28 3.33 0.9 0.77 0.68 0.53 1.19 0.66 0.65 1.47 1.13 0.46 1.06 1.55 0.82 0.78 1.35 1.67' fill="none"/><path class="pt" d="M728,1553 H738" stroke="#fff" stroke-width='5' opacity='0.85' data-y='1.47 0.68 1.29 2.01 0.69 0.88 0.72 0.43 1.23 1.54 0.87 0.72 1.07 0.76 0.62 0.76 0.98 1.78' fill="none"/><path class="pt" d="M722.4,1567.9 H818.6" stroke="#fff" stroke-width='7.5' opacity='0.85' data-y='1.34 0.57 1.01 0.89 1.15 2.15 1.12 0.88 0.76 0.71 1.0 1.42 1.25 0.5 1.29 0.6 1.15 2.08 0.84 0.73 1.3 1.3 0.61 0.42 1.04 0.64 0.77 1.89 1.22 0.55 0.88 1.62 0.86 0.51 1.15 1.74 1.33 0.84 1.45 0.89 0.79 1.72 1.27 0.73 0.68 4.4 1.06 0.5 1.35 0.43 0.68 0.48 1.28 1.59 1.02 0.67 0.9 0.43 1.03 0.77 1.37 2.28 0.9 0.72 0.94 0.72 0.69 1.13 0.88 0.87 1.4 0.52 0.93 1.89 1.15 0.51 1.15 0.51 1.36 0.73 1.32 1.43 1.38 0.82 0.84 1.29 1.16 0.86 0.65 2.11 1.08 0.68 1.11 0.7 1.14 0.69 0.84 2.08' fill="none"/><path class="pt" d="M726,1581.1 H769.9" stroke="#fff" stroke-width='7.5' opacity='0.85' data-y='0.66 0.51 1.02 0.64 1.31 0.63 1.01 1.9 1.34 0.57 0.77 0.85 0.67 1.23 0.98 0.6 1.2 2.07 1.26 0.39 1.03 0.82 0.76 1.35 0.97 0.36 1.39 0.67 0.81 1.39 0.66 0.59 0.89 0.89 1.3 1.96 0.79 0.79 1.22 0.72 1.33 0.79 1.16 1.69 1.13 0.54 0.69 0.84 0.98 1.28 0.85 0.72 1.28 0.83 0.6 1.39' fill="none"/><path class="pt" d="M726,1593 H804" stroke="#fff" stroke-width='7.5' opacity='0.85' data-y='1.16 0.78 0.98 0.83 1.07 0.4 1.17 4.14 1.36 0.74 1.21 0.37 1.24 0.76 0.92 1.72 0.83 0.89 1.21 0.86 0.82 0.82 1.08 1.32 0.77 0.72 1.03 0.42 1.43 1.29 0.78 0.66 1.41 1.49 0.75 0.76 1.25 0.87 0.72 1.86 0.7 0.51 1.08 0.47 0.66 1.77 0.83 0.38 1.41 0.48 1.2 0.49 0.79 1.85 1.23 0.36 0.64 0.47 1.03 1.73 1.41 0.4 0.96 1.34 0.94 0.38 1.02 0.54 1.19 1.17 0.63 0.82 0.72 0.86 0.72 0.64 1.29 1.36 0.85 0.69 1.18 0.65 1.47 1.2 1.25 0.69 1.44 1.77' fill="none"/><path class="pt" d="M726,1606.1 H875.3" stroke="#fff" stroke-width='7.5' opacity='0.85' data-y='0.89 0.83 1.42 0.36 1.46 0.52 0.6 1.85 0.68 0.51 1.48 1.4 1.24 0.78 0.93 0.7 0.7 0.66 1.48 1.17 1.5 0.48 1.33 0.74 1.44 0.5 0.87 1.82 1.04 0.87 0.77 0.83 0.96 1.97 1.48 0.36 0.65 1.68 1.5 0.72 0.96 1.92 1.27 0.5 0.67 0.41 0.97 0.85 0.75 1.45 0.81 0.86 0.93 0.89 0.65 1.78 0.76 0.46 0.96 0.65 1.02 0.6 1.33 1.5 1.22 0.8 1.45 1.23 0.71 0.48 1.0 0.54 1.39 1.76 0.62 0.87 1.28 0.72 0.64 1.87 0.78 0.66 1.34 0.6 1.35 1.15 1.17 0.75 1.33 1.57 0.63 0.53 1.28 0.54 1.22 0.43 0.9 1.84 1.33 0.69 1.11 3.59 1.39 0.87 0.9 0.61 1.39 2.03 0.85 0.8 1.3 3.28 0.82 0.4 1.46 0.49 1.35 1.91 1.29 0.64 1.24 0.52 1.11 0.6 0.93 1.35 1.02 0.39 1.24 0.65 1.15 0.83 1.33 1.98 1.07 0.78 1.09 0.56 1.23 1.81 1.35 0.59 0.87 0.46 0.99 1.38 1.22 0.5 1.21 1.9' fill="none"/><path class="pt" d="M726,1619.3 H814.7" stroke="#fff" stroke-width='7.5' opacity='0.85' data-y='1.35 0.57 0.66 0.43 1.21 1.29 0.79 0.53 1.18 1.63 1.03 0.58 1.06 0.53 0.61 0.84 1.09 1.64 0.84 0.83 1.17 2.04 1.41 0.6 0.87 0.48 0.65 1.49 1.35 0.56 0.62 0.39 0.8 1.47 1.36 0.57 0.87 1.58 1.28 0.88 0.66 1.91 1.18 0.83 1.46 0.59 0.98 0.39 1.32 3.16 1.48 0.55 1.28 0.45 0.64 1.62 0.85 0.37 0.98 0.78 1.27 0.82 0.81 1.09 1.45 0.36 1.41 0.47 1.49 4.5 0.65 0.85 1.09 0.37 1.25 1.32 1.4 0.7 1.45 0.89 1.2 1.69 1.2 0.79 0.87 0.51 1.49 1.27 1.03 0.56 0.98 0.53 0.73 1.35' fill="none"/><path class="pt" d="M726,1631.7 H792.3" stroke="#fff" stroke-width='7.5' opacity='0.85' data-y='1.08 0.75 1.44 1.8 1.29 0.47 1.08 0.62 0.85 1.78 1.41 0.61 1.29 0.53 1.35 0.54 0.99 1.56 1.31 0.52 1.18 0.75 0.63 0.46 0.69 1.55 1.38 0.7 1.03 0.56 1.19 0.85 1.39 1.32 0.78 0.38 1.31 0.48 0.89 4.32 1.3 0.56 1.06 0.73 0.75 1.47 1.15 0.9 0.93 0.8 1.44 0.87 1.14 2.15 1.44 0.37 1.32 0.55 0.76 1.79 1.16 0.77 1.34 0.64 0.68 1.59 1.07 0.59 1.3 0.5 1.31 0.58 1.36 3.53' fill="none"/><path class="pt" d="M726,1643.8 H845" stroke="#fff" stroke-width='7.5' opacity='0.85' data-y='1.1 0.61 1.37 2.08 0.73 0.7 1.23 0.63 1.31 4.19 0.85 0.71 0.66 0.6 1.29 1.23 0.87 0.8 0.64 1.67 0.66 0.77 0.92 1.61 0.71 0.61 1.15 0.39 0.87 1.43 1.04 0.77 1.33 0.46 1.23 1.01 0.91 0.83 1.42 0.51 1.29 2.15 1.09 0.49 0.68 0.7 1.26 1.64 1.33 0.73 1.17 0.44 0.73 0.88 1.37 1.53 0.9 0.48 1.07 0.52 0.88 1.46 1.33 0.58 1.04 0.46 1.06 0.51 0.69 3.74 1.24 0.75 0.94 0.73 0.86 1.14 1.11 0.78 0.76 0.9 1.35 1.85 0.77 0.67 0.69 0.57 0.91 0.77 1.02 1.5 0.82 0.88 0.87 2.1 1.12 0.36 1.36 0.79 1.42 1.98 1.17 0.72 0.91 0.71 0.84 1.87 1.01 0.56 1.15 1.21 0.63 0.88 1.28 0.47 0.64 1.48 1.15 0.38 0.76 1.49 0.66 0.48 0.91 0.45 0.75 1.28' fill="none"/><path class="pt" d="M726,1656.2 H817.3" stroke="#fff" stroke-width='7.5' opacity='0.85' data-y='0.79 0.75 1.21 3.3 1.27 0.47 0.88 2.08 0.74 0.78 1.45 0.71 0.61 1.91 0.83 0.81 1.24 0.5 1.24 4.08 1.48 0.36 0.84 1.27 1.22 0.88 0.85 1.86 0.85 0.43 1.03 0.88 1.11 2.17 1.38 0.69 1.35 0.38 1.19 0.6 1.42 1.16 0.76 0.65 0.99 0.49 0.96 0.41 1.15 1.23 1.41 0.55 0.85 1.65 1.23 0.71 1.41 0.81 1.01 1.09 0.94 0.61 0.78 0.44 1.29 0.62 0.73 1.75 0.68 0.36 1.29 0.52 1.39 0.5 1.37 1.94 1.04 0.54 1.04 2.04 0.88 0.43 0.96 0.66 1.27 1.05 0.96 0.39 1.2 0.53 1.21 1.15 1.38 0.37 1.32 0.39 1.06 1.3' fill="none"/><path class="pt" d="M726,1668.1 H829.2" stroke="#fff" stroke-width='7.5' opacity='0.85' data-y='1.42 0.87 0.76 0.37 1.16 1.99 0.91 0.69 0.73 0.47 0.82 1.72 0.8 0.39 0.85 0.48 1.29 0.69 1.39 1.6 1.36 0.62 1.33 0.37 0.96 0.84 1.17 3.06 1.04 0.87 1.19 0.8 1.24 1.91 1.45 0.67 0.76 0.49 0.78 1.92 1.29 0.79 0.65 0.79 0.63 1.86 1.29 0.67 0.93 0.43 1.34 4.25 1.11 0.5 1.44 0.69 1.25 2.14 1.17 0.49 1.02 0.47 1.38 3.44 1.2 0.86 1.34 0.73 1.19 1.46 1.02 0.62 1.47 3.76 0.77 0.78 0.91 0.78 1.43 1.55 1.42 0.69 0.96 0.86 0.68 1.59 1.23 0.82 1.39 0.36 1.09 1.39 0.79 0.7 1.12 0.83 1.28 1.67 0.7 0.78 1.4 2.05' fill="none"/><path class="pt" d="M726,1681.3 H903" stroke="#fff" stroke-width='7.5' opacity='0.85' data-y='1.15 0.89 1.21 0.64 1.0 1.93 1.06 0.42 1.34 0.72 1.46 1.69 0.76 0.72 1.33 0.37 1.3 1.98 1.01 0.63 1.05 1.4 0.73 0.36 0.8 0.4 0.7 1.73 1.29 0.84 1.48 0.7 1.07 1.33 0.91 0.83 0.6 0.83 0.62 0.86 0.95 1.22 1.14 0.89 1.28 0.46 0.92 1.97 0.7 0.6 1.21 0.5 1.49 2.26 1.43 0.86 1.39 0.8 1.37 0.74 0.86 1.69 0.75 0.53 1.05 0.6 1.46 1.82 1.1 0.8 0.9 0.86 1.39 1.8 0.83 0.86 0.97 3.63 0.69 0.38 0.77 0.72 0.89 1.31 0.88 0.82 0.79 1.46 1.02 0.87 1.31 0.66 1.09 0.61 1.41 1.36 1.21 0.5 1.04 1.75 1.29 0.37 0.93 1.67 0.75 0.41 1.13 1.58 0.99 0.75 1.19 1.53 0.71 0.72 0.75 0.72 1.48 0.67 1.14 1.21 0.69 0.88 1.21 3.9 1.46 0.85 1.25 1.65 1.17 0.68 0.8 1.91 0.61 0.4 1.43 0.49 1.33 3.76 1.45 0.63 1.08 1.85 1.31 0.68 1.08 0.81 1.49 0.4 1.24 1.36 1.33 0.63 1.05 0.58 0.99 0.44 0.88 1.55 0.69 0.37 0.65 0.64 1.34 1.4 1.15 0.66 1.19 0.37 0.8 0.76 0.67 1.95 1.01 0.44 1.12 0.41 1.44 1.65' fill="none"/><path class="pt" d="M726,1693.9 H769" stroke="#fff" stroke-width='7.5' opacity='0.85' data-y='1.42 0.52 0.72 1.51 1.24 0.62 1.06 1.49 1.1 0.87 0.91 1.81 1.18 0.78 1.01 0.55 1.06 1.62 0.74 0.86 1.48 0.7 1.08 0.82 0.85 4.46 1.4 0.52 1.28 0.81 0.81 4.1 1.09 0.86 0.9 0.56 0.81 1.96 1.14 0.62 1.48 0.7 0.69 1.28' fill="none"/><path class="pt" d="M787,1581.1 H811" stroke="#fff" stroke-width='5' opacity='0.85' data-y='1.02 0.42 0.86 0.52 1.12 1.6 1.08 0.63 1.39 0.83 1.04 1.21 1.36 0.59 1.36 1.62 0.97 0.62 0.87 0.51 1.15 1.8 1.3 0.51 0.99 0.81 1.49 1.44 0.88 0.67 1.37 0.38 1.09 1.92' fill="none"/></g>
<g id="P2am"><g stroke="#fff" fill="none" stroke-width="1.0" vector-effect="non-scaling-stroke"><circle cx="124.5" cy="1235.3" r="20.5" data-x="2 1"/><circle cx="124.5" cy="1235.3" r="18.5" stroke-width="1.0" vector-effect="non-scaling-stroke"/><path d="M96.5,1235.3 H152.5 M124.5,1208.3 V1262.3" stroke-width="1.0" vector-effect="non-scaling-stroke"/><path d="M115.5,1226.3 L133.5,1244.3 M133.5,1226.3 L115.5,1244.3" stroke-width="1.0" vector-effect="non-scaling-stroke"/></g><polygon points="124.5,1211.3 127.5,1232.3 148.5,1235.3 127.5,1238.3 124.5,1259.3 121.5,1238.3 100.5,1235.3 121.5,1232.3" fill="#fff"/><rect x="375.7" y="1219.8" width="25.1" height="24.4" fill="none" stroke="#fff" stroke-width="1.0" vector-effect="non-scaling-stroke"/><rect x="378.7" y="1222.5" width="19" height="19" rx="2.5" fill="none" stroke="#e01818" stroke-width="1.0" vector-effect="non-scaling-stroke"/><path d="M343.7,1237.6 H380.7" stroke="#fff" stroke-width="1.0" vector-effect="non-scaling-stroke"/><path class="pt" d="M344.7,1233.5 H356.7" stroke="#fff" stroke-width='3.2' opacity='0.85' data-y='1.49 0.51 1.04 1.67 0.69 0.66 0.89 0.66 0.78 1.8 1.29 0.48 1.21 0.49 1.26 0.41 1.19 1.58 1.44 0.38 1.15 0.38 1.34 1.61' fill="none"/><path class="pt" d="M344.7,1240.8 H359.7" stroke="#fff" stroke-width='3.2' opacity='0.85' data-y='0.83 0.75 1.02 0.83 0.79 1.47 1.49 0.89 1.32 0.46 1.18 1.48 1.43 0.78 0.68 0.75 1.43 0.9 0.61 3.74 1.41 0.78 1.47 0.78 0.62 1.61' fill="none"/><g stroke="#fff" stroke-width="1.0" vector-effect="non-scaling-stroke" fill="none"><path d="M419.6,1216.4 V1248.6 M408,1219.8 H425.2 M408,1244.2 H425.2"/><path d="M371,1264.5 H405.2 M375.7,1254 V1269.3 M400.8,1254 V1269.3"/></g><path class="pt" d="M415.7,1232 H416.7" stroke="#fff" stroke-width='7' opacity='0.85' data-y='0.66 0.66 1.05 1.52 1.01 0.74 0.92 0.53 0.89 0.81 0.6 1.85' fill="none"/><path class="pt" d="M384.7,1260.5 H390.7" stroke="#fff" stroke-width='3' opacity='0.85' data-y='1.31 0.57 1.35 0.65 1.24 1.96 0.93 0.45 0.71 0.9 1.11 1.51 1.48 0.83 0.65 0.72 0.81 1.61' fill="none"/><path class="pt" d="M396.7,1282.5 H404.7" stroke="#fff" stroke-width='9' opacity='0.85' data-y='0.84 0.48 0.81 0.44 0.85 1.23 1.01 0.48 1.03 0.53 0.8 0.88 1.45 1.73 1.08 0.48 0.82 1.48' fill="none"/><path class="pt" d="M408.7,1282.5 H416.7" stroke="#fff" stroke-width='9' opacity='0.85' data-y='1.49 0.76 1.45 0.67 1.21 1.46 1.24 0.58 0.7 1.94 1.2 0.86 0.9 1.33 0.97 0.75 1.17 0.44 0.73 0.65 0.89 1.64' fill="none"/><path d="M372,1290 H420.7" stroke="#e01818" stroke-width="1.0" vector-effect="non-scaling-stroke"/><rect x="493.1" y="1219.8" width="25.1" height="24.4" fill="none" stroke="#fff" stroke-width="1.0" vector-effect="non-scaling-stroke"/><rect x="496.1" y="1222.5" width="19" height="19" rx="2.5" fill="none" stroke="#e01818" stroke-width="1.0" vector-effect="non-scaling-stroke"/><path d="M461.1,1237.6 H498.1" stroke="#fff" stroke-width="1.0" vector-effect="non-scaling-stroke"/><path class="pt" d="M462.1,1233.5 H474.1" stroke="#fff" stroke-width='3.2' opacity='0.85' data-y='0.62 0.82 1.39 1.54 1.2 0.65 0.65 0.52 1.29 0.85 1.2 1.44 1.13 0.67 1.2 0.76 1.38 4.45' fill="none"/><path class="pt" d="M462.1,1240.8 H477.1" stroke="#fff" stroke-width='3.2' opacity='0.85' data-y='0.64 0.52 0.76 0.59 0.71 1.9 0.65 0.58 0.69 1.74 1.23 0.74 1.16 0.43 0.79 1.72 1.05 0.55 1.3 0.62 0.84 0.5 1.47 1.55 0.94 0.68 1.4 0.78 1.45 1.82' fill="none"/><g stroke="#fff" stroke-width="1.0" vector-effect="non-scaling-stroke" fill="none"><path d="M537,1216.4 V1248.6 M525.4,1219.8 H542.6 M525.4,1244.2 H542.6"/><path d="M488.4,1264.5 H522.6 M493.1,1254 V1269.3 M518.2,1254 V1269.3"/></g><path class="pt" d="M533.1,1232 H534.1" stroke="#fff" stroke-width='7' opacity='0.85' data-y='1.27 0.4 1.14 0.73 1.06 0.43 1.05 1.64 0.82 0.45 1.47 0.8 0.94 0.46 0.66 1.66' fill="none"/><path class="pt" d="M502.1,1260.5 H508.1" stroke="#fff" stroke-width='3' opacity='0.85' data-y='0.68 0.78 0.64 0.84 1.08 0.56 1.45 3.6 1.14 0.46 0.73 0.88 0.98 1.32' fill="none"/><path class="pt" d="M514.1,1282.5 H522.1" stroke="#fff" stroke-width='9' opacity='0.85' data-y='1.31 0.86 0.97 1.14 1.49 0.87 1.06 0.69 1.44 1.56 0.86 0.51 0.7 0.66 1.36 2.18' fill="none"/><path class="pt" d="M526.1,1282.5 H534.1" stroke="#fff" stroke-width='9' opacity='0.85' data-y='1.04 0.83 1.12 0.88 0.81 1.62 0.94 0.37 1.26 0.67 0.79 4.48 1.47 0.49 0.77 2.12' fill="none"/><path d="M489.4,1290 H538.1" stroke="#e01818" stroke-width="1.0" vector-effect="non-scaling-stroke"/><g><rect x="623.8" y="1180.2" width="21" height="78" fill="url(#hatch)"/><rect x="618.8" y="1276.6" width="31" height="41" fill="url(#hatch)"/><rect x="613.5" y="1317.3" width="41" height="10.7" fill="url(#hatch)"/><rect x="608.6" y="1328" width="51.4" height="9.1" fill="url(#hatch)"/><path d="M623.8,1180.2 V1258.3 M644.8,1180.2 V1258.3 M618.8,1276.6 V1317.3 H613.5 V1328 H608.6 V1337 M649.8,1276.6 V1317.3 H654.5 V1328 H660 V1337" stroke="#e01818" stroke-width="1.0" vector-effect="non-scaling-stroke" fill="none"/><rect x="625" y="1259.4" width="19" height="17.2" fill="none" stroke="#e01818" stroke-width="1.0" vector-effect="non-scaling-stroke"/><g stroke="#fff" stroke-width="1.0" vector-effect="non-scaling-stroke" fill="none"><path d="M635.2,1168 V1390"/><path d="M618.2,1180.2 H649.2 M618.2,1221.5 H649.2 M618.2,1224 H649.2 M613.2,1299.4 H655.6 M613.2,1301.6 H655.6"/><rect x="593.3" y="1337.1" width="81.9" height="25.2"/><path d="M675.2,1337.1 H741.8 M645.2,1193 H693.2 M725.2,1189.4 H758.7"/><path d="M711.4,1188.6 V1340.2 M728.5,1186 V1366.8"/><path d="M694.2,1233.5 H714.2"/><path d="M694.2,1258.3 H714.2"/><path d="M694.2,1277.3 H714.2"/><path d="M694.2,1319.2 H714.2"/><path d="M694.2,1328.7 H714.2"/><path d="M588.4,1385.1 H678.2 M593.3,1378 V1390 M635.2,1378 V1390 M675.2,1378 V1390"/><path d="M592.2,1253.9 H675.7" /><path d="M593.2,1248 V1262"/><path d="M603.2,1248 V1262"/><path d="M611.2,1248 V1262"/><path d="M623.2,1248 V1262"/><path d="M632.2,1248 V1262"/><path d="M643.2,1248 V1262"/><path d="M652.2,1248 V1262"/><path d="M663.2,1248 V1262"/><path d="M675.2,1248 V1262"/><path d="M589.2,1206 H618.2 L624.2,1200 M587.2,1228 H611.2 M587.2,1232.4 H624.2 M591.2,1228 l3,4.4 3,-4.4 M675.2,1197.8 H694.2" /><path d="M644.2,1271.8 L656.5,1283.2 H685.2 M618.8,1277 H649.8"/><path d="M687.2,1193 V1198 M680.2,1198 H695.2"/></g><path class="pt" d="M593.2,1201.5 H609.2" stroke="#fff" stroke-width='6' opacity='0.85' data-y='1.11 0.53 1.14 0.71 0.79 0.83 1.04 1.77 1.45 0.39 0.73 0.72 1.27 4.4 1.18 0.65 0.62 1.24 0.97 0.55 1.39 1.52' fill="none"/><path class="pt" d="M591.2,1224.5 H603.2" stroke="#fff" stroke-width='3.5' opacity='0.85' data-y='1.15 0.41 0.67 0.55 1.26 1.64 0.76 0.63 0.64 0.37 0.63 1.65 0.64 0.78 0.83 0.61 0.68 0.52 1.15 3.61 1.16 0.45 1.22 0.8 0.94 2.16' fill="none"/><path class="pt" d="M663.2,1278 H675.2" stroke="#fff" stroke-width='7' opacity='0.85' data-y='0.62 0.79 0.94 0.68 0.76 1.19 1.31 0.47 1.28 0.66 1.16 0.44 0.76 1.42 1.49 0.41 0.77 0.54 1.41 1.61 1.31 0.41 0.65 0.73 0.91 4.57' fill="none"/><path class="pt" d="M735.2,1185.5 H747.2" stroke="#fff" stroke-width='4' opacity='0.85' data-y='0.73 0.51 1.01 0.68 1.5 1.96 0.88 0.53 0.68 0.81 1.03 0.4 1.11 1.8 0.75 0.85 1.43 2.01 0.73 0.53 0.88 0.38 1.3 3.67' fill="none"/><path class="pt" d="M738.2,1355 H748.2" stroke="#fff" stroke-width='3' opacity='0.85' data-y='1.04 0.8 0.78 0.55 0.88 0.52 0.7 1.17 0.96 0.44 1.25 0.61 0.89 1.82 0.96 0.71 0.73 0.73 1.19 0.64 1.27 1.8' fill="none"/><path class="pt" d="M689.2,1200 H694.2" stroke="#fff" stroke-width='4' opacity='0.85' data-y='1.2 0.58 0.78 0.69 1.2 2.01 0.95 0.74 0.82 0.58 0.82 1.74 1.28 0.84 1.13 1.79' fill="none"/><path class="pt" d="M697.7,1211 H699.7" stroke="#fff" stroke-width='6' opacity='0.85' data-y='1.08 0.36 0.62 0.83 0.72 0.63 0.88 1.6 0.84 0.64 1.13 0.57 0.92 1.68' fill="none"/><path class="pt" d="M697.7,1247 H699.7" stroke="#fff" stroke-width='6' opacity='0.85' data-y='1.32 0.9 0.87 0.8 1.3 1.7 0.85 0.74 0.79 0.5 1.41 1.34' fill="none"/><path class="pt" d="M697.7,1270 H699.7" stroke="#fff" stroke-width='6' opacity='0.85' data-y='1.43 0.9 1.15 0.68 1.29 1.83 1.49 0.54 0.8 1.8' fill="none"/><path class="pt" d="M697.7,1300 H699.7" stroke="#fff" stroke-width='6' opacity='0.85' data-y='1.22 0.76 0.69 1.54 1.21 0.57 1.35 1.4 1.15 0.75 0.72 0.87 1.16 1.61' fill="none"/><path class="pt" d="M697.7,1330 H699.7" stroke="#fff" stroke-width='6' opacity='0.85' data-y='1.44 0.61 0.68 2.02 0.89 0.62 1.49 0.55 0.93 0.54 0.69 1.36' fill="none"/><path class="pt" d="M723.2,1272 H726.2" stroke="#fff" stroke-width='10' opacity='0.85' data-y='1.06 0.84 0.71 0.53 1.32 0.45 1.34 1.33 1.08 0.68 0.6 0.7 0.66 4.39' fill="none"/><path class="pt" d="M723.2,1352 H726.2" stroke="#fff" stroke-width='6' opacity='0.85' data-y='1.03 0.86 0.76 0.88 1.25 0.79 0.95 1.69 1.23 0.49 1.5 1.64' fill="none"/><path class="pt" d="M610.2,1378.3 H618.2" stroke="#fff" stroke-width='3.5' opacity='0.85' data-y='1.07 0.45 0.61 0.72 0.83 1.98 1.34 0.74 1.0 0.78 0.93 1.45 1.1 0.73 1.29 0.5 1.48 0.38 0.65 1.57' fill="none"/><path class="pt" d="M650.2,1378.3 H658.2" stroke="#fff" stroke-width='3.5' opacity='0.85' data-y='1.06 0.52 1.22 0.55 1.34 1.46 1.29 0.69 0.76 0.65 0.76 1.64 1.01 0.68 0.63 1.54 0.9 0.6 1.18 0.76 1.32 1.7' fill="none"/><path d="M615.2,1425 H655.7" stroke="#fff" stroke-width="1.0" vector-effect="non-scaling-stroke"/></g><g><rect x="835.2" y="1180.2" width="21" height="78" fill="url(#hatch)"/><rect x="830.2" y="1276.6" width="31" height="41" fill="url(#hatch)"/><rect x="824.9" y="1317.3" width="41" height="10.7" fill="url(#hatch)"/><rect x="820" y="1328" width="51.4" height="9.1" fill="url(#hatch)"/><path d="M835.2,1180.2 V1258.3 M856.2,1180.2 V1258.3 M830.2,1276.6 V1317.3 H824.9 V1328 H820 V1337 M861.2,1276.6 V1317.3 H865.9 V1328 H871.4 V1337" stroke="#e01818" stroke-width="1.0" vector-effect="non-scaling-stroke" fill="none"/><rect x="837" y="1258.3" width="20" height="18.3" fill="none" stroke="#fff" stroke-width="1.0" vector-effect="non-scaling-stroke"/><g stroke="#fff" stroke-width="1.0" vector-effect="non-scaling-stroke" fill="none"><path d="M846.6,1168 V1390"/><path d="M829.6,1180.2 H860.6 M829.6,1221.5 H860.6 M829.6,1224 H860.6 M824.6,1299.4 H867 M824.6,1301.6 H867"/><rect x="804.7" y="1337.1" width="81.9" height="25.2"/><path d="M886.6,1337.1 H953.2 M856.6,1193 H904.6 M936.6,1189.4 H970.1"/><path d="M922.8,1188.6 V1340.2 M939.9,1186 V1366.8"/><path d="M905.6,1233.5 H925.6"/><path d="M905.6,1258.3 H925.6"/><path d="M905.6,1277.3 H925.6"/><path d="M905.6,1319.2 H925.6"/><path d="M905.6,1328.7 H925.6"/><path d="M799.8,1385.1 H889.6 M804.7,1378 V1390 M846.6,1378 V1390 M886.6,1378 V1390"/><path d="M803.6,1253.9 H887.1" /><path d="M804.6,1248 V1262"/><path d="M814.6,1248 V1262"/><path d="M822.6,1248 V1262"/><path d="M834.6,1248 V1262"/><path d="M843.6,1248 V1262"/><path d="M854.6,1248 V1262"/><path d="M863.6,1248 V1262"/><path d="M874.6,1248 V1262"/><path d="M886.6,1248 V1262"/><path d="M800.6,1206 H829.6 L835.6,1200 M798.6,1228 H822.6 M798.6,1232.4 H835.6 M802.6,1228 l3,4.4 3,-4.4 M886.6,1197.8 H905.6" /><path d="M855.6,1271.8 L867.9,1283.2 H896.6 M830.2,1277 H861.2"/><path d="M898.6,1193 V1198 M891.6,1198 H906.6"/></g><path class="pt" d="M804.6,1201.5 H820.6" stroke="#fff" stroke-width='6' opacity='0.85' data-y='1.33 0.56 0.99 0.49 1.18 1.41 0.81 0.64 1.09 1.71 0.95 0.52 1.45 0.47 1.3 0.8 1.37 1.84 0.7 0.56 1.45 0.72 0.68 1.82' fill="none"/><path class="pt" d="M802.6,1224.5 H814.6" stroke="#fff" stroke-width='3.5' opacity='0.85' data-y='0.92 0.72 1.48 0.59 1.2 1.07 1.49 0.68 0.92 1.49 1.44 0.79 0.88 0.76 1.4 0.68 1.24 2.0 1.19 0.88 0.76 0.88 1.06 1.44' fill="none"/><path class="pt" d="M874.6,1278 H886.6" stroke="#fff" stroke-width='7' opacity='0.85' data-y='1.09 0.5 1.16 0.7 1.3 0.62 0.85 1.5 1.22 0.68 0.62 1.49 0.83 0.76 1.29 1.72 1.34 0.67 0.8 1.86' fill="none"/><path class="pt" d="M946.6,1185.5 H958.6" stroke="#fff" stroke-width='4' opacity='0.85' data-y='0.65 0.36 1.39 4.59 0.85 0.89 0.63 0.37 1.11 1.6 1.37 0.45 0.89 0.74 0.83 0.5 0.61 1.11 1.41 0.58 1.22 0.45 1.07 1.28' fill="none"/><path class="pt" d="M949.6,1355 H959.6" stroke="#fff" stroke-width='3' opacity='0.85' data-y='1.45 0.51 0.62 0.41 0.75 1.98 0.79 0.44 1.31 0.63 1.26 1.28 1.25 0.52 0.8 0.36 1.37 0.79 0.89 1.78' fill="none"/><path class="pt" d="M900.6,1200 H905.6" stroke="#fff" stroke-width='4' opacity='0.85' data-y='1.32 0.7 1.14 0.4 0.63 0.82 1.22 1.5 0.88 0.38 0.94 0.55 1.13 2.1' fill="none"/><path class="pt" d="M909.1,1211 H911.1" stroke="#fff" stroke-width='6' opacity='0.85' data-y='1.12 0.79 1.37 0.39 0.73 0.4 0.82 1.44 1.25 0.7 1.28 0.39 1.44 0.78 0.94 1.1' fill="none"/><path class="pt" d="M909.1,1247 H911.1" stroke="#fff" stroke-width='6' opacity='0.85' data-y='1.45 0.41 1.33 0.73 1.25 0.82 1.09 1.18 1.3 0.39 0.83 1.59' fill="none"/><path class="pt" d="M909.1,1270 H911.1" stroke="#fff" stroke-width='6' opacity='0.85' data-y='0.93 0.8 1.09 0.4 0.83 1.63 1.26 0.42 0.9 0.84 1.39 3.4' fill="none"/><path class="pt" d="M909.1,1300 H911.1" stroke="#fff" stroke-width='6' opacity='0.85' data-y='1.24 0.57 1.16 1.56 1.33 0.82 1.41 0.72 0.87 1.35' fill="none"/><path class="pt" d="M909.1,1330 H911.1" stroke="#fff" stroke-width='6' opacity='0.85' data-y='1.36 0.59 0.61 0.73 1.28 1.25 1.42 0.63 1.05 1.62' fill="none"/><path class="pt" d="M934.6,1272 H937.6" stroke="#fff" stroke-width='10' opacity='0.85' data-y='1.26 0.76 1.07 0.62 0.74 1.35 0.85 0.55 1.09 0.45 0.76 1.39 1.47 0.46 0.84 0.89 1.24 0.39 0.77 1.98' fill="none"/><path class="pt" d="M934.6,1352 H937.6" stroke="#fff" stroke-width='6' opacity='0.85' data-y='0.67 0.64 1.48 0.57 0.94 1.66 0.66 0.39 1.3 1.49 1.45 0.4 0.98 0.39 1.23 0.36 1.15 0.99' fill="none"/><path class="pt" d="M821.6,1378.3 H829.6" stroke="#fff" stroke-width='3.5' opacity='0.85' data-y='0.63 0.39 0.85 0.44 0.88 0.68 1.23 1.5 1.16 0.5 0.66 0.48 1.3 0.86 0.98 1.5 1.25 0.7 0.9 0.66 0.78 1.99' fill="none"/><path class="pt" d="M861.6,1378.3 H869.6" stroke="#fff" stroke-width='3.5' opacity='0.85' data-y='1.01 0.84 0.97 0.56 0.91 0.46 0.97 3.44 0.86 0.86 1.14 0.88 1.49 0.76 1.08 1.17' fill="none"/><path d="M826.6,1425 H867.1" stroke="#fff" stroke-width="1.0" vector-effect="non-scaling-stroke"/></g><path class="pt" d="M728,1553 H738" stroke="#fff" stroke-width='5' opacity='0.85' data-y='1.47 0.68 1.29 2.01 0.69 0.88 0.72 0.43 1.23 1.54 0.87 0.72 1.07 0.76 0.62 0.76 0.98 1.78' fill="none"/><path class="pt" d="M722.4,1567.9 H818.6" stroke="#fff" stroke-width='7.5' opacity='0.85' data-y='1.34 0.57 1.01 0.89 1.15 2.15 1.12 0.88 0.76 0.71 1.0 1.42 1.25 0.5 1.29 0.6 1.15 2.08 0.84 0.73 1.3 1.3 0.61 0.42 1.04 0.64 0.77 1.89 1.22 0.55 0.88 1.62 0.86 0.51 1.15 1.74 1.33 0.84 1.45 0.89 0.79 1.72 1.27 0.73 0.68 4.4 1.06 0.5 1.35 0.43 0.68 0.48 1.28 1.59 1.02 0.67 0.9 0.43 1.03 0.77 1.37 2.28 0.9 0.72 0.94 0.72 0.69 1.13 0.88 0.87 1.4 0.52 0.93 1.89 1.15 0.51 1.15 0.51 1.36 0.73 1.32 1.43 1.38 0.82 0.84 1.29 1.16 0.86 0.65 2.11 1.08 0.68 1.11 0.7 1.14 0.69 0.84 2.08' fill="none"/><path class="pt" d="M726,1581.1 H769.9" stroke="#fff" stroke-width='7.5' opacity='0.85' data-y='0.66 0.51 1.02 0.64 1.31 0.63 1.01 1.9 1.34 0.57 0.77 0.85 0.67 1.23 0.98 0.6 1.2 2.07 1.26 0.39 1.03 0.82 0.76 1.35 0.97 0.36 1.39 0.67 0.81 1.39 0.66 0.59 0.89 0.89 1.3 1.96 0.79 0.79 1.22 0.72 1.33 0.79 1.16 1.69 1.13 0.54 0.69 0.84 0.98 1.28 0.85 0.72 1.28 0.83 0.6 1.39' fill="none"/><path class="pt" d="M726,1593 H804" stroke="#fff" stroke-width='7.5' opacity='0.85' data-y='1.16 0.78 0.98 0.83 1.07 0.4 1.17 4.14 1.36 0.74 1.21 0.37 1.24 0.76 0.92 1.72 0.83 0.89 1.21 0.86 0.82 0.82 1.08 1.32 0.77 0.72 1.03 0.42 1.43 1.29 0.78 0.66 1.41 1.49 0.75 0.76 1.25 0.87 0.72 1.86 0.7 0.51 1.08 0.47 0.66 1.77 0.83 0.38 1.41 0.48 1.2 0.49 0.79 1.85 1.23 0.36 0.64 0.47 1.03 1.73 1.41 0.4 0.96 1.34 0.94 0.38 1.02 0.54 1.19 1.17 0.63 0.82 0.72 0.86 0.72 0.64 1.29 1.36 0.85 0.69 1.18 0.65 1.47 1.2 1.25 0.69 1.44 1.77' fill="none"/><path class="pt" d="M726,1606.1 H875.3" stroke="#fff" stroke-width='7.5' opacity='0.85' data-y='0.89 0.83 1.42 0.36 1.46 0.52 0.6 1.85 0.68 0.51 1.48 1.4 1.24 0.78 0.93 0.7 0.7 0.66 1.48 1.17 1.5 0.48 1.33 0.74 1.44 0.5 0.87 1.82 1.04 0.87 0.77 0.83 0.96 1.97 1.48 0.36 0.65 1.68 1.5 0.72 0.96 1.92 1.27 0.5 0.67 0.41 0.97 0.85 0.75 1.45 0.81 0.86 0.93 0.89 0.65 1.78 0.76 0.46 0.96 0.65 1.02 0.6 1.33 1.5 1.22 0.8 1.45 1.23 0.71 0.48 1.0 0.54 1.39 1.76 0.62 0.87 1.28 0.72 0.64 1.87 0.78 0.66 1.34 0.6 1.35 1.15 1.17 0.75 1.33 1.57 0.63 0.53 1.28 0.54 1.22 0.43 0.9 1.84 1.33 0.69 1.11 3.59 1.39 0.87 0.9 0.61 1.39 2.03 0.85 0.8 1.3 3.28 0.82 0.4 1.46 0.49 1.35 1.91 1.29 0.64 1.24 0.52 1.11 0.6 0.93 1.35 1.02 0.39 1.24 0.65 1.15 0.83 1.33 1.98 1.07 0.78 1.09 0.56 1.23 1.81 1.35 0.59 0.87 0.46 0.99 1.38 1.22 0.5 1.21 1.9' fill="none"/><path class="pt" d="M726,1619.3 H814.7" stroke="#fff" stroke-width='7.5' opacity='0.85' data-y='1.35 0.57 0.66 0.43 1.21 1.29 0.79 0.53 1.18 1.63 1.03 0.58 1.06 0.53 0.61 0.84 1.09 1.64 0.84 0.83 1.17 2.04 1.41 0.6 0.87 0.48 0.65 1.49 1.35 0.56 0.62 0.39 0.8 1.47 1.36 0.57 0.87 1.58 1.28 0.88 0.66 1.91 1.18 0.83 1.46 0.59 0.98 0.39 1.32 3.16 1.48 0.55 1.28 0.45 0.64 1.62 0.85 0.37 0.98 0.78 1.27 0.82 0.81 1.09 1.45 0.36 1.41 0.47 1.49 4.5 0.65 0.85 1.09 0.37 1.25 1.32 1.4 0.7 1.45 0.89 1.2 1.69 1.2 0.79 0.87 0.51 1.49 1.27 1.03 0.56 0.98 0.53 0.73 1.35' fill="none"/><path class="pt" d="M726,1631.7 H792.3" stroke="#fff" stroke-width='7.5' opacity='0.85' data-y='1.08 0.75 1.44 1.8 1.29 0.47 1.08 0.62 0.85 1.78 1.41 0.61 1.29 0.53 1.35 0.54 0.99 1.56 1.31 0.52 1.18 0.75 0.63 0.46 0.69 1.55 1.38 0.7 1.03 0.56 1.19 0.85 1.39 1.32 0.78 0.38 1.31 0.48 0.89 4.32 1.3 0.56 1.06 0.73 0.75 1.47 1.15 0.9 0.93 0.8 1.44 0.87 1.14 2.15 1.44 0.37 1.32 0.55 0.76 1.79 1.16 0.77 1.34 0.64 0.68 1.59 1.07 0.59 1.3 0.5 1.31 0.58 1.36 3.53' fill="none"/><path class="pt" d="M726,1643.8 H845" stroke="#fff" stroke-width='7.5' opacity='0.85' data-y='1.1 0.61 1.37 2.08 0.73 0.7 1.23 0.63 1.31 4.19 0.85 0.71 0.66 0.6 1.29 1.23 0.87 0.8 0.64 1.67 0.66 0.77 0.92 1.61 0.71 0.61 1.15 0.39 0.87 1.43 1.04 0.77 1.33 0.46 1.23 1.01 0.91 0.83 1.42 0.51 1.29 2.15 1.09 0.49 0.68 0.7 1.26 1.64 1.33 0.73 1.17 0.44 0.73 0.88 1.37 1.53 0.9 0.48 1.07 0.52 0.88 1.46 1.33 0.58 1.04 0.46 1.06 0.51 0.69 3.74 1.24 0.75 0.94 0.73 0.86 1.14 1.11 0.78 0.76 0.9 1.35 1.85 0.77 0.67 0.69 0.57 0.91 0.77 1.02 1.5 0.82 0.88 0.87 2.1 1.12 0.36 1.36 0.79 1.42 1.98 1.17 0.72 0.91 0.71 0.84 1.87 1.01 0.56 1.15 1.21 0.63 0.88 1.28 0.47 0.64 1.48 1.15 0.38 0.76 1.49 0.66 0.48 0.91 0.45 0.75 1.28' fill="none"/><path class="pt" d="M726,1656.2 H817.3" stroke="#fff" stroke-width='7.5' opacity='0.85' data-y='0.79 0.75 1.21 3.3 1.27 0.47 0.88 2.08 0.74 0.78 1.45 0.71 0.61 1.91 0.83 0.81 1.24 0.5 1.24 4.08 1.48 0.36 0.84 1.27 1.22 0.88 0.85 1.86 0.85 0.43 1.03 0.88 1.11 2.17 1.38 0.69 1.35 0.38 1.19 0.6 1.42 1.16 0.76 0.65 0.99 0.49 0.96 0.41 1.15 1.23 1.41 0.55 0.85 1.65 1.23 0.71 1.41 0.81 1.01 1.09 0.94 0.61 0.78 0.44 1.29 0.62 0.73 1.75 0.68 0.36 1.29 0.52 1.39 0.5 1.37 1.94 1.04 0.54 1.04 2.04 0.88 0.43 0.96 0.66 1.27 1.05 0.96 0.39 1.2 0.53 1.21 1.15 1.38 0.37 1.32 0.39 1.06 1.3' fill="none"/><path class="pt" d="M726,1668.1 H829.2" stroke="#fff" stroke-width='7.5' opacity='0.85' data-y='1.42 0.87 0.76 0.37 1.16 1.99 0.91 0.69 0.73 0.47 0.82 1.72 0.8 0.39 0.85 0.48 1.29 0.69 1.39 1.6 1.36 0.62 1.33 0.37 0.96 0.84 1.17 3.06 1.04 0.87 1.19 0.8 1.24 1.91 1.45 0.67 0.76 0.49 0.78 1.92 1.29 0.79 0.65 0.79 0.63 1.86 1.29 0.67 0.93 0.43 1.34 4.25 1.11 0.5 1.44 0.69 1.25 2.14 1.17 0.49 1.02 0.47 1.38 3.44 1.2 0.86 1.34 0.73 1.19 1.46 1.02 0.62 1.47 3.76 0.77 0.78 0.91 0.78 1.43 1.55 1.42 0.69 0.96 0.86 0.68 1.59 1.23 0.82 1.39 0.36 1.09 1.39 0.79 0.7 1.12 0.83 1.28 1.67 0.7 0.78 1.4 2.05' fill="none"/><path class="pt" d="M726,1681.3 H903" stroke="#fff" stroke-width='7.5' opacity='0.85' data-y='1.15 0.89 1.21 0.64 1.0 1.93 1.06 0.42 1.34 0.72 1.46 1.69 0.76 0.72 1.33 0.37 1.3 1.98 1.01 0.63 1.05 1.4 0.73 0.36 0.8 0.4 0.7 1.73 1.29 0.84 1.48 0.7 1.07 1.33 0.91 0.83 0.6 0.83 0.62 0.86 0.95 1.22 1.14 0.89 1.28 0.46 0.92 1.97 0.7 0.6 1.21 0.5 1.49 2.26 1.43 0.86 1.39 0.8 1.37 0.74 0.86 1.69 0.75 0.53 1.05 0.6 1.46 1.82 1.1 0.8 0.9 0.86 1.39 1.8 0.83 0.86 0.97 3.63 0.69 0.38 0.77 0.72 0.89 1.31 0.88 0.82 0.79 1.46 1.02 0.87 1.31 0.66 1.09 0.61 1.41 1.36 1.21 0.5 1.04 1.75 1.29 0.37 0.93 1.67 0.75 0.41 1.13 1.58 0.99 0.75 1.19 1.53 0.71 0.72 0.75 0.72 1.48 0.67 1.14 1.21 0.69 0.88 1.21 3.9 1.46 0.85 1.25 1.65 1.17 0.68 0.8 1.91 0.61 0.4 1.43 0.49 1.33 3.76 1.45 0.63 1.08 1.85 1.31 0.68 1.08 0.81 1.49 0.4 1.24 1.36 1.33 0.63 1.05 0.58 0.99 0.44 0.88 1.55 0.69 0.37 0.65 0.64 1.34 1.4 1.15 0.66 1.19 0.37 0.8 0.76 0.67 1.95 1.01 0.44 1.12 0.41 1.44 1.65' fill="none"/><path class="pt" d="M726,1693.9 H769" stroke="#fff" stroke-width='7.5' opacity='0.85' data-y='1.42 0.52 0.72 1.51 1.24 0.62 1.06 1.49 1.1 0.87 0.91 1.81 1.18 0.78 1.01 0.55 1.06 1.62 0.74 0.86 1.48 0.7 1.08 0.82 0.85 4.46 1.4 0.52 1.28 0.81 0.81 4.1 1.09 0.86 0.9 0.56 0.81 1.96 1.14 0.62 1.48 0.7 0.69 1.28' fill="none"/><path class="pt" d="M787,1581.1 H811" stroke="#fff" stroke-width='5' opacity='0.85' data-y='1.02 0.42 0.86 0.52 1.12 1.6 1.08 0.63 1.39 0.83 1.04 1.21 1.36 0.59 1.36 1.62 0.97 0.62 0.87 0.51 1.15 1.8 1.3 0.51 0.99 0.81 1.49 1.44 0.88 0.67 1.37 0.38 1.09 1.92' fill="none"/></g>
<g id="cmk"><circle r="3.3" fill="none" stroke="#fff" stroke-width="1.3"/><path d="M-5,0 H5 M0,-5 V5" stroke="#fff" stroke-width="1.2"/><circle r="1.3" fill="#fff"/></g>
</defs>
<rect x="0" y="0" width="1024" height="1780" fill="url(#bg)"/>
<linearGradient id="hv" x1="0" y1="0" x2="1" y2="0"><stop offset="0" stop-color="#fff" stop-opacity="0"/><stop offset="0.5" stop-color="#fff" stop-opacity="0.22"/><stop offset="1" stop-color="#fff" stop-opacity="0"/></linearGradient>
<linearGradient id="hv1" x1="0" y1="0" x2="1" y2="0"><stop offset="0" stop-color="#fff" stop-opacity="0.05"/><stop offset="0.5" stop-color="#fff" stop-opacity="0.45"/><stop offset="1" stop-color="#fff" stop-opacity="0.1"/></linearGradient>
<rect x="-20" y="503" width="1064" height="80" fill="url(#hv1)" filter="url(#blur6)"/>
<rect x="0" y="580" width="1024" height="1200" fill="url(#hv)"/>
<polygon points="142,39.5 838,47.8 944.5,510 38,516" fill="#000"/>
<g class="mini"><use href="#P1m" transform="matrix(0.13982,0.00094,-0.02112,0.15192,170.475,-25.640)"/></g><g class="mini"><use href="#P2m" transform="matrix(0.17789,0.00025,0.00458,0.17410,489.774,-141.850)"/></g><g class="mini"><use href="#P2am" transform="matrix(0.17323,0.00173,-0.00002,0.17286,319.515,-143.127)"/></g><g stroke="#2ee62e" stroke-width="1" fill="none"><circle cx="367" cy="91.5" r="1.6"/><path d="M367,93 V104"/><circle cx="367" cy="144.5" r="1.6"/><path d="M367,131 V143"/><circle cx="374.5" cy="91.5" r="1.6"/><path d="M374.5,93 V104"/><circle cx="374.5" cy="144.5" r="1.6"/><path d="M374.5,131 V143"/><circle cx="393.5" cy="91.5" r="1.6"/><path d="M393.5,93 V104"/><circle cx="393.5" cy="144.5" r="1.6"/><path d="M393.5,131 V143"/><circle cx="401.5" cy="91.5" r="1.6"/><path d="M401.5,93 V104"/><circle cx="401.5" cy="144.5" r="1.6"/><path d="M401.5,131 V143"/><path d="M365,97 H403 M365,99.5 H403 M365,137 H403 M365,139.5 H403"/><circle cx="349" cy="106.5" r="1.6"/><path d="M351,106.5 H362"/><circle cx="416.7" cy="106.5" r="1.6"/><path d="M402,106.5 H415"/><circle cx="349" cy="112" r="1.6"/><path d="M351,112 H362"/><circle cx="416.7" cy="112" r="1.6"/><path d="M402,112 H415"/><circle cx="349" cy="124" r="1.6"/><path d="M351,124 H362"/><circle cx="416.7" cy="124" r="1.6"/><path d="M402,124 H415"/><circle cx="349" cy="129" r="1.6"/><path d="M351,129 H362"/><circle cx="416.7" cy="129" r="1.6"/><path d="M402,129 H415"/><path d="M353,105 V131 M356,105 V131 M410,105 V131 M413,105 V131"/></g><rect x="364.5" y="106.3" width="36" height="22.5" fill="none" stroke="#f0f020" stroke-width="2.6"/><path d="M372,108 V128 M392,108 V128" stroke="#fff" stroke-width="1.2"/><path d="M373,113.5 H391" stroke="#ddd" stroke-width="1"/><path d="M360,116 H368 M389,116 H396" stroke="#e01818" stroke-width="1"/><rect x="712.8" y="85" width="37" height="14.5" fill="none" stroke="#fff" stroke-width="1.3"/><rect x="712.8" y="85" width="37" height="6.5" fill="#fff"/><rect x="715" y="93" width="5" height="4.5" fill="#22dd22"/><rect x="722" y="93" width="5" height="4.5" fill="#22dd22"/><rect x="729" y="93" width="5" height="4.5" fill="#22dd22"/><rect x="736" y="93" width="5" height="4.5" fill="#22dd22"/><rect x="743" y="93" width="5" height="4.5" fill="#22dd22"/><polygon points="752,100.2 752,91 764.5,86 776.8,91 776.8,100.2" fill="#fff"/><rect x="770" y="92" width="3.5" height="3.5" fill="#22cc22"/><path d="M774,100 h4" stroke="#e02020" stroke-width="1.5"/><path d="M782.4,96 h4 M786,93 h12 v5 h-12z" stroke="#fff" stroke-width="1" fill="#2a2"/><path d="M721.8,111.4 L735.8,101.1 L749.8,111.4 Z M735.8,101.1 V111.4 M728,106.5 L735.8,111.4 L743.5,106.5" stroke="#fff" stroke-width="1" fill="none"/><path d="M719,112.5 H752 M719,106 V112.5" stroke="#2ee62e" stroke-width="1.2"/><rect x="717.3" y="114.1" width="39.3" height="23.6" fill="none" stroke="#fff" stroke-width="1.2"/><rect x="719" y="116" width="5.5" height="5" fill="none" stroke="#fff" stroke-width="0.8"/><rect x="719" y="124" width="5.5" height="5" fill="#22dd22"/><rect x="726.5" y="116" width="5.5" height="5" fill="none" stroke="#fff" stroke-width="0.8"/><rect x="726.5" y="124" width="5.5" height="5" fill="#22dd22"/><rect x="734" y="116" width="5.5" height="5" fill="none" stroke="#fff" stroke-width="0.8"/><rect x="734" y="124" width="5.5" height="5" fill="#22dd22"/><rect x="741.5" y="116" width="5.5" height="5" fill="none" stroke="#fff" stroke-width="0.8"/><rect x="741.5" y="124" width="5.5" height="5" fill="#22dd22"/><rect x="749" y="116" width="5.5" height="5" fill="none" stroke="#fff" stroke-width="0.8"/><rect x="749" y="124" width="5.5" height="5" fill="#22dd22"/><path d="M717.3,131.5 H756.6 M717.3,133.5 H756.6" stroke="#fff" stroke-width="0.8"/><path d="M706,118 H716 M706,128 H716 M709,116 V131 M720,137.7 V140 H752" stroke="#2ee62e" stroke-width="1" fill="none"/><circle cx="706" cy="118" r="1.3" fill="#2ee62e"/><circle cx="706" cy="128" r="1.3" fill="#2ee62e"/><path d="M757.7,126 L770.6,115.2 L783.5,126 V138.8 H757.7 Z M757.7,126 H783.5 M760,131 H781" stroke="#fff" stroke-width="1.1" fill="none"/><rect x="770" y="128" width="4" height="4" fill="#22dd22"/><path d="M757,139.5 H784" stroke="#2ee62e" stroke-width="1.5"/><rect x="790" y="119" width="6" height="12" fill="#28d8e8"/><path d="M788,132 H800.4" stroke="#bbb" stroke-width="1"/><rect x="140.5" y="212.7" width="82" height="16.1" fill="none" stroke="#fff" stroke-width="1.3"/><rect x="140.5" y="212.7" width="82" height="7" fill="#fff"/><rect x="143" y="221.5" width="77" height="5" fill="#22dd22"/><path d="M144,224 H219" stroke="#000" stroke-width="1.2" stroke-dasharray="3 2"/><polygon points="227,228.8 227,218 243.9,211.6 256.2,218 256.2,228.8" fill="#fff"/><rect x="247" y="216.5" width="3.5" height="4.5" fill="#22cc22"/><path d="M252,229 h6" stroke="#e02020" stroke-width="1.5"/><path d="M265.2,224.5 h5 M269,221 h12 v5.5 h-12z" stroke="#fff" stroke-width="1" fill="#2a2"/><path d="M163,243 L178,232.9 L193.3,243 Z M178,232.9 V243" stroke="#fff" stroke-width="1.1" fill="none"/><path d="M160,244.5 H195 M160,238 V245" stroke="#2ee62e" stroke-width="1.2"/><rect x="132.7" y="253.1" width="83.1" height="15.7" fill="none" stroke="#fff" stroke-width="1.3"/><rect x="134.5" y="254.8" width="6.3" height="5" fill="#000" stroke="#fff" stroke-width="0.8"/><rect x="142.6" y="254.8" width="6.3" height="5" fill="#000" stroke="#fff" stroke-width="0.8"/><rect x="150.7" y="254.8" width="6.3" height="5" fill="#000" stroke="#fff" stroke-width="0.8"/><rect x="158.8" y="254.8" width="6.3" height="5" fill="#000" stroke="#fff" stroke-width="0.8"/><rect x="166.9" y="254.8" width="6.3" height="5" fill="#000" stroke="#fff" stroke-width="0.8"/><rect x="175" y="254.8" width="6.3" height="5" fill="#000" stroke="#fff" stroke-width="0.8"/><rect x="183.1" y="254.8" width="6.3" height="5" fill="#000" stroke="#fff" stroke-width="0.8"/><rect x="191.2" y="254.8" width="6.3" height="5" fill="#000" stroke="#fff" stroke-width="0.8"/><rect x="199.3" y="254.8" width="6.3" height="5" fill="#000" stroke="#fff" stroke-width="0.8"/><rect x="207.4" y="254.8" width="6.3" height="5" fill="#000" stroke="#fff" stroke-width="0.8"/><rect x="135" y="262" width="78" height="5" fill="#22dd22"/><path d="M137,264.5 H212" stroke="#000" stroke-width="1.2" stroke-dasharray="3 2"/><g stroke="#2ee62e" stroke-width="1" fill="none"><path d="M117,256 H131 M117,262 H131 M117,268 H131 M121,254 V270 M126,254 V270"/></g><circle cx="116" cy="256" r="1.4" fill="#2ee62e"/><circle cx="116" cy="268" r="1.4" fill="#2ee62e"/><path d="M220.3,262 L234.3,252 L248.4,262 V268.8 H220.3 Z" stroke="#fff" stroke-width="1.2" fill="none"/><path d="M220.3,276.7 H248.4 M220.3,273 V278 M248.4,273 V278" stroke="#2ee62e" stroke-width="1.2"/><rect x="231" y="256" width="4" height="4" fill="#22dd22"/><g stroke="#2ee62e" stroke-width="1.1" fill="none"><path d="M130,273.5 V288"/><circle cx="130" cy="290" r="1.7"/><path d="M137.3,273.5 V288"/><circle cx="137.3" cy="290" r="1.7"/><path d="M144.6,273.5 V288"/><circle cx="144.6" cy="290" r="1.7"/><path d="M151.9,273.5 V288"/><circle cx="151.9" cy="290" r="1.7"/><path d="M159.2,273.5 V288"/><circle cx="159.2" cy="290" r="1.7"/><path d="M166.5,273.5 V288"/><circle cx="166.5" cy="290" r="1.7"/><path d="M173.8,273.5 V288"/><circle cx="173.8" cy="290" r="1.7"/><path d="M181.1,273.5 V288"/><circle cx="181.1" cy="290" r="1.7"/><path d="M188.4,273.5 V288"/><circle cx="188.4" cy="290" r="1.7"/><path d="M195.7,273.5 V288"/><circle cx="195.7" cy="290" r="1.7"/><path d="M203,273.5 V288"/><circle cx="203" cy="290" r="1.7"/><path d="M210.3,273.5 V288"/><circle cx="210.3" cy="290" r="1.7"/><path d="M128,279 H212 M128,283 H212"/></g><g stroke="#2ee62e" stroke-width="1" fill="none"><circle cx="374.3" cy="208.5" r="1.7"/><path d="M374.3,210 V224"/><circle cx="373.3" cy="273" r="1.7"/><path d="M373.3,256 V271.3"/><circle cx="381.3" cy="208.5" r="1.7"/><path d="M381.3,210 V224"/><circle cx="380.3" cy="273" r="1.7"/><path d="M380.3,256 V271.3"/><circle cx="388.3" cy="208.5" r="1.7"/><path d="M388.3,210 V224"/><circle cx="387.3" cy="273" r="1.7"/><path d="M387.3,256 V271.3"/><circle cx="395.3" cy="208.5" r="1.7"/><path d="M395.3,210 V224"/><circle cx="394.3" cy="273" r="1.7"/><path d="M394.3,256 V271.3"/><circle cx="402.3" cy="208.5" r="1.7"/><path d="M402.3,210 V224"/><circle cx="401.3" cy="273" r="1.7"/><path d="M401.3,256 V271.3"/><circle cx="409.3" cy="208.5" r="1.7"/><path d="M409.3,210 V224"/><circle cx="408.3" cy="273" r="1.7"/><path d="M408.3,256 V271.3"/><circle cx="416.3" cy="208.5" r="1.7"/><path d="M416.3,210 V224"/><circle cx="415.3" cy="273" r="1.7"/><path d="M415.3,256 V271.3"/><circle cx="423.3" cy="208.5" r="1.7"/><path d="M423.3,210 V224"/><circle cx="422.3" cy="273" r="1.7"/><path d="M422.3,256 V271.3"/><circle cx="430.3" cy="208.5" r="1.7"/><path d="M430.3,210 V224"/><circle cx="429.3" cy="273" r="1.7"/><path d="M429.3,256 V271.3"/><circle cx="437.3" cy="208.5" r="1.7"/><path d="M437.3,210 V224"/><circle cx="436.3" cy="273" r="1.7"/><path d="M436.3,256 V271.3"/><circle cx="444.3" cy="208.5" r="1.7"/><path d="M444.3,210 V224"/><circle cx="443.3" cy="273" r="1.7"/><path d="M443.3,256 V271.3"/><circle cx="451.3" cy="208.5" r="1.7"/><path d="M451.3,210 V224"/><circle cx="450.3" cy="273" r="1.7"/><path d="M450.3,256 V271.3"/><path d="M373,215 H453 M373,218 H453 M371,262 H452 M371,265 H452"/><path d="M357,227 H371 M453,227 H467"/><path d="M357,236 H371 M453,236 H467"/><path d="M357,245 H371 M453,245 H467"/><path d="M357,253 H371 M453,253 H467"/><path d="M360,225 V255 M363,225 V255 M460,225 V255 M463,225 V255"/></g><path d="M372.1,255.4 V225 H451.8 V255.4 M437.2,225 V255.4" stroke="#fff" stroke-width="1.3" fill="none"/><path d="M372.1,255.4 H451.8" stroke="#e8c040" stroke-width="1.3"/><g stroke="#2ee62e" stroke-width="1" fill="none"><circle cx="562.7" cy="210.4" r="1.7"/><path d="M562.7,212 V226"/><circle cx="571" cy="210.4" r="1.7"/><path d="M571,212 V226"/><circle cx="591.2" cy="210.4" r="1.7"/><path d="M591.2,212 V226"/><circle cx="600.2" cy="210.4" r="1.7"/><path d="M600.2,212 V226"/><circle cx="565.4" cy="271.1" r="1.7"/><path d="M565.4,256 V269.4"/><circle cx="577" cy="271.1" r="1.7"/><path d="M577,256 V269.4"/><circle cx="592" cy="271.1" r="1.7"/><path d="M592,256 V269.4"/><circle cx="604" cy="271.1" r="1.7"/><path d="M604,256 V269.4"/><path d="M562,216 H601 M562,222.8 H601 M562,262 H605 M562,266 H605"/><circle cx="547" cy="227" r="1.7"/><path d="M549,227 H562"/><circle cx="619.3" cy="227" r="1.7"/><path d="M604,227 H617.6"/><circle cx="547" cy="235" r="1.7"/><path d="M549,235 H562"/><circle cx="619.3" cy="235" r="1.7"/><path d="M604,235 H617.6"/><circle cx="547" cy="253" r="1.7"/><path d="M549,253 H562"/><circle cx="619.3" cy="253" r="1.7"/><path d="M604,253 H617.6"/><path d="M553,226 V254 M556,226 V254 M609,226 V254 M612,226 V254"/></g><path d="M563.1,227.3 H603.1 V254.2 H563.1 Z M572.1,229 V254.2 M593.4,229 V254.2 M563.1,235.1 H603.1" stroke="#fff" stroke-width="1.3" fill="none"/><path d="M565,227.3 H572 M578,227.3 H590 M596,227.3 H601 M565,254.2 H601" stroke="#f0f020" stroke-width="1.3"/><g stroke="#2ee62e" stroke-width="1.1" fill="none"><circle cx="725" cy="211" r="1.5"/><path d="M725,212.5 V226"/><circle cx="730.5" cy="211" r="1.5"/><path d="M730.5,212.5 V226"/><circle cx="736" cy="211" r="1.5"/><path d="M736,212.5 V226"/><circle cx="741.5" cy="211" r="1.5"/><path d="M741.5,212.5 V226"/><circle cx="747" cy="211" r="1.5"/><path d="M747,212.5 V226"/><circle cx="752.5" cy="211" r="1.5"/><path d="M752.5,212.5 V226"/><path d="M724,215 H754 M724,218 H754"/><path d="M775,215 V225"/><path d="M780.7,215 V225"/><path d="M786.4,215 V225"/><path d="M792.1,215 V225"/><path d="M797.8,215 V225"/><path d="M803.5,215 V225"/><path d="M774.4,215 H804.3 M774.4,217.5 H804.3"/><path d="M816,215 V227"/><path d="M822.5,215 V227"/><path d="M829,215 V227"/><path d="M815,215.5 H830.6"/><path d="M710,229 H726 M710,234 H726 M710,239 H726 M714,228 V242"/><path d="M770,234 H776 M770,238 H776"/></g><rect x="728.4" y="227.3" width="28.1" height="14.1" fill="#fff"/><rect x="731" y="229" width="8" height="7" fill="#a01010"/><rect x="741" y="229" width="8" height="7" fill="#a01010"/><rect x="731" y="236" width="18" height="3" fill="#000"/><rect x="768.8" y="232.9" width="38.2" height="7.9" fill="#fff"/><rect x="768.8" y="232.9" width="9" height="7.9" fill="#22cc22"/><rect x="819.4" y="233.3" width="12.8" height="7.5" fill="#fff"/><rect x="834" y="232" width="8" height="9" fill="#22cc22"/><polygon points="118.6,364.5 202.1,364.5 199.2,395.6 112.7,395.6" fill="none" stroke="#fff" stroke-width="2"/><path d="M118.6,366 H202.1" stroke="#fff" stroke-width="4"/><path d="M203,366 H281" stroke="#fff" stroke-width="1.8" stroke-dasharray="3.5 1.5"/><path d="M203,370 H269" stroke="#fff" stroke-width="1.8" stroke-dasharray="3.5 1.5"/><path d="M203,374.5 H255.5" stroke="#fff" stroke-width="1.8" stroke-dasharray="3.5 1.5"/><path d="M203,379 H242" stroke="#fff" stroke-width="1.8" stroke-dasharray="3.5 1.5"/><path d="M203,383.5 H228.5" stroke="#fff" stroke-width="1.8" stroke-dasharray="3.5 1.5"/><path d="M203,388 H215" stroke="#fff" stroke-width="1.8" stroke-dasharray="3.5 1.5"/><path d="M203,392 H203" stroke="#fff" stroke-width="1.8" stroke-dasharray="3.5 1.5"/><path d="M95,370.4 H118" stroke="#fff" stroke-width="1.5" stroke-dasharray="2 1"/><path d="M281,371 H303" stroke="#fff" stroke-width="1.5" stroke-dasharray="2 1"/><path d="M98,363 h8 M99,366 h7" stroke="#fff" stroke-width="1.3"/><path d="M301.7,364 H318 V395.6 H310 M310,372 L305,368 M302,371 H318" stroke="#2ee62e" stroke-width="1.2" fill="none"/><path d="M271,372 L262.2,457.7 M280.3,372 L272.4,457.7" stroke="#fff" stroke-width="1.2"/><path d="M112,402 H200 M112,399 V404 M155,399 V404 M200,399 V404" stroke="#2ee62e" stroke-width="1.3"/><path d="M104,444.5 H191.8 V429.9 M133.2,430 V444.5 M162.5,430 V444.5 M104,444.5 V432" stroke="#fff" stroke-width="1.3" fill="none"/><path d="M150,430 H272 M191.8,437.8 H272" stroke="#fff" stroke-width="1.4"/><path d="M101,460 H271 M101,454 V461 M130,454 V461 M160,454 V461 M189,454 V461 M218,454 V461 M262,452 V461" stroke="#2ee62e" stroke-width="1.3" fill="none"/><path d="M101,457 H271" stroke="#2ee62e" stroke-width="1"/><g stroke="#2ee62e" stroke-width="1.1"><path d="M275.4,423 H291 M275.4,431 H291 M275.4,438 H291 M275.4,445 H291 M280,421 V446"/></g><g fill="#fff"><circle cx="292" cy="423" r="1.3"/><circle cx="292" cy="431" r="1.3"/><circle cx="292" cy="438" r="1.3"/><circle cx="292" cy="445" r="1.3"/></g><use href="#cmk" x="308.8" y="64.5"/><use href="#cmk" x="341.1" y="71"/><use href="#cmk" x="517.6" y="73.5"/><use href="#cmk" x="825.1" y="73.2"/><use href="#cmk" x="287.7" y="198.1"/><use href="#cmk" x="478.8" y="198.1"/><use href="#cmk" x="668.2" y="198.8"/><use href="#cmk" x="853" y="201.4"/><use href="#cmk" x="328.1" y="354.6"/>
<g id="frames" fill="none" stroke="#1ac8d0" stroke-width="1.55"><polygon points="145,52 320.5,54 308.5,174 120,173.5"/><polygon points="152.15,54.48 317.65,56.37 306.23,170.59 128.35,170.12"/><polygon points="322,56.4 492.6,58.3 493,174.8 311.3,174.3"/><polygon points="329.31,58.88 490.01,60.67 490.39,171.39 319.14,170.92"/><polygon points="498.4,58.5 666,59.8 678.8,176 499,176"/><polygon points="505.91,60.96 663.65,62.18 675.81,172.6 506.48,172.6"/><polygon points="670.1,59.8 835.2,61.3 861,177 684.7,177"/><polygon points="677.97,62.27 833.07,63.68 857.58,173.6 691.83,173.6"/><polygon points="118.1,182.4 304.5,184 291,323.9 88.3,323.5"/><polygon points="125.25,184.86 301.66,186.38 288.72,320.5 96.68,320.12"/><polygon points="309.2,183.9 493.4,184.6 494.5,323.9 296.8,323.9"/><polygon points="316.51,186.33 490.82,186.99 491.87,320.5 304.63,320.5"/><polygon points="499.8,185.3 681,186.2 695.6,323.9 501.3,324.5"/><polygon points="507.33,187.74 678.64,188.59 692.63,320.51 508.76,321.08"/><polygon points="685.7,186.2 863.2,186.2 894.6,324.5 701.4,324.5"/><polygon points="693.52,188.6 861.08,188.6 891.16,321.1 708.56,321.1"/><polygon points="84.9,336.3 344.8,337 334,501 50,504.5"/><polygon points="92.06,338.72 342.04,339.39 331.62,497.63 58.39,501"/></g>
<linearGradient id="rollg2" gradientUnits="userSpaceOnUse" x1="887" y1="260" x2="935.8" y2="248.9"><stop offset="0" stop-color="#f3f3f3"/><stop offset="0.12" stop-color="#ebebeb"/><stop offset="0.3" stop-color="#f8f8f8"/><stop offset="0.55" stop-color="#ffffff"/><stop offset="1" stop-color="#fcfcfc"/></linearGradient>
<ellipse cx="960" cy="515" rx="24" ry="12" fill="#000" opacity="0.38" filter="url(#blur6)"/>
<path d="M941.8,498.5 L836.5,37 C835,18 876,12 881,30 L992.2,490.4 Z" fill="url(#rollg2)"/>
<ellipse cx="967" cy="494.5" rx="25.5" ry="14.5" transform="rotate(-8 967 494.5)" fill="#f7f7f7"/>
<ellipse cx="968.5" cy="495" rx="23.5" ry="12" transform="rotate(-8 968 495)" fill="url(#capg)"/>
<path d="M944,509 L838,47.8" stroke="#2050a0" stroke-width="0.8" opacity="0.6"/>
<linearGradient id="protg" x1="0" y1="0" x2="1" y2="1"><stop offset="0" stop-color="#f3f3f3"/><stop offset="0.5" stop-color="#ebebeb"/><stop offset="1" stop-color="#e3e3e3"/></linearGradient>
<g transform="translate(1.2,2.6)" opacity="0.9"><path transform="matrix(94.5,-51.6,-51.65,-72.48,142.8,498.0)" d="M-1,0 A1,1 0 0 0 1,0 Z M-0.7764,0.193 L0.7764,0.193 A0.8,0.8 0 0 1 -0.7764,0.193 Z" fill="#a8a8a8" fill-rule="evenodd"/></g>
<path transform="matrix(94.5,-51.6,-51.65,-72.48,142.8,498.0)" d="M-1,0 A1,1 0 0 0 1,0 Z M-0.7764,0.193 L0.7764,0.193 A0.8,0.8 0 0 1 -0.7764,0.193 Z" fill="url(#protg)" fill-rule="evenodd"/>
<path transform="matrix(94.5,-51.6,-51.65,-72.48,142.8,498.0)" d="M-0.7764,0.193 A0.8,0.8 0 0 0 0.7764,0.193" fill="none" stroke="#c9c9c9" stroke-width="1.2" vector-effect="non-scaling-stroke"/>
<path d="M131,475.3 L108.8,474.8 C105,478.5 97,478.6 92,478.2 C86,477.8 81,474.5 78.5,471.3 L64,480 L71.7,488.4 C76,486.5 82,486.4 87.3,487 C96,487.8 104,492 112.7,495.3 L131,496 Z" fill="#e6e6e6"/>
<path d="M64,480 L71.7,488.4 C76,486.5 82,486.4 87.3,487 C96,487.8 104,492 112.7,495.3" fill="none" stroke="#c8c8c8" stroke-width="1"/>
<polygon points="136,478.2 401.3,508.5 397.5,527.6 136,497.7" fill="#ebebeb"/>
<polygon points="136,478.2 401.3,508.5 401,511 136,481" fill="#f6f6f6"/>
<polygon points="136,497.7 397.5,527.6 397.2,530 136,500" fill="#b8b8b8"/>
<polygon points="397.5,527.6 401.3,508.5 403,509.5 399.3,529.5" fill="#a9a9a9"/>
<rect x="126.9" y="475.5" width="21.8" height="17.5" fill="#dadada"/>
<ellipse cx="137.8" cy="493" rx="10.9" ry="5" fill="#cfcfcf"/>
<path d="M126.9,483 q10.9,5 21.8,0 M126.9,487.5 q10.9,5 21.8,0" stroke="#c2c2c2" stroke-width="1" fill="none"/>
<ellipse cx="137.8" cy="475.5" rx="10.9" ry="8.9" fill="#efefef"/>
<ellipse cx="137.8" cy="475.5" rx="7" ry="5.6" fill="none" stroke="#e2e2e2" stroke-width="1"/>
<circle cx="137.8" cy="475.5" r="1.4" fill="#666"/>
<rect x="56" y="577" width="912" height="567" fill="#f4f4f4" opacity="0.7" filter="url(#blur2)"/>
<rect x="60.3" y="581" width="903.5" height="557.6" fill="#8c8c8c"/>
<rect x="61.5" y="582.6" width="901.5" height="1.2" fill="#f2f2f2"/>
<rect x="61.8" y="584" width="901.4" height="553" fill="#000"/>
<rect x="56" y="1161" width="912" height="568" fill="#f4f4f4" opacity="0.7" filter="url(#blur2)"/>
<rect x="60.3" y="1165" width="903.5" height="558.6" fill="#8c8c8c"/>
<rect x="61.8" y="1168" width="901.4" height="554" fill="#000"/>
<use href="#P1"/>
<use href="#P2"/>
</svg></body></html>
